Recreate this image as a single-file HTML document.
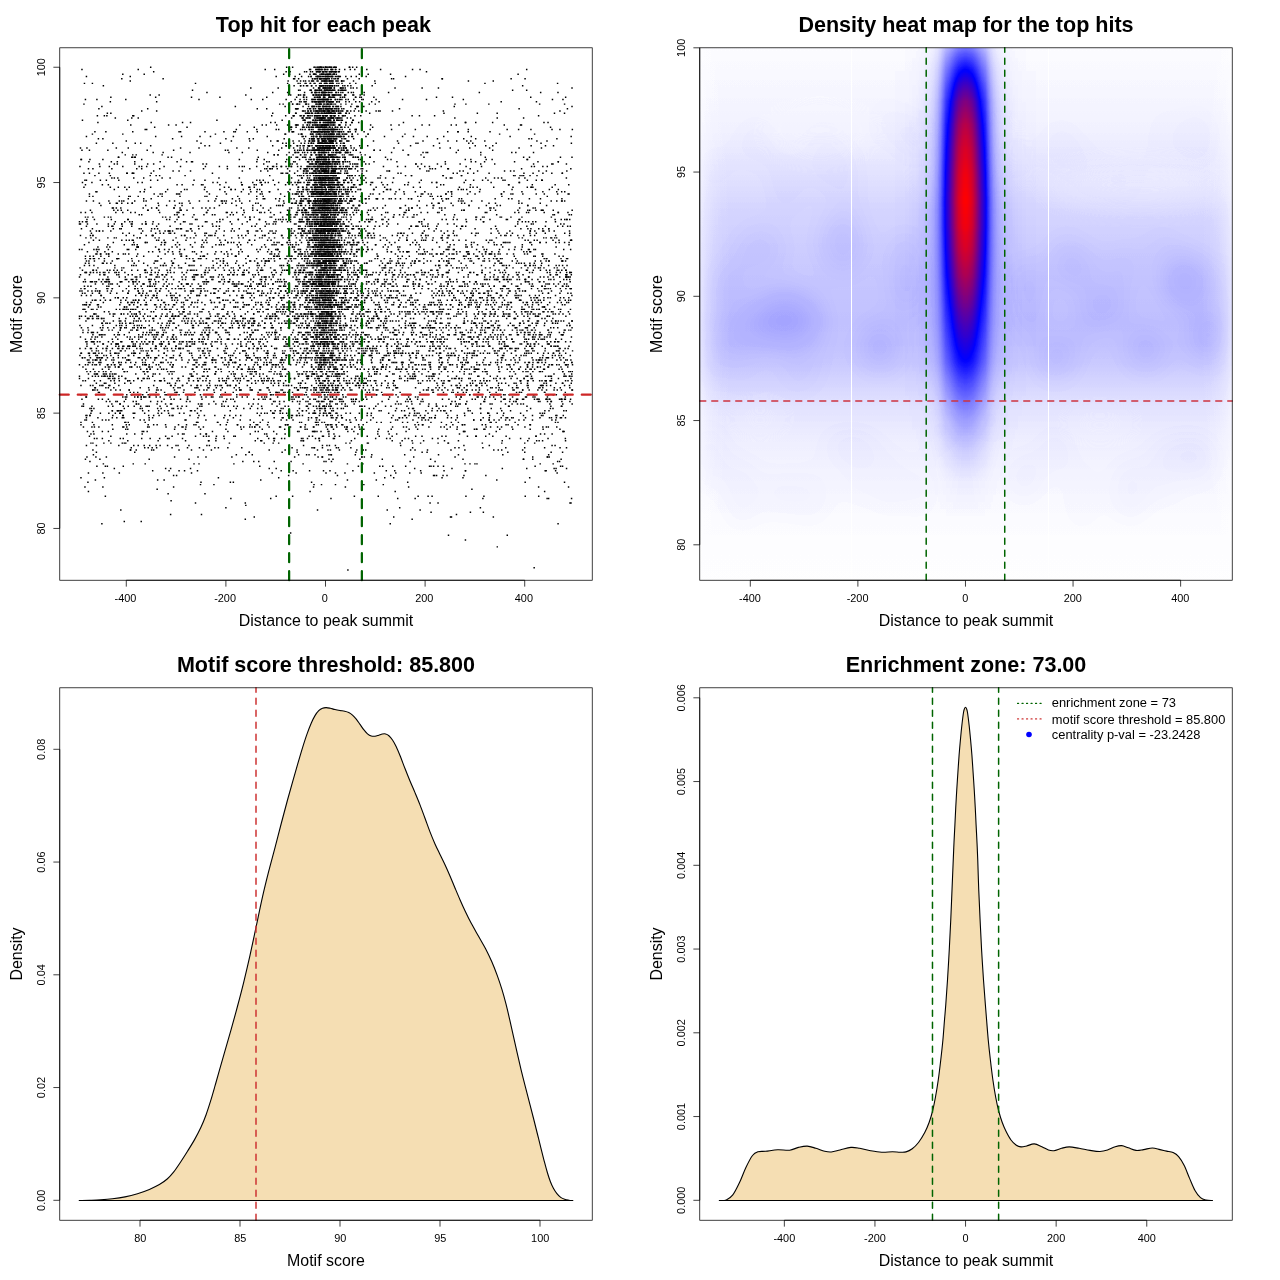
<!DOCTYPE html>
<html lang="en"><head><meta charset="utf-8"><title>Motif enrichment plots</title>
<style>html,body{margin:0;padding:0;background:#fff}svg{display:block}text{font-family:"Liberation Sans",Arial,Helvetica,sans-serif;fill:#000}</style>
</head><body>
<svg width="1280" height="1280" viewBox="0 0 1280 1280">
<rect width="1280" height="1280" fill="#fff"/>
<g transform="translate(324.76,67.24) scale(0.49802,2.3060)" stroke="#000" stroke-width="0.6375" fill="none">
<path d="M-23 0h2.95m7 0h2.95m3 0h2.95m5 0h2.95m-1 0h2.95m5 0h2.95m5 0h2.95m0 0h2.95m38 0h2.95M-102 1h2.95m80 0h2.95m0 0h2.95m2 0h2.95m7 0h2.95m9.1 0h2.95m6 0h2.95m27.1 0h2.95m122 0h2.95M-79 2h2.95m46 0h2.95m14.1 0h2.95m5 0h2.95m4 0h2.95m7 0h2.95m5 0h2.95m5 0h2.95M-407 3h2.95m332.1 0h2.95m46 0h2.95m9.1 0h2.95m4 0h2.95m4 0h2.95m-2 0h2.95m3 0h2.95m-2 0h2.95m4 0h2.95m1 0h2.95m362.1 0h2.95M-61 4h2.95m29.1 0h2.95m7 0h2.95m1 0h2.95m-2 0h2.95m5 0h2.95m4 0h2.95m1 0h2.95m-1 0h2.95m3 0h2.95m-2 0h2.95m9.1 0h2.95m23.1 0h2.95M-409 5h2.95m352.1 0h2.95m35 0h2.95m3 0h2.95m-2 0h2.95m4 0h2.95m1 0h2.95m-2 0h2.95m7 0h2.95m10.1 0h2.95m108 0h2.95m261.1 0h2.95M-50 6h2.95m19.1 0h2.95m10.1 0h2.95m10.1 0h2.95m7 0h2.95m4 0h2.95m14.1 0h2.95m64 0h2.95M-468 7h2.95m414.1 0h2.95m18.1 0h2.95m18.1 0h2.95m7 0h2.95m-2 0h2.95m5 0h2.95m1 0h2.95m-2 0h2.95m31.1 0h2.95m414.1 0h2.95M-50 8h2.95m19.1 0h2.95m14.1 0h2.95m-2 0h2.95m0 0h2.95m0 0h2.95m5 0h2.95m3 0h2.95m6 0h2.95m17.1 0h2.95m354.1 0h2.95M-14 9h2.95m7 0h2.95m1 0h2.95m-2 0h2.95m3 0h2.95m-2 0h2.95m7 0h2.95m9.1 0h2.95m7 0h2.95m97 0h2.95M-267 10h2.95m235.1 0h2.95m10.1 0h2.95m5 0h2.95m7 0h2.95m2 0h2.95m5 0h2.95m9.1 0h2.95m6 0h2.95m365.1 0h2.95M-42 11h2.95m18.1 0h2.95m-2 0h2.95m5 0h2.95m3 0h2.95m-2 0h2.95m1 0h2.95m-2 0h2.95m8.1 0h2.95m12.1 0h2.95m23.1 0h2.95m254.1 0h2.95M-334 12h2.95m277.1 0h2.95m26.1 0h2.95m5 0h2.95m6 0h2.95m2 0h2.95m-2 0h2.95m4 0h2.95m6 0h2.95m-1 0h2.95m3 0h2.95m6 0h2.95m23.1 0h2.95M-341 13h2.95m280.1 0h2.95m36 0h2.95m5 0h2.95m15.1 0h2.95m5 0h2.95m16.1 0h2.95m32 0h2.95m183.1 0h2.95M-459 14h2.95m330.1 0h2.95m80 0h2.95m18.1 0h2.95m6 0h2.95m4 0h2.95m0 0h2.95m-1 0h2.95m1 0h2.95m-2 0h2.95m5 0h2.95m15.1 0h2.95m24.1 0h2.95m95 0h2.95m319.1 0h2.95M-52 15h2.95m10.1 0h2.95m15.1 0h2.95m3 0h2.95m1 0h2.95m-2 0h2.95m3 0h2.95m4 0h2.95m1 0h2.95m2 0h2.95m-1 0h2.95m6 0h2.95m2 0h2.95m38 0h2.95m352.1 0h2.95M-74 16h2.95m15.1 0h2.95m1 0h2.95m15.1 0h2.95m19.1 0h2.95m6 0h2.95m5 0h2.95m4 0h2.95m16.1 0h2.95m66 0h2.95m327.1 0h2.95M-81 17h2.95m51 0h2.95m-1 0h2.95m8.1 0h2.95m6 0h2.95m4 0h2.95m4 0h2.95m10.1 0h2.95m26.1 0h2.95m23.1 0h2.95M-357 18h2.95m295.1 0h2.95m24.1 0h2.95m15.1 0h2.95m3 0h2.95m7 0h2.95m2 0h2.95m-1 0h2.95m1 0h2.95m-2 0h2.95m9.1 0h2.95m31.1 0h2.95M-369 19h2.95m325.1 0h2.95m14.1 0h2.95m4 0h2.95m5 0h2.95m3 0h2.95m4 0h2.95m1 0h2.95m-2 0h2.95m4 0h2.95m4 0h2.95m7 0h2.95m15.1 0h2.95m48 0h2.95m132.1 0h2.95M-106 20h2.95m63 0h2.95m5 0h2.95m10.1 0h2.95m3 0h2.95m8.1 0h2.95m4 0h2.95m2 0h2.95m4 0h2.95m8.1 0h2.95m11.1 0h2.95m260.1 0h2.95M-458 21h2.95m70 0h2.95m318.1 0h2.95m17.1 0h2.95m10.1 0h2.95m10.1 0h2.95m3 0h2.95m5 0h2.95m3 0h2.95m7 0h2.95m3 0h2.95m-2 0h2.95m15.1 0h2.95m134.1 0h2.95M-422 22h2.95m372.1 0h2.95m7 0h2.95m12.1 0h2.95m4 0h2.95m0 0h2.95m1 0h2.95m1 0h2.95m7 0h2.95m4 0h2.95m5 0h2.95m6 0h2.95m227.1 0h2.95M-397 23h2.95m351.1 0h2.95m15.1 0h2.95m1 0h2.95m5 0h2.95m1 0h2.95m0 0h2.95m-1 0h2.95m3 0h2.95m2 0h2.95m0 0h2.95m-2 0h2.95m9.1 0h2.95m0 0h2.95m26.1 0h2.95M-287 24h2.95m243.1 0h2.95m7 0h2.95m6 0h2.95m2 0h2.95m10.1 0h2.95m-2 0h2.95m4 0h2.95m0 0h2.95m-1 0h2.95m0 0h2.95m-2 0h2.95m1 0h2.95m-1 0h2.95m31.1 0h2.95m225.1 0h2.95m155.1 0h2.95M-300 25h2.95m199.1 0h2.95m37 0h2.95m0 0h2.95m20.1 0h2.95m8.1 0h2.95m-1 0h2.95m4 0h2.95m3 0h2.95m1 0h2.95m-2 0h2.95m0 0h2.95m-1 0h2.95m6 0h2.95m12.1 0h2.95m60 0h2.95m115 0h2.95m180.1 0h2.95M-143 26h2.95m81 0h2.95m18.1 0h2.95m7 0h2.95m6 0h2.95m-1 0h2.95m2 0h2.95m1 0h2.95m-2 0h2.95m3 0h2.95m-1 0h2.95m4 0h2.95m-2 0h2.95m13.1 0h2.95m18.1 0h2.95M-359 27h2.95m262.1 0h2.95m50 0h2.95m13.1 0h2.95m13.1 0h2.95m4 0h2.95m4 0h2.95m-2 0h2.95m2 0h2.95m-2 0h2.95m0 0h2.95m-2 0h2.95m3 0h2.95m24.1 0h2.95m81 0h2.95m252.1 0h2.95m105 0h2.95M-294 28h2.95m107 0h2.95m108 0h2.95m42 0h2.95m5 0h2.95m2 0h2.95m-1 0h2.95m3 0h2.95m3 0h2.95m3 0h2.95m6 0h2.95m3 0h2.95m6 0h2.95m14.1 0h2.95m29.1 0h2.95m206.1 0h2.95M-221 29h2.95m169.1 0h2.95m16.1 0h2.95m0 0h2.95m7 0h2.95m2 0h2.95m-2 0h2.95m6 0h2.95m2 0h2.95m4 0h2.95m1 0h2.95m-2 0h2.95m6 0h2.95m7 0h2.95m5 0h2.95m41 0h2.95M-480 30h2.95m246.1 0h2.95m183.1 0h2.95m18.1 0h2.95m9.1 0h2.95m0 0h2.95m1 0h2.95m2 0h2.95m-2 0h2.95m2 0h2.95m3 0h2.95m4 0h2.95m5 0h2.95m2 0h2.95m18.1 0h2.95m99 0h2.95m135.1 0h2.95M-447 31h2.95m299.1 0h2.95m114 0h2.95m2 0h2.95m7 0h2.95m4 0h2.95m-2 0h2.95m2 0h2.95m3 0h2.95m3 0h2.95m-2 0h2.95m4 0h2.95m-1 0h2.95m16.1 0h2.95m258.1 0h2.95M-400 32h2.95m287.1 0h2.95m54 0h2.95m18.1 0h2.95m2 0h2.95m9.1 0h2.95m6 0h2.95m0 0h2.95m-2 0h2.95m5 0h2.95m1 0h2.95m-2 0h2.95m0 0h2.95m-2 0h2.95m11.1 0h2.95m13.1 0h2.95m148.1 0h2.95m93 0h2.95M-460 33h2.95m207.1 0h2.95m183.1 0h2.95m32 0h2.95m11.1 0h2.95m-2 0h2.95m2 0h2.95m0 0h2.95m0 0h2.95m1 0h2.95m5 0h2.95m0 0h2.95m-2 0h2.95m6 0h2.95m13.1 0h2.95m188.1 0h2.95m201.1 0h2.95M-233 34h2.95m173.1 0h2.95m11.1 0h2.95m7 0h2.95m-2 0h2.95m11.1 0h2.95m3 0h2.95m4 0h2.95m2 0h2.95m-2 0h2.95m4 0h2.95m4 0h2.95m12.1 0h2.95m18.1 0h2.95m163.1 0h2.95m193.1 0h2.95M-479 35h2.95m222.1 0h2.95m187.1 0h2.95m35 0h2.95m8.1 0h2.95m0 0h2.95m2 0h2.95m1 0h2.95m-2 0h2.95m0 0h2.95m-2 0h2.95m1 0h2.95m-2 0h2.95m1 0h2.95m-1 0h2.95m3 0h2.95m10.1 0h2.95m7 0h2.95m93 0h2.95m189.1 0h2.95M-474 36h2.95m270.1 0h2.95m136.1 0h2.95m15.1 0h2.95m12.1 0h2.95m3 0h2.95m2 0h2.95m1 0h2.95m0 0h2.95m0 0h2.95m3 0h2.95m3 0h2.95m-2 0h2.95m2 0h2.95m10.1 0h2.95m7 0h2.95m9.1 0h2.95m50 0h2.95m9.1 0h2.95M-408 37h2.95m211.1 0h2.95m130.1 0h2.95m16.1 0h2.95m17.1 0h2.95m7 0h2.95m-2 0h2.95m4 0h2.95m3 0h2.95m15.1 0h2.95m5 0h2.95m9.1 0h2.95m2 0h2.95m2 0h2.95m149.1 0h2.95m169.1 0h2.95M-387 38h2.95m281.1 0h2.95m4 0h2.95m43 0h2.95m19.1 0h2.95m12.1 0h2.95m2 0h2.95m4 0h2.95m4 0h2.95m1 0h2.95m2 0h2.95m16.1 0h2.95m15.1 0h2.95m111 0h2.95M-416 39h2.95m30.1 0h2.95m245.1 0h2.95m86 0h2.95m25.1 0h2.95m3 0h2.95m2 0h2.95m2 0h2.95m2 0h2.95m4 0h2.95m1 0h2.95m5 0h2.95m4 0h2.95m24.1 0h2.95m7 0h2.95m129.1 0h2.95m271.1 0h2.95M-473 40h2.95m297.1 0h2.95m118 0h2.95m21.1 0h2.95m8.1 0h2.95m2 0h2.95m4 0h2.95m1 0h2.95m0 0h2.95m1 0h2.95m6 0h2.95m9.1 0h2.95m41 0h2.95m218.1 0h2.95m111 0h2.95M-383 41h2.95m111 0h2.95m153.1 0h2.95m74 0h2.95m14.1 0h2.95m1 0h2.95m-2 0h2.95m6 0h2.95m2 0h2.95m2 0h2.95m0 0h2.95m-2 0h2.95m7 0h2.95m4 0h2.95m6 0h2.95m7 0h2.95m96 0h2.95m173.1 0h2.95m145.1 0h2.95M-454 42h2.95m94 0h2.95m230.1 0h2.95m64 0h2.95m28.1 0h2.95m5 0h2.95m5 0h2.95m-2 0h2.95m2 0h2.95m0 0h2.95m-1 0h2.95m3 0h2.95m9.1 0h2.95m7 0h2.95m27.1 0h2.95m26.1 0h2.95m150.1 0h2.95m174.1 0h2.95M-493 43h2.95m116 0h2.95m80 0h2.95m115 0h2.95m54 0h2.95m24.1 0h2.95m17.1 0h2.95m29.1 0h2.95m5 0h2.95m6 0h2.95m2 0h2.95m-2 0h2.95m0 0h2.95m-1 0h2.95m2 0h2.95m2 0h2.95m-1 0h2.95m0 0h2.95m-2 0h2.95m3 0h2.95m-1 0h2.95m11.1 0h2.95m12.1 0h2.95m18.1 0h2.95m118 0h2.95m94 0h2.95m151.1 0h2.95M-429 44h2.95m181.1 0h2.95m124 0h2.95m18.1 0h2.95m53 0h2.95m6 0h2.95m9.1 0h2.95m1 0h2.95m-2 0h2.95m4 0h2.95m0 0h2.95m1 0h2.95m-2 0h2.95m3 0h2.95m6 0h2.95m-2 0h2.95m3 0h2.95m-2 0h2.95m9.1 0h2.95m11.1 0h2.95m20.1 0h2.95m140.1 0h2.95m73 0h2.95M-306 45h2.95m173.1 0h2.95m83 0h2.95m6 0h2.95m13.1 0h2.95m4 0h2.95m-2 0h2.95m3 0h2.95m0 0h2.95m-1 0h2.95m3 0h2.95m5 0h2.95m0 0h2.95m-2 0h2.95m19.1 0h2.95m40 0h2.95m118 0h2.95m99 0h2.95m120 0h2.95M-474 46h2.95m73 0h2.95m45 0h2.95m268.1 0h2.95m37 0h2.95m10.1 0h2.95m5 0h2.95m5 0h2.95m5 0h2.95m2 0h2.95m1 0h2.95m3 0h2.95m-2 0h2.95m1 0h2.95m-2 0h2.95m6 0h2.95m14.1 0h2.95m209.1 0h2.95m69 0h2.95m123 0h2.95M-352 47h2.95m237.1 0h2.95m65 0h2.95m17.1 0h2.95m3 0h2.95m4 0h2.95m3 0h2.95m0 0h2.95m1 0h2.95m-2 0h2.95m4 0h2.95m4 0h2.95m2 0h2.95m27.1 0h2.95m18.1 0h2.95m97 0h2.95m98 0h2.95m118 0h2.95M-429 48h2.95m61 0h2.95m189.1 0h2.95m134.1 0h2.95m14.1 0h2.95m3 0h2.95m0 0h2.95m-2 0h2.95m2 0h2.95m0 0h2.95m1 0h2.95m3 0h2.95m2 0h2.95m0 0h2.95m5 0h2.95m21.1 0h2.95m29.1 0h2.95m53 0h2.95m182.1 0h2.95m64 0h2.95M-480 49h2.95m126 0h2.95m210.1 0h2.95m81 0h2.95m22.1 0h2.95m4 0h2.95m4 0h2.95m2 0h2.95m1 0h2.95m1 0h2.95m0 0h2.95m-2 0h2.95m2 0h2.95m0 0h2.95m2 0h2.95m-2 0h2.95m4 0h2.95m-2 0h2.95m14.1 0h2.95m34 0h2.95m235.1 0h2.95m87 0h2.95M-488 50h2.95m259.1 0h2.95m77 0h2.95m28.1 0h2.95m51 0h2.95m8.1 0h2.95m15.1 0h2.95m10.1 0h2.95m1 0h2.95m2 0h2.95m0 0h2.95m-2 0h2.95m3 0h2.95m4 0h2.95m-1 0h2.95m4 0h2.95m-1 0h2.95m5 0h2.95m0 0h2.95m15.1 0h2.95m45 0h2.95m91 0h2.95m87 0h2.95M-482 51h2.95m191.1 0h2.95m73 0h2.95m70 0h2.95m70 0h2.95m30.1 0h2.95m9.1 0h2.95m6 0h2.95m3 0h2.95m1 0h2.95m-2 0h2.95m3 0h2.95m2 0h2.95m0 0h2.95m3 0h2.95m0 0h2.95m2 0h2.95m1 0h2.95m23.1 0h2.95m31.1 0h2.95m72 0h2.95m199.1 0h2.95m118 0h2.95M-403 52h2.95m197.1 0h2.95m57 0h2.95m95 0h2.95m20.1 0h2.95m3 0h2.95m2 0h2.95m3 0h2.95m7 0h2.95m2 0h2.95m1 0h2.95m7 0h2.95m9.1 0h2.95m14.1 0h2.95m46 0h2.95m119 0h2.95m78 0h2.95m105 0h2.95M-424 53h2.95m138.1 0h2.95m90 0h2.95m36 0h2.95m77 0h2.95m29.1 0h2.95m9.1 0h2.95m4 0h2.95m2 0h2.95m5 0h2.95m4 0h2.95m4 0h2.95m0 0h2.95m0 0h2.95m-1 0h2.95m6 0h2.95m13.1 0h2.95m8.1 0h2.95m17.1 0h2.95m51 0h2.95m145.1 0h2.95m99 0h2.95M-461 54h2.95m137.1 0h2.95m149.1 0h2.95m53 0h2.95m57 0h2.95m14.1 0h2.95m7 0h2.95m4 0h2.95m1 0h2.95m2 0h2.95m0 0h2.95m-2 0h2.95m2 0h2.95m4 0h2.95m5 0h2.95m2 0h2.95m6 0h2.95m14.1 0h2.95m69 0h2.95m80 0h2.95m88 0h2.95m143.1 0h2.95M-474 55h2.95m172.1 0h2.95m97 0h2.95m106 0h2.95m29.1 0h2.95m27.1 0h2.95m1 0h2.95m-2 0h2.95m3 0h2.95m-2 0h2.95m3 0h2.95m1 0h2.95m-2 0h2.95m3 0h2.95m2 0h2.95m3 0h2.95m4 0h2.95m12.1 0h2.95m9.1 0h2.95m91 0h2.95m64 0h2.95m44 0h2.95m97 0h2.95m16.1 0h2.95m64 0h2.95M-474 56h2.95m79 0h2.95m97 0h2.95m113 0h2.95m120 0h2.95m17.1 0h2.95m5 0h2.95m6 0h2.95m4 0h2.95m3 0h2.95m1 0h2.95m2 0h2.95m2 0h2.95m-1 0h2.95m3 0h2.95m-2 0h2.95m6 0h2.95m4 0h2.95m33 0h2.95m136.1 0h2.95m19.1 0h2.95M-396 57h2.95m206.1 0h2.95m62 0h2.95m56 0h2.95m20.1 0h2.95m16.1 0h2.95m-2 0h2.95m7 0h2.95m2 0h2.95m-2 0h2.95m0 0h2.95m-2 0h2.95m2 0h2.95m0 0h2.95m-2 0h2.95m2 0h2.95m7 0h2.95m5 0h2.95m18.1 0h2.95m4 0h2.95m25.1 0h2.95m25.1 0h2.95m32 0h2.95m80 0h2.95m37 0h2.95m133.1 0h2.95M-466 58h2.95m58 0h2.95m89 0h2.95m75 0h2.95m29.1 0h2.95m48 0h2.95m99 0h2.95m11.1 0h2.95m3 0h2.95m4 0h2.95m-1 0h2.95m2 0h2.95m4 0h2.95m3 0h2.95m1 0h2.95m2 0h2.95m3 0h2.95m4 0h2.95m-1 0h2.95m5 0h2.95m3 0h2.95m12.1 0h2.95m-2 0h2.95m19.1 0h2.95m197.1 0h2.95m113 0h2.95m84 0h2.95M-420 59h2.95m29.1 0h2.95m113 0h2.95m101 0h2.95m97 0h2.95m6 0h2.95m4 0h2.95m15.1 0h2.95m-2 0h2.95m10.1 0h2.95m7 0h2.95m3 0h2.95m-2 0h2.95m2 0h2.95m1 0h2.95m2 0h2.95m2 0h2.95m-2 0h2.95m5 0h2.95m5 0h2.95m46 0h2.95m168.1 0h2.95m86 0h2.95M-451 60h2.95m146.1 0h2.95m153.1 0h2.95m52 0h2.95m40 0h2.95m21.1 0h2.95m1 0h2.95m-1 0h2.95m2 0h2.95m-2 0h2.95m1 0h2.95m0 0h2.95m-2 0h2.95m0 0h2.95m-2 0h2.95m2 0h2.95m3 0h2.95m3 0h2.95m9.1 0h2.95m36 0h2.95m-2 0h2.95m132.1 0h2.95m82 0h2.95m115 0h2.95M-420 61h2.95m78 0h2.95m88 0h2.95m76 0h2.95m94 0h2.95m26.1 0h2.95m12.1 0h2.95m-1 0h2.95m6 0h2.95m4 0h2.95m1 0h2.95m0 0h2.95m-2 0h2.95m1 0h2.95m-2 0h2.95m1 0h2.95m3 0h2.95m1 0h2.95m-1 0h2.95m3 0h2.95m1 0h2.95m14.1 0h2.95m15.1 0h2.95m83 0h2.95m22.1 0h2.95m56 0h2.95m96 0h2.95m86 0h2.95M-410 62h2.95m72 0h2.95m96 0h2.95m119 0h2.95m56 0h2.95m11.1 0h2.95m11.1 0h2.95m6 0h2.95m3 0h2.95m3 0h2.95m-2 0h2.95m2 0h2.95m-2 0h2.95m2 0h2.95m-2 0h2.95m6 0h2.95m0 0h2.95m2 0h2.95m7 0h2.95m6 0h2.95m41 0h2.95m78 0h2.95m108 0h2.95m50 0h2.95m76 0h2.95m24.1 0h2.95M-482 63h2.95m88 0h2.95m92 0h2.95m94 0h2.95m33 0h2.95m50 0h2.95m60 0h2.95m5 0h2.95m10.1 0h2.95m-2 0h2.95m3 0h2.95m3 0h2.95m-1 0h2.95m2 0h2.95m2 0h2.95m-2 0h2.95m2 0h2.95m-1 0h2.95m1 0h2.95m3 0h2.95m0 0h2.95m4 0h2.95m4 0h2.95m7 0h2.95m75 0h2.95m68 0h2.95m126 0h2.95m80 0h2.95m61 0h2.95M-303 64h2.95m56 0h2.95m56 0h2.95m107 0h2.95m27.1 0h2.95m11.1 0h2.95m5 0h2.95m4 0h2.95m-2 0h2.95m8.1 0h2.95m0 0h2.95m-1 0h2.95m2 0h2.95m8.1 0h2.95m5 0h2.95m10.1 0h2.95m30.1 0h2.95m64 0h2.95m43 0h2.95m270.1 0h2.95M-482 65h2.95m43 0h2.95m121 0h2.95m148.1 0h2.95m50 0h2.95m44 0h2.95m21.1 0h2.95m9.1 0h2.95m3 0h2.95m7 0h2.95m-2 0h2.95m1 0h2.95m-2 0h2.95m2 0h2.95m-1 0h2.95m2 0h2.95m-2 0h2.95m5 0h2.95m-1 0h2.95m19.1 0h2.95m92 0h2.95m38 0h2.95m135.1 0h2.95m54 0h2.95M-464 66h2.95m142.1 0h2.95m58 0h2.95m80 0h2.95m20.1 0h2.95m49 0h2.95m18.1 0h2.95m29.1 0h2.95m9.1 0h2.95m9.1 0h2.95m-2 0h2.95m3 0h2.95m4 0h2.95m3 0h2.95m0 0h2.95m-2 0h2.95m2 0h2.95m-2 0h2.95m2 0h2.95m3 0h2.95m4 0h2.95m-1 0h2.95m21.1 0h2.95m39 0h2.95m31.1 0h2.95m127 0h2.95m52 0h2.95m74 0h2.95m89 0h2.95M-494 67h2.95m69 0h2.95m58 0h2.95m76 0h2.95m67 0h2.95m106 0h2.95m30.1 0h2.95m19.1 0h2.95m9.1 0h2.95m7 0h2.95m4 0h2.95m1 0h2.95m3 0h2.95m2 0h2.95m-1 0h2.95m1 0h2.95m2 0h2.95m1 0h2.95m1 0h2.95m-2 0h2.95m1 0h2.95m-1 0h2.95m5 0h2.95m47 0h2.95m41 0h2.95m157.1 0h2.95m109 0h2.95m24.1 0h2.95M-492 68h2.95m65 0h2.95m53 0h2.95m30.1 0h2.95m105 0h2.95m106 0h2.95m53 0h2.95m27.1 0h2.95m7 0h2.95m2 0h2.95m-2 0h2.95m3 0h2.95m3 0h2.95m5 0h2.95m1 0h2.95m0 0h2.95m3 0h2.95m3 0h2.95m8.1 0h2.95m90 0h2.95m97 0h2.95m184.1 0h2.95M-480 69h2.95m69 0h2.95m150.1 0h2.95m39 0h2.95m156.1 0h2.95m19.1 0h2.95m7 0h2.95m7 0h2.95m1 0h2.95m0 0h2.95m-2 0h2.95m1 0h2.95m-1 0h2.95m1 0h2.95m-2 0h2.95m2 0h2.95m7 0h2.95m16.1 0h2.95m12.1 0h2.95m26.1 0h2.95m84 0h2.95m11.1 0h2.95m35 0h2.95m55 0h2.95m157.1 0h2.95m47 0h2.95M-413 70h2.95m61 0h2.95m50 0h2.95m23.1 0h2.95m94 0h2.95m116 0h2.95m10.1 0h2.95m17.1 0h2.95m2 0h2.95m-1 0h2.95m2 0h2.95m-2 0h2.95m1 0h2.95m-2 0h2.95m0 0h2.95m-2 0h2.95m4 0h2.95m1 0h2.95m-2 0h2.95m1 0h2.95m-1 0h2.95m1 0h2.95m7 0h2.95m19.1 0h2.95m21.1 0h2.95m141.1 0h2.95m118 0h2.95m82 0h2.95M-460 71h2.95m90 0h2.95m48 0h2.95m34 0h2.95m73 0h2.95m45 0h2.95m41 0h2.95m46 0h2.95m17.1 0h2.95m13.1 0h2.95m5 0h2.95m-1 0h2.95m2 0h2.95m1 0h2.95m1 0h2.95m-2 0h2.95m3 0h2.95m0 0h2.95m-2 0h2.95m0 0h2.95m0 0h2.95m0 0h2.95m-2 0h2.95m0 0h2.95m-1 0h2.95m9.1 0h2.95m9.1 0h2.95m169.1 0h2.95m125 0h2.95m87 0h2.95m51 0h2.95M-370 72h2.95m53 0h2.95m69 0h2.95m125 0h2.95m46 0h2.95m19.1 0h2.95m8.1 0h2.95m4 0h2.95m8.1 0h2.95m1 0h2.95m-2 0h2.95m3 0h2.95m6 0h2.95m4 0h2.95m0 0h2.95m10.1 0h2.95m37 0h2.95m74 0h2.95m26.1 0h2.95m79 0h2.95m73 0h2.95m75 0h2.95m77 0h2.95M-467 73h2.95m64 0h2.95m50 0h2.95m62 0h2.95m48 0h2.95m53 0h2.95m46 0h2.95m36 0h2.95m36 0h2.95m0 0h2.95m19.1 0h2.95m0 0h2.95m4 0h2.95m5 0h2.95m2 0h2.95m-1 0h2.95m3 0h2.95m2 0h2.95m-2 0h2.95m4 0h2.95m2 0h2.95m19.1 0h2.95m20.1 0h2.95m25.1 0h2.95m54 0h2.95m43 0h2.95m2 0h2.95m50 0h2.95m98 0h2.95m35 0h2.95m89 0h2.95M-437 74h2.95m61 0h2.95m70 0h2.95m59 0h2.95m70 0h2.95m60 0h2.95m41 0h2.95m23.1 0h2.95m6 0h2.95m1 0h2.95m3 0h2.95m2 0h2.95m-1 0h2.95m2 0h2.95m1 0h2.95m-2 0h2.95m5 0h2.95m4 0h2.95m25.1 0h2.95m37 0h2.95m27.1 0h2.95m75 0h2.95m36 0h2.95m107 0h2.95m97 0h2.95m18.1 0h2.95M-400 75h2.95m58 0h2.95m56 0h2.95m76 0h2.95m82 0h2.95m62 0h2.95m20.1 0h2.95m3 0h2.95m2 0h2.95m0 0h2.95m2 0h2.95m-1 0h2.95m2 0h2.95m4 0h2.95m2 0h2.95m4 0h2.95m5 0h2.95m11.1 0h2.95m69 0h2.95m50 0h2.95m-2 0h2.95m34 0h2.95m64 0h2.95m63 0h2.95m88 0h2.95m66 0h2.95M-362 76h2.95m36 0h2.95m76 0h2.95m45 0h2.95m4 0h2.95m83 0h2.95m24.1 0h2.95m38 0h2.95m12.1 0h2.95m5 0h2.95m2 0h2.95m-2 0h2.95m1 0h2.95m2 0h2.95m4 0h2.95m-2 0h2.95m3 0h2.95m3 0h2.95m-2 0h2.95m18.1 0h2.95m1 0h2.95m15.1 0h2.95m6 0h2.95m97 0h2.95m115 0h2.95m61 0h2.95m10.1 0h2.95m58 0h2.95m46 0h2.95M-404 77h2.95m71 0h2.95m56 0h2.95m59 0h2.95m58 0h2.95m46 0h2.95m26.1 0h2.95m32 0h2.95m11.1 0h2.95m4 0h2.95m-2 0h2.95m0 0h2.95m-2 0h2.95m1 0h2.95m1 0h2.95m-2 0h2.95m2 0h2.95m-2 0h2.95m4 0h2.95m2 0h2.95m3 0h2.95m-1 0h2.95m1 0h2.95m-1 0h2.95m16.1 0h2.95m9.1 0h2.95m36 0h2.95m77 0h2.95m98 0h2.95m59 0h2.95m142.1 0h2.95M-379 78h2.95m68 0h2.95m60 0h2.95m122 0h2.95m84 0h2.95m6 0h2.95m5 0h2.95m4 0h2.95m5 0h2.95m1 0h2.95m2 0h2.95m2 0h2.95m1 0h2.95m5 0h2.95m2 0h2.95m52 0h2.95m62 0h2.95m97 0h2.95m64 0h2.95m144.1 0h2.95M-460 79h2.95m59 0h2.95m61 0h2.95m48 0h2.95m149.1 0h2.95m32 0h2.95m40 0h2.95m26.1 0h2.95m5 0h2.95m-1 0h2.95m1 0h2.95m-2 0h2.95m2 0h2.95m1 0h2.95m3 0h2.95m5 0h2.95m3 0h2.95m10.1 0h2.95m27.1 0h2.95m19.1 0h2.95m59 0h2.95m93 0h2.95m13.1 0h2.95m88 0h2.95m55 0h2.95m68 0h2.95M-443 80h2.95m107 0h2.95m63 0h2.95m55 0h2.95m71 0h2.95m71 0h2.95m22.1 0h2.95m13.1 0h2.95m3 0h2.95m2 0h2.95m1 0h2.95m3 0h2.95m-2 0h2.95m0 0h2.95m-2 0h2.95m1 0h2.95m4 0h2.95m4 0h2.95m1 0h2.95m3 0h2.95m16.1 0h2.95m69 0h2.95m36 0h2.95m33 0h2.95m68 0h2.95m36 0h2.95m36 0h2.95m61 0h2.95M-451 81h2.95m32 0h2.95m36 0h2.95m85 0h2.95m83 0h2.95m89 0h2.95m35 0h2.95m23.1 0h2.95m14.1 0h2.95m4 0h2.95m5 0h2.95m4 0h2.95m3 0h2.95m-2 0h2.95m2 0h2.95m3 0h2.95m1 0h2.95m-2 0h2.95m10.1 0h2.95m12.1 0h2.95m13.1 0h2.95m130.1 0h2.95m19.1 0h2.95m15.1 0h2.95m1 0h2.95m25.1 0h2.95m31.1 0h2.95m29.1 0h2.95m14.1 0h2.95m50 0h2.95m58 0h2.95M-451 82h2.95m112 0h2.95m54 0h2.95m25.1 0h2.95m52 0h2.95m38 0h2.95m55 0h2.95m-2 0h2.95m26.1 0h2.95m25.1 0h2.95m9.1 0h2.95m6 0h2.95m6 0h2.95m1 0h2.95m1 0h2.95m-1 0h2.95m2 0h2.95m1 0h2.95m-2 0h2.95m1 0h2.95m-2 0h2.95m6 0h2.95m35 0h2.95m89 0h2.95m120 0h2.95m25.1 0h2.95m110 0h2.95m56 0h2.95M-466 83h2.95m44 0h2.95m86 0h2.95m61 0h2.95m24.1 0h2.95m76 0h2.95m48 0h2.95m25.1 0h2.95m9.1 0h2.95m19.1 0h2.95m3 0h2.95m14.1 0h2.95m5 0h2.95m4 0h2.95m0 0h2.95m-2 0h2.95m3 0h2.95m-2 0h2.95m3 0h2.95m3 0h2.95m3 0h2.95m-2 0h2.95m4 0h2.95m-1 0h2.95m4 0h2.95m4 0h2.95m2 0h2.95m67 0h2.95m41 0h2.95m83 0h2.95m28.1 0h2.95m25.1 0h2.95m-2 0h2.95m32 0h2.95m36 0h2.95m88 0h2.95M-475 84h2.95m76 0h2.95m53 0h2.95m74 0h2.95m56 0h2.95m59 0h2.95m21.1 0h2.95m41 0h2.95m40 0h2.95m11.1 0h2.95m10.1 0h2.95m2 0h2.95m2 0h2.95m0 0h2.95m-2 0h2.95m2 0h2.95m1 0h2.95m4 0h2.95m7 0h2.95m12.1 0h2.95m9.1 0h2.95m64 0h2.95m47 0h2.95m22.1 0h2.95m36 0h2.95m47 0h2.95m50 0h2.95m72 0h2.95m25.1 0h2.95M-482 85h2.95m40 0h2.95m92 0h2.95m36 0h2.95m105 0h2.95m58 0h2.95m12.1 0h2.95m82 0h2.95m10.1 0h2.95m6 0h2.95m2 0h2.95m-2 0h2.95m1 0h2.95m1 0h2.95m6 0h2.95m5 0h2.95m-2 0h2.95m18.1 0h2.95m4 0h2.95m34 0h2.95m41 0h2.95m18.1 0h2.95m28.1 0h2.95m67 0h2.95m99 0h2.95m40 0h2.95m38 0h2.95M-423 86h2.95m63 0h2.95m34 0h2.95m45 0h2.95m44 0h2.95m48 0h2.95m49 0h2.95m43 0h2.95m26.1 0h2.95m10.1 0h2.95m6 0h2.95m-2 0h2.95m3 0h2.95m0 0h2.95m-2 0h2.95m2 0h2.95m-2 0h2.95m4 0h2.95m-2 0h2.95m1 0h2.95m5 0h2.95m3 0h2.95m-1 0h2.95m12.1 0h2.95m3 0h2.95m14.1 0h2.95m60 0h2.95m19.1 0h2.95m76 0h2.95m20.1 0h2.95m91 0h2.95m28.1 0h2.95m39 0h2.95m34 0h2.95m34 0h2.95M-409 87h2.95m68 0h2.95m45 0h2.95m59 0h2.95m36 0h2.95m51 0h2.95m60 0h2.95m21.1 0h2.95m19.1 0h2.95m15.1 0h2.95m3 0h2.95m0 0h2.95m-2 0h2.95m4 0h2.95m4 0h2.95m9.1 0h2.95m-1 0h2.95m11.1 0h2.95m25.1 0h2.95m55 0h2.95m97 0h2.95m41 0h2.95m54 0h2.95m73 0h2.95m22.1 0h2.95m45 0h2.95M-460 88h2.95m39 0h2.95m52 0h2.95m26.1 0h2.95m60 0h2.95m27.1 0h2.95m45 0h2.95m32 0h2.95m29.1 0h2.95m41 0h2.95m26.1 0h2.95m8.1 0h2.95m26.1 0h2.95m3 0h2.95m-2 0h2.95m1 0h2.95m-2 0h2.95m8.1 0h2.95m7 0h2.95m5 0h2.95m6 0h2.95m18.1 0h2.95m19.1 0h2.95m56 0h2.95m72 0h2.95m58 0h2.95m82 0h2.95m69 0h2.95m34 0h2.95M-483 89h2.95m8.1 0h2.95m3 0h2.95m20.1 0h2.95m25.1 0h2.95m62 0h2.95m36 0h2.95m65 0h2.95m57 0h2.95m26.1 0h2.95m16.1 0h2.95m60 0h2.95m15.1 0h2.95m7 0h2.95m9.1 0h2.95m3 0h2.95m5 0h2.95m4 0h2.95m-2 0h2.95m5 0h2.95m2 0h2.95m10.1 0h2.95m26.1 0h2.95m21.1 0h2.95m38 0h2.95m38 0h2.95m40 0h2.95m29.1 0h2.95m18.1 0h2.95m17.1 0h2.95m44 0h2.95m39 0h2.95m51 0h2.95m51 0h2.95m24.1 0h2.95m0 0h2.95M-445 90h2.95m46 0h2.95m44 0h2.95m26.1 0h2.95m56 0h2.95m9.1 0h2.95m50 0h2.95m16.1 0h2.95m28.1 0h2.95m40 0h2.95m61 0h2.95m10.1 0h2.95m7 0h2.95m5 0h2.95m1 0h2.95m-2 0h2.95m4 0h2.95m-2 0h2.95m4 0h2.95m4 0h2.95m3 0h2.95m-1 0h2.95m28.1 0h2.95m26.1 0h2.95m31.1 0h2.95m15.1 0h2.95m24.1 0h2.95m25.1 0h2.95m30.1 0h2.95m74 0h2.95m52 0h2.95m35 0h2.95m83 0h2.95M-494 91h2.95m109 0h2.95m39 0h2.95m28.1 0h2.95m40 0h2.95m32 0h2.95m23.1 0h2.95m81 0h2.95m53 0h2.95m23.1 0h2.95m19.1 0h2.95m3 0h2.95m-1 0h2.95m7 0h2.95m3 0h2.95m1 0h2.95m0 0h2.95m7 0h2.95m8.1 0h2.95m28.1 0h2.95m66 0h2.95m42 0h2.95m42 0h2.95m59 0h2.95m57 0h2.95m27.1 0h2.95m52 0h2.95m36 0h2.95m15.1 0h2.95M-447 92h2.95m9.1 0h2.95m45 0h2.95m31.1 0h2.95m32 0h2.95m50 0h2.95m36 0h2.95m73 0h2.95m27.1 0h2.95m8.1 0h2.95m47 0h2.95m13.1 0h2.95m13.1 0h2.95m5 0h2.95m-1 0h2.95m2 0h2.95m1 0h2.95m7 0h2.95m5 0h2.95m7 0h2.95m4 0h2.95m9.1 0h2.95m14.1 0h2.95m46 0h2.95m26.1 0h2.95m45 0h2.95m65 0h2.95m72 0h2.95m17.1 0h2.95m16.1 0h2.95m18.1 0h2.95m14.1 0h2.95m10.1 0h2.95m41 0h2.95M-486 93h2.95m15.1 0h2.95m22.1 0h2.95m6 0h2.95m44 0h2.95m10.1 0h2.95m36 0h2.95m89 0h2.95m26.1 0h2.95m16.1 0h2.95m-1 0h2.95m45 0h2.95m46 0h2.95m14.1 0h2.95m33 0h2.95m7 0h2.95m6 0h2.95m7 0h2.95m3 0h2.95m3 0h2.95m3 0h2.95m1 0h2.95m-1 0h2.95m3 0h2.95m2 0h2.95m24.1 0h2.95m37 0h2.95m29.1 0h2.95m41 0h2.95m10.1 0h2.95m67 0h2.95m27.1 0h2.95m23.1 0h2.95m97 0h2.95m25.1 0h2.95M-462 94h2.95m31.1 0h2.95m59 0h2.95m22.1 0h2.95m49 0h2.95m10.1 0h2.95m5 0h2.95m60 0h2.95m24.1 0h2.95m9.1 0h2.95m30.1 0h2.95m15.1 0h2.95m37 0h2.95m26.1 0h2.95m5 0h2.95m9.1 0h2.95m1 0h2.95m6 0h2.95m2 0h2.95m5 0h2.95m4 0h2.95m4 0h2.95m3 0h2.95m3 0h2.95m27.1 0h2.95m-2 0h2.95m33 0h2.95m23.1 0h2.95m20.1 0h2.95m43 0h2.95m23.1 0h2.95m63 0h2.95m29.1 0h2.95m59 0h2.95m66 0h2.95m22.1 0h2.95M-477 95h2.95m60 0h2.95m54 0h2.95m11.1 0h2.95m55 0h2.95m99 0h2.95m19.1 0h2.95m22.1 0h2.95m40 0h2.95m10.1 0h2.95m32 0h2.95m8.1 0h2.95m13.1 0h2.95m3 0h2.95m2 0h2.95m1 0h2.95m6 0h2.95m6 0h2.95m9.1 0h2.95m12.1 0h2.95m15.1 0h2.95m71 0h2.95m20.1 0h2.95m1 0h2.95m24.1 0h2.95m47 0h2.95m31.1 0h2.95m40 0h2.95m21.1 0h2.95m15.1 0h2.95m26.1 0h2.95m46 0h2.95m3 0h2.95m40 0h2.95M-483 96h2.95m52 0h2.95m48 0h2.95m43 0h2.95m34 0h2.95m25.1 0h2.95m19.1 0h2.95m21.1 0h2.95m62 0h2.95m46 0h2.95m41 0h2.95m24.1 0h2.95m13.1 0h2.95m9.1 0h2.95m3 0h2.95m6 0h2.95m6 0h2.95m18.1 0h2.95m8.1 0h2.95m20.1 0h2.95m50 0h2.95m79 0h2.95m12.1 0h2.95m33 0h2.95m71 0h2.95m33 0h2.95m43 0h2.95m26.1 0h2.95m37 0h2.95M-493 97h2.95m28.1 0h2.95m21.1 0h2.95m59 0h2.95m32 0h2.95m67 0h2.95m18.1 0h2.95m48 0h2.95m22.1 0h2.95m37 0h2.95m42 0h2.95m24.1 0h2.95m14.1 0h2.95m-2 0h2.95m4 0h2.95m5 0h2.95m1 0h2.95m3 0h2.95m7 0h2.95m2 0h2.95m-1 0h2.95m4 0h2.95m-1 0h2.95m2 0h2.95m4 0h2.95m18.1 0h2.95m28.1 0h2.95m30.1 0h2.95m25.1 0h2.95m11.1 0h2.95m80 0h2.95m19.1 0h2.95m41 0h2.95m36 0h2.95m45 0h2.95m17.1 0h2.95m69 0h2.95M-454 98h2.95m55 0h2.95m34 0h2.95m86 0h2.95m44 0h2.95m63 0h2.95m10.1 0h2.95m31.1 0h2.95m30.1 0h2.95m19.1 0h2.95m3 0h2.95m16.1 0h2.95m16.1 0h2.95m1 0h2.95m-2 0h2.95m5 0h2.95m3 0h2.95m-2 0h2.95m3 0h2.95m-2 0h2.95m4 0h2.95m5 0h2.95m9.1 0h2.95m18.1 0h2.95m29.1 0h2.95m83 0h2.95m50 0h2.95m16.1 0h2.95m15.1 0h2.95m22.1 0h2.95m20.1 0h2.95m44 0h2.95m78 0h2.95m20.1 0h2.95M-480 99h2.95m96 0h2.95m22.1 0h2.95m14.1 0h2.95m32 0h2.95m43 0h2.95m1 0h2.95m59 0h2.95m41 0h2.95m51 0h2.95m33 0h2.95m19.1 0h2.95m9.1 0h2.95m5 0h2.95m2 0h2.95m1 0h2.95m-2 0h2.95m2 0h2.95m2 0h2.95m3 0h2.95m6 0h2.95m44 0h2.95m-2 0h2.95m17.1 0h2.95m22.1 0h2.95m29.1 0h2.95m25.1 0h2.95m59 0h2.95m43 0h2.95m44 0h2.95m22.1 0h2.95m-1 0h2.95m32 0h2.95m38 0h2.95M-422 100h2.95m20.1 0h2.95m58 0h2.95m37 0h2.95m79 0h2.95m48 0h2.95m50 0h2.95m4 0h2.95m14.1 0h2.95m22.1 0h2.95m22.1 0h2.95m10.1 0h2.95m4 0h2.95m2 0h2.95m2 0h2.95m-2 0h2.95m3 0h2.95m2 0h2.95m-2 0h2.95m3 0h2.95m3 0h2.95m9.1 0h2.95m5 0h2.95m20.1 0h2.95m17.1 0h2.95m41 0h2.95m14.1 0h2.95m73 0h2.95m65 0h2.95m24.1 0h2.95m22.1 0h2.95m43 0h2.95m38 0h2.95m25.1 0h2.95M-468 101h2.95m23.1 0h2.95m53 0h2.95m8.1 0h2.95m8.1 0h2.95m53 0h2.95m28.1 0h2.95m69 0h2.95m18.1 0h2.95m93 0h2.95m54 0h2.95m1 0h2.95m5 0h2.95m10.1 0h2.95m1 0h2.95m0 0h2.95m-1 0h2.95m1 0h2.95m-1 0h2.95m5 0h2.95m19.1 0h2.95m15.1 0h2.95m33 0h2.95m52 0h2.95m34 0h2.95m57 0h2.95m34 0h2.95m18.1 0h2.95m28.1 0h2.95m54 0h2.95m34 0h2.95m51 0h2.95M-471 102h2.95m71 0h2.95m4 0h2.95m10.1 0h2.95m14.1 0h2.95m68 0h2.95m29.1 0h2.95m41 0h2.95m34 0h2.95m44 0h2.95m49 0h2.95m12.1 0h2.95m18.1 0h2.95m13.1 0h2.95m4 0h2.95m3 0h2.95m4 0h2.95m1 0h2.95m-2 0h2.95m5 0h2.95m-1 0h2.95m2 0h2.95m15.1 0h2.95m1 0h2.95m-1 0h2.95m37 0h2.95m43 0h2.95m44 0h2.95m39 0h2.95m53 0h2.95m28.1 0h2.95m34 0h2.95m31.1 0h2.95m31.1 0h2.95m25.1 0h2.95m48 0h2.95M-481 103h2.95m20.1 0h2.95m62 0h2.95m31.1 0h2.95m35 0h2.95m34 0h2.95m78 0h2.95m37 0h2.95m7 0h2.95m35 0h2.95m29.1 0h2.95m29.1 0h2.95m26.1 0h2.95m7 0h2.95m-2 0h2.95m5 0h2.95m4 0h2.95m0 0h2.95m1 0h2.95m5 0h2.95m2 0h2.95m0 0h2.95m24.1 0h2.95m14.1 0h2.95m60 0h2.95m38 0h2.95m29.1 0h2.95m10.1 0h2.95m20.1 0h2.95m23.1 0h2.95m21.1 0h2.95m31.1 0h2.95m30.1 0h2.95m43 0h2.95m67 0h2.95M-451 104h2.95m70 0h2.95m52 0h2.95m46 0h2.95m54 0h2.95m34 0h2.95m33 0h2.95m52 0h2.95m12.1 0h2.95m20.1 0h2.95m11.1 0h2.95m13.1 0h2.95m6 0h2.95m8.1 0h2.95m2 0h2.95m-2 0h2.95m4 0h2.95m-2 0h2.95m9.1 0h2.95m1 0h2.95m13.1 0h2.95m4 0h2.95m21.1 0h2.95m68 0h2.95m31.1 0h2.95m72 0h2.95m43 0h2.95m44 0h2.95m43 0h2.95m41 0h2.95M-485 105h2.95m23.1 0h2.95m50 0h2.95m0 0h2.95m9.1 0h2.95m21.1 0h2.95m42 0h2.95m9.1 0h2.95m62 0h2.95m37 0h2.95m71 0h2.95m30.1 0h2.95m9.1 0h2.95m23.1 0h2.95m25.1 0h2.95m9.1 0h2.95m4 0h2.95m1 0h2.95m3 0h2.95m-2 0h2.95m10.1 0h2.95m14.1 0h2.95m7 0h2.95m-1 0h2.95m3 0h2.95m28.1 0h2.95m31.1 0h2.95m63 0h2.95m24.1 0h2.95m30.1 0h2.95m27.1 0h2.95m53 0h2.95m10.1 0h2.95m25.1 0h2.95m31.1 0h2.95m23.1 0h2.95m41 0h2.95M-444 106h2.95m68 0h2.95m76 0h2.95m19.1 0h2.95m73 0h2.95m60 0h2.95m40 0h2.95m20.1 0h2.95m36 0h2.95m20.1 0h2.95m4 0h2.95m-2 0h2.95m0 0h2.95m-2 0h2.95m6 0h2.95m9.1 0h2.95m51 0h2.95m15.1 0h2.95m17.1 0h2.95m37 0h2.95m13.1 0h2.95m25.1 0h2.95m9.1 0h2.95m4 0h2.95m9.1 0h2.95m70 0h2.95m46 0h2.95m43 0h2.95m31.1 0h2.95m17.1 0h2.95M-464 107h2.95m38 0h2.95m31.1 0h2.95m23.1 0h2.95m68 0h2.95m26.1 0h2.95m46 0h2.95m50 0h2.95m57 0h2.95m39 0h2.95m13.1 0h2.95m6 0h2.95m5 0h2.95m0 0h2.95m10.1 0h2.95m0 0h2.95m6 0h2.95m-2 0h2.95m1 0h2.95m-1 0h2.95m1 0h2.95m4 0h2.95m30.1 0h2.95m13.1 0h2.95m31.1 0h2.95m56 0h2.95m16.1 0h2.95m34 0h2.95m26.1 0h2.95m22.1 0h2.95m32 0h2.95m7 0h2.95m14.1 0h2.95m21.1 0h2.95m2 0h2.95m29.1 0h2.95m23.1 0h2.95m38 0h2.95M-494 108h2.95m23.1 0h2.95m73 0h2.95m23.1 0h2.95m23.1 0h2.95m28.1 0h2.95m5 0h2.95m2 0h2.95m36 0h2.95m48 0h2.95m33 0h2.95m55 0h2.95m10.1 0h2.95m22.1 0h2.95m19.1 0h2.95m13.1 0h2.95m15.1 0h2.95m3 0h2.95m-2 0h2.95m3 0h2.95m4 0h2.95m2 0h2.95m-2 0h2.95m0 0h2.95m-2 0h2.95m10.1 0h2.95m11.1 0h2.95m36 0h2.95m23.1 0h2.95m54 0h2.95m99 0h2.95m64 0h2.95m26.1 0h2.95m37 0h2.95m26.1 0h2.95m52 0h2.95M-475 109h2.95m16.1 0h2.95m39 0h2.95m37 0h2.95m7 0h2.95m49 0h2.95m30.1 0h2.95m37 0h2.95m23.1 0h2.95m28.1 0h2.95m29.1 0h2.95m29.1 0h2.95m14.1 0h2.95m37 0h2.95m13.1 0h2.95m25.1 0h2.95m3 0h2.95m-1 0h2.95m2 0h2.95m-2 0h2.95m5 0h2.95m6 0h2.95m8.1 0h2.95m23.1 0h2.95m34 0h2.95m14.1 0h2.95m46 0h2.95m66 0h2.95m53 0h2.95m82 0h2.95m43 0h2.95M-481 110h2.95m67 0h2.95m32 0h2.95m28.1 0h2.95m54 0h2.95m22.1 0h2.95m40 0h2.95m37 0h2.95m11.1 0h2.95m20.1 0h2.95m58 0h2.95m22.1 0h2.95m14.1 0h2.95m23.1 0h2.95m8.1 0h2.95m-2 0h2.95m6 0h2.95m13.1 0h2.95m30.1 0h2.95m3 0h2.95m31.1 0h2.95m24.1 0h2.95m21.1 0h2.95m67 0h2.95m74 0h2.95m46 0h2.95m62 0h2.95m43 0h2.95m16.1 0h2.95M-449 111h2.95m13.1 0h2.95m37 0h2.95m62 0h2.95m21.1 0h2.95m41 0h2.95m17.1 0h2.95m29.1 0h2.95m16.1 0h2.95m18.1 0h2.95m17.1 0h2.95m23.1 0h2.95m38 0h2.95m15.1 0h2.95m20.1 0h2.95m21.1 0h2.95m3 0h2.95m7 0h2.95m1 0h2.95m8.1 0h2.95m5 0h2.95m3 0h2.95m55 0h2.95m70 0h2.95m16.1 0h2.95m40 0h2.95m21.1 0h2.95m30.1 0h2.95m11.1 0h2.95m5 0h2.95m23.1 0h2.95m61 0h2.95m32 0h2.95m37 0h2.95M-447 112h2.95m44 0h2.95m28.1 0h2.95m52 0h2.95m56 0h2.95m79 0h2.95m22.1 0h2.95m38 0h2.95m67 0h2.95m17.1 0h2.95m2 0h2.95m5 0h2.95m3 0h2.95m6 0h2.95m8.1 0h2.95m12.1 0h2.95m12.1 0h2.95m27.1 0h2.95m32 0h2.95m51 0h2.95m30.1 0h2.95m41 0h2.95m64 0h2.95m32 0h2.95m37 0h2.95m47 0h2.95M-477 113h2.95m49 0h2.95m22.1 0h2.95m26.1 0h2.95m20.1 0h2.95m29.1 0h2.95m71 0h2.95m24.1 0h2.95m25.1 0h2.95m29.1 0h2.95m29.1 0h2.95m-2 0h2.95m29.1 0h2.95m44 0h2.95m11.1 0h2.95m13.1 0h2.95m4 0h2.95m4 0h2.95m-1 0h2.95m23.1 0h2.95m17.1 0h2.95m38 0h2.95m14.1 0h2.95m26.1 0h2.95m34 0h2.95m19.1 0h2.95m12.1 0h2.95m4 0h2.95m22.1 0h2.95m21.1 0h2.95m44 0h2.95m13.1 0h2.95m49 0h2.95m21.1 0h2.95m58 0h2.95M-450 114h2.95m35 0h2.95m30.1 0h2.95m-1 0h2.95m31.1 0h2.95m48 0h2.95m50 0h2.95m37 0h2.95m61 0h2.95m105 0h2.95m8.1 0h2.95m10.1 0h2.95m6 0h2.95m3 0h2.95m-1 0h2.95m6 0h2.95m12.1 0h2.95m80 0h2.95m18.1 0h2.95m78 0h2.95m57 0h2.95m29.1 0h2.95m27.1 0h2.95m37 0h2.95m18.1 0h2.95m38 0h2.95m39 0h2.95M-470 115h2.95m51 0h2.95m60 0h2.95m25.1 0h2.95m45 0h2.95m32 0h2.95m19.1 0h2.95m-1 0h2.95m52 0h2.95m42 0h2.95m14.1 0h2.95m44 0h2.95m14.1 0h2.95m10.1 0h2.95m9.1 0h2.95m4 0h2.95m3 0h2.95m6 0h2.95m7 0h2.95m50 0h2.95m59 0h2.95m35 0h2.95m35 0h2.95m57 0h2.95m18.1 0h2.95m27.1 0h2.95m68 0h2.95m15.1 0h2.95m40 0h2.95M-454 116h2.95m8.1 0h2.95m36 0h2.95m46 0h2.95m15.1 0h2.95m29.1 0h2.95m28.1 0h2.95m23.1 0h2.95m10.1 0h2.95m80 0h2.95m40 0h2.95m51 0h2.95m10.1 0h2.95m20.1 0h2.95m6 0h2.95m4 0h2.95m10.1 0h2.95m-1 0h2.95m10.1 0h2.95m13.1 0h2.95m20.1 0h2.95m13.1 0h2.95m29.1 0h2.95m28.1 0h2.95m36 0h2.95m18.1 0h2.95m39 0h2.95m26.1 0h2.95m35 0h2.95m37 0h2.95m30.1 0h2.95m22.1 0h2.95m19.1 0h2.95m16.1 0h2.95m19.1 0h2.95M-469 117h2.95m45 0h2.95m43 0h2.95m32 0h2.95m30.1 0h2.95m4 0h2.95m140.1 0h2.95m54 0h2.95m36 0h2.95m31.1 0h2.95m5 0h2.95m4 0h2.95m12.1 0h2.95m11.1 0h2.95m11.1 0h2.95m37 0h2.95m43 0h2.95m76 0h2.95m35 0h2.95m53 0h2.95m12.1 0h2.95m25.1 0h2.95m27.1 0h2.95m55 0h2.95m27.1 0h2.95M-463 118h2.95m72 0h2.95m43 0h2.95m34 0h2.95m49 0h2.95m34 0h2.95m19.1 0h2.95m29.1 0h2.95m14.1 0h2.95m22.1 0h2.95m22.1 0h2.95m27.1 0h2.95m18.1 0h2.95m3 0h2.95m17.1 0h2.95m7 0h2.95m3 0h2.95m0 0h2.95m7 0h2.95m12.1 0h2.95m13.1 0h2.95m34 0h2.95m26.1 0h2.95m7 0h2.95m29.1 0h2.95m50 0h2.95m26.1 0h2.95m32 0h2.95m25.1 0h2.95m27.1 0h2.95m-2 0h2.95m35 0h2.95m41 0h2.95m22.1 0h2.95m38 0h2.95M-468 119h2.95m12.1 0h2.95m41 0h2.95m37 0h2.95m19.1 0h2.95m29.1 0h2.95m24.1 0h2.95m13.1 0h2.95m20.1 0h2.95m28.1 0h2.95m64 0h2.95m68 0h2.95m19.1 0h2.95m27.1 0h2.95m9.1 0h2.95m6 0h2.95m4 0h2.95m8.1 0h2.95m15.1 0h2.95m4 0h2.95m11.1 0h2.95m11.1 0h2.95m20.1 0h2.95m54 0h2.95m35 0h2.95m19.1 0h2.95m17.1 0h2.95m10.1 0h2.95m32 0h2.95m13.1 0h2.95m25.1 0h2.95m37 0h2.95m40 0h2.95m50 0h2.95m13.1 0h2.95M-464 120h2.95m40 0h2.95m2 0h2.95m47 0h2.95m30.1 0h2.95m15.1 0h2.95m34 0h2.95m29.1 0h2.95m34 0h2.95m36 0h2.95m34 0h2.95m55 0h2.95m28.1 0h2.95m22.1 0h2.95m6 0h2.95m5 0h2.95m5 0h2.95m6 0h2.95m-2 0h2.95m7 0h2.95m14.1 0h2.95m25.1 0h2.95m73 0h2.95m66 0h2.95m78 0h2.95m54 0h2.95m49 0h2.95m12.1 0h2.95m25.1 0h2.95M-479 121h2.95m61 0h2.95m16.1 0h2.95m8.1 0h2.95m41 0h2.95m-2 0h2.95m37 0h2.95m17.1 0h2.95m49 0h2.95m66 0h2.95m37 0h2.95m39 0h2.95m45 0h2.95m4 0h2.95m17.1 0h2.95m5 0h2.95m25.1 0h2.95m19.1 0h2.95m37 0h2.95m24.1 0h2.95m7 0h2.95m25.1 0h2.95m21.1 0h2.95m22.1 0h2.95m17.1 0h2.95m62 0h2.95m20.1 0h2.95m38 0h2.95m5 0h2.95m50 0h2.95m39 0h2.95M-493 122h2.95m30.1 0h2.95m29.1 0h2.95m18.1 0h2.95m32 0h2.95m29.1 0h2.95m28.1 0h2.95m14.1 0h2.95m37 0h2.95m48 0h2.95m45 0h2.95m21.1 0h2.95m55 0h2.95m30.1 0h2.95m11.1 0h2.95m23.1 0h2.95m15.1 0h2.95m2 0h2.95m5 0h2.95m29.1 0h2.95m12.1 0h2.95m12.1 0h2.95m45 0h2.95m75 0h2.95m18.1 0h2.95m40 0h2.95m66 0h2.95m17.1 0h2.95m23.1 0h2.95m66 0h2.95M-469 123h2.95m34 0h2.95m44 0h2.95m26.1 0h2.95m36 0h2.95m40 0h2.95m26.1 0h2.95m38 0h2.95m35 0h2.95m0 0h2.95m44 0h2.95m49 0h2.95m22.1 0h2.95m14.1 0h2.95m5 0h2.95m18.1 0h2.95m25.1 0h2.95m35 0h2.95m15.1 0h2.95m10.1 0h2.95m40 0h2.95m58 0h2.95m27.1 0h2.95m59 0h2.95m38 0h2.95m37 0h2.95m24.1 0h2.95m53 0h2.95m11.1 0h2.95M-476 124h2.95m11.1 0h2.95m36 0h2.95m31.1 0h2.95m13.1 0h2.95m97 0h2.95m36 0h2.95m59 0h2.95m52 0h2.95m31.1 0h2.95m26.1 0h2.95m15.1 0h2.95m16.1 0h2.95m9.1 0h2.95m7 0h2.95m7 0h2.95m21.1 0h2.95m35 0h2.95m23.1 0h2.95m24.1 0h2.95m9.1 0h2.95m9.1 0h2.95m17.1 0h2.95m9.1 0h2.95m42 0h2.95m45 0h2.95m16.1 0h2.95m28.1 0h2.95m41 0h2.95m37 0h2.95m41 0h2.95M-493 125h2.95m45 0h2.95m46 0h2.95m35 0h2.95m50 0h2.95m51 0h2.95m54 0h2.95m32 0h2.95m52 0h2.95m27.1 0h2.95m22.1 0h2.95m37 0h2.95m4 0h2.95m11.1 0h2.95m-1 0h2.95m22.1 0h2.95m35 0h2.95m13.1 0h2.95m32 0h2.95m39 0h2.95m36 0h2.95m36 0h2.95m10.1 0h2.95m35 0h2.95m54 0h2.95m40 0h2.95m60 0h2.95M-488 126h2.95m28.1 0h2.95m16.1 0h2.95m33 0h2.95m35 0h2.95m5 0h2.95m14.1 0h2.95m30.1 0h2.95m52 0h2.95m39 0h2.95m26.1 0h2.95m25.1 0h2.95m9.1 0h2.95m14.1 0h2.95m21.1 0h2.95m44 0h2.95m9.1 0h2.95m10.1 0h2.95m10.1 0h2.95m7 0h2.95m6 0h2.95m4 0h2.95m10.1 0h2.95m25.1 0h2.95m83 0h2.95m53 0h2.95m34 0h2.95m42 0h2.95m73 0h2.95m59 0h2.95m28.1 0h2.95m29.1 0h2.95M-462 127h2.95m30.1 0h2.95m30.1 0h2.95m0 0h2.95m70 0h2.95m53 0h2.95m34 0h2.95m23.1 0h2.95m39 0h2.95m37 0h2.95m30.1 0h2.95m33 0h2.95m30.1 0h2.95m10.1 0h2.95m2 0h2.95m11.1 0h2.95m7 0h2.95m10.1 0h2.95m12.1 0h2.95m36 0h2.95m32 0h2.95m-1 0h2.95m96 0h2.95m52 0h2.95m76 0h2.95m52 0h2.95m11.1 0h2.95m39 0h2.95M-476 128h2.95m20.1 0h2.95m35 0h2.95m2 0h2.95m40 0h2.95m35 0h2.95m50 0h2.95m33 0h2.95m42 0h2.95m11.1 0h2.95m55 0h2.95m29.1 0h2.95m31.1 0h2.95m17.1 0h2.95m14.1 0h2.95m6 0h2.95m5 0h2.95m3 0h2.95m3 0h2.95m2 0h2.95m47 0h2.95m44 0h2.95m20.1 0h2.95m16.1 0h2.95m16.1 0h2.95m54 0h2.95m40 0h2.95m11.1 0h2.95m43 0h2.95m47 0h2.95m25.1 0h2.95m22.1 0h2.95m57 0h2.95M-494 129h2.95m28.1 0h2.95m23.1 0h2.95m21.1 0h2.95m47 0h2.95m20.1 0h2.95m31.1 0h2.95m37 0h2.95m19.1 0h2.95m47 0h2.95m48 0h2.95m23.1 0h2.95m15.1 0h2.95m37 0h2.95m43 0h2.95m6 0h2.95m14.1 0h2.95m15.1 0h2.95m-2 0h2.95m21.1 0h2.95m95 0h2.95m30.1 0h2.95m18.1 0h2.95m38 0h2.95m23.1 0h2.95m31.1 0h2.95m6 0h2.95m24.1 0h2.95m30.1 0h2.95m58 0h2.95m22.1 0h2.95m17.1 0h2.95M-442 130h2.95m23.1 0h2.95m24.1 0h2.95m33 0h2.95m43 0h2.95m46 0h2.95m59 0h2.95m39 0h2.95m21.1 0h2.95m42 0h2.95m63 0h2.95m8.1 0h2.95m3 0h2.95m9.1 0h2.95m3 0h2.95m25.1 0h2.95m26.1 0h2.95m38 0h2.95m12.1 0h2.95m43 0h2.95m52 0h2.95m41 0h2.95m71 0h2.95m55 0h2.95m38 0h2.95M-481 131h2.95m71 0h2.95m52 0h2.95m12.1 0h2.95m67 0h2.95m31.1 0h2.95m61 0h2.95m14.1 0h2.95m40 0h2.95m82 0h2.95m9.1 0h2.95m15.1 0h2.95m10.1 0h2.95m2 0h2.95m37 0h2.95m3 0h2.95m24.1 0h2.95m21.1 0h2.95m28.1 0h2.95m20.1 0h2.95m22.1 0h2.95m36 0h2.95m-2 0h2.95m41 0h2.95m16.1 0h2.95m42 0h2.95m38 0h2.95m28.1 0h2.95m52 0h2.95M-455 132h2.95m48 0h2.95m37 0h2.95m50 0h2.95m64 0h2.95m48 0h2.95m43 0h2.95m35 0h2.95m49 0h2.95m23.1 0h2.95m21.1 0h2.95m19.1 0h2.95m19.1 0h2.95m4 0h2.95m57 0h2.95m72 0h2.95m64 0h2.95m50 0h2.95m21.1 0h2.95m45 0h2.95m33 0h2.95m26.1 0h2.95m57 0h2.95M-459 133h2.95m16.1 0h2.95m16.1 0h2.95m76 0h2.95m67 0h2.95m48 0h2.95m50 0h2.95m33 0h2.95m37 0h2.95m37 0h2.95m22.1 0h2.95m2 0h2.95m2 0h2.95m28.1 0h2.95m9.1 0h2.95m6 0h2.95m61 0h2.95m1 0h2.95m61 0h2.95m46 0h2.95m60 0h2.95m100 0h2.95m110 0h2.95M-456 134h2.95m10.1 0h2.95m2 0h2.95m20.1 0h2.95m126 0h2.95m39 0h2.95m58 0h2.95m48 0h2.95m49 0h2.95m43 0h2.95m21.1 0h2.95m12.1 0h2.95m13.1 0h2.95m20.1 0h2.95m25.1 0h2.95m49 0h2.95m48 0h2.95m30.1 0h2.95m35 0h2.95m82 0h2.95m69 0h2.95m42 0h2.95m30.1 0h2.95m11.1 0h2.95M-433 135h2.95m15.1 0h2.95m36 0h2.95m19.1 0h2.95m56 0h2.95m40 0h2.95m51 0h2.95m20.1 0h2.95m43 0h2.95m20.1 0h2.95m67 0h2.95m19.1 0h2.95m35 0h2.95m33 0h2.95m19.1 0h2.95m85 0h2.95m35 0h2.95m48 0h2.95m12.1 0h2.95m61 0h2.95m19.1 0h2.95m36 0h2.95m11.1 0h2.95m77 0h2.95M-452 136h2.95m52 0h2.95m51 0h2.95m17.1 0h2.95m55 0h2.95m22.1 0h2.95m34 0h2.95m29.1 0h2.95m33 0h2.95m14.1 0h2.95m11.1 0h2.95m6 0h2.95m73 0h2.95m14.1 0h2.95m16.1 0h2.95m17.1 0h2.95m28.1 0h2.95m27.1 0h2.95m37 0h2.95m54 0h2.95m35 0h2.95m13.1 0h2.95m21.1 0h2.95m42 0h2.95m70 0h2.95m23.1 0h2.95m23.1 0h2.95m36 0h2.95M-444 137h2.95m50 0h2.95m110 0h2.95m127 0h2.95m43 0h2.95m49 0h2.95m36 0h2.95m19.1 0h2.95m31.1 0h2.95m17.1 0h2.95m11.1 0h2.95m31.1 0h2.95m75 0h2.95m75 0h2.95m42 0h2.95m45 0h2.95m41 0h2.95m67 0h2.95M-472 138h2.95m22.1 0h2.95m99 0h2.95m55 0h2.95m34 0h2.95m30.1 0h2.95m18.1 0h2.95m13.1 0h2.95m20.1 0h2.95m75 0h2.95m25.1 0h2.95m42 0h2.95m9.1 0h2.95m5 0h2.95m3 0h2.95m21.1 0h2.95m22.1 0h2.95m31.1 0h2.95m34 0h2.95m119 0h2.95m19.1 0h2.95m5 0h2.95m19.1 0h2.95m67 0h2.95m47 0h2.95m15.1 0h2.95M-462 139h2.95m87 0h2.95m73 0h2.95m37 0h2.95m46 0h2.95m87 0h2.95m64 0h2.95m11.1 0h2.95m22.1 0h2.95m11.1 0h2.95m15.1 0h2.95m25.1 0h2.95m71 0h2.95m55 0h2.95m56 0h2.95m66 0h2.95m37 0h2.95m55 0h2.95m50 0h2.95M-467 140h2.95m1 0h2.95m48 0h2.95m73 0h2.95m80 0h2.95m40 0h2.95m38 0h2.95m34 0h2.95m43 0h2.95m29.1 0h2.95m32 0h2.95m17.1 0h2.95m10.1 0h2.95m6 0h2.95m24.1 0h2.95m35 0h2.95m45 0h2.95m75 0h2.95m29.1 0h2.95m36 0h2.95m38 0h2.95m48 0h2.95m47 0h2.95m36 0h2.95M-456 141h2.95m76 0h2.95m72 0h2.95m37 0h2.95m124 0h2.95m39 0h2.95m24.1 0h2.95m50 0h2.95m8.1 0h2.95m18.1 0h2.95m67 0h2.95m124 0h2.95m38 0h2.95m47 0h2.95m74 0h2.95m54 0h2.95M-399 142h2.95m29.1 0h2.95m42 0h2.95m49 0h2.95m107 0h2.95m52 0h2.95m60 0h2.95m37 0h2.95m16.1 0h2.95m95 0h2.95m47 0h2.95m122 0h2.95m65 0h2.95m57 0h2.95m43 0h2.95M-480 143h2.95m94 0h2.95m16.1 0h2.95m21.1 0h2.95m88 0h2.95m34 0h2.95m52 0h2.95m58 0h2.95m39 0h2.95m43 0h2.95m19.1 0h2.95m56 0h2.95m70 0h2.95m114 0h2.95m41 0h2.95m28.1 0h2.95m63 0h2.95m75 0h2.95M-436 144h2.95m123 0h2.95m30.1 0h2.95m26.1 0h2.95m101 0h2.95m30.1 0h2.95m45 0h2.95m40 0h2.95m34 0h2.95m13.1 0h2.95m26.1 0h2.95m99 0h2.95m68 0h2.95m63 0h2.95m56 0h2.95m23.1 0h2.95m36 0h2.95m16.1 0h2.95m23.1 0h2.95m7 0h2.95M-433 145h2.95m44 0h2.95m54 0h2.95m121 0h2.95m101 0h2.95m42 0h2.95m36 0h2.95m8.1 0h2.95m14.1 0h2.95m22.1 0h2.95m29.1 0h2.95m95 0h2.95m85 0h2.95m63 0h2.95m60 0h2.95m67 0h2.95M-486 146h2.95m103 0h2.95m56 0h2.95m68 0h2.95m39 0h2.95m98 0h2.95m74 0h2.95m48 0h2.95m34 0h2.95m91 0h2.95m68 0h2.95m45 0h2.95m61 0h2.95m55 0h2.95m100 0h2.95M-436 147h2.95m49 0h2.95m27.1 0h2.95m63 0h2.95m77 0h2.95m28.1 0h2.95m93 0h2.95m54 0h2.95m18.1 0h2.95m10.1 0h2.95m56 0h2.95m29.1 0h2.95m103 0h2.95m32 0h2.95m124 0h2.95m103 0h2.95M-404 148h2.95m71 0h2.95m37 0h2.95m136.1 0h2.95m63 0h2.95m70 0h2.95m8.1 0h2.95m22.1 0h2.95m70 0h2.95m77 0h2.95m131.1 0h2.95m98 0h2.95M-469 149h2.95m51 0h2.95m57 0h2.95m81 0h2.95m77 0h2.95m98 0h2.95m41 0h2.95m5 0h2.95m35 0h2.95m10.1 0h2.95m125 0h2.95m58 0h2.95m33 0h2.95m50 0h2.95m147.1 0h2.95M-471 150h2.95m55 0h2.95m47 0h2.95m67 0h2.95m161.1 0h2.95m20.1 0h2.95m0 0h2.95m47 0h2.95m28.1 0h2.95m16.1 0h2.95m10.1 0h2.95m37 0h2.95m74 0h2.95m58 0h2.95m104 0h2.95m47 0h2.95m88 0h2.95M-473 151h2.95m115 0h2.95m44 0h2.95m62 0h2.95m60 0h2.95m109 0h2.95m13.1 0h2.95m52 0h2.95m26.1 0h2.95m124 0h2.95m20.1 0h2.95m61 0h2.95m108 0h2.95m77 0h2.95M-480 152h2.95m69 0h2.95m58 0h2.95m241.1 0h2.95m66 0h2.95m43 0h2.95m18.1 0h2.95m97 0h2.95m27.1 0h2.95m32 0h2.95m19.1 0h2.95m22.1 0h2.95m81 0h2.95m42 0h2.95m73 0h2.95m21.1 0h2.95M-448 153h2.95m81 0h2.95m121 0h2.95m111 0h2.95m89 0h2.95m73 0h2.95m46 0h2.95m100 0h2.95m101 0h2.95m48 0h2.95m47 0h2.95M-491 154h2.95m92 0h2.95m137.1 0h2.95m109 0h2.95m93 0h2.95m38 0h2.95m55 0h2.95m77 0h2.95m78 0h2.95m116 0h2.95m128.1 0h2.95M-428 155h2.95m80 0h2.95m63 0h2.95m77 0h2.95m57 0h2.95m56 0h2.95m1 0h2.95m59 0h2.95m24.1 0h2.95m51 0h2.95m125 0h2.95m77 0h2.95m44 0h2.95m86 0h2.95M-464 156h2.95m62 0h2.95m94 0h2.95m45 0h2.95m99 0h2.95m36 0h2.95m60 0h2.95m24.1 0h2.95m43 0h2.95m33 0h2.95m101 0h2.95m73 0h2.95m90 0h2.95m66 0h2.95m61 0h2.95M-303 157h2.95m131.1 0h2.95m129.1 0h2.95m77 0h2.95m61 0h2.95m134.1 0h2.95m57 0h2.95m69 0h2.95M-478 158h2.95m107 0h2.95m169.1 0h2.95m137.1 0h2.95m31.1 0h2.95m24.1 0h2.95m97 0h2.95m170.1 0h2.95m196.1 0h2.95m-1 0h2.95M-383 159h2.95m96 0h2.95m130.1 0h2.95m67 0h2.95m183.1 0h2.95m221.1 0h2.95M-474 160h2.95m210.1 0h2.95m39 0h2.95m99 0h2.95m110 0h2.95m85 0h2.95m107 0h2.95m105 0h2.95m58 0h2.95M-448 161h2.95m93 0h2.95m62 0h2.95m170.1 0h2.95m29.1 0h2.95m59 0h2.95m35 0h2.95m109 0h2.95m93 0h2.95m218.1 0h2.95M-336 162h2.95m113 0h2.95m114 0h2.95m88 0h2.95m183.1 0h2.95m178.1 0h2.95m78 0h2.95M-445 163h2.95m41 0h2.95m304.1 0h2.95m177.1 0h2.95m137.1 0h2.95m125 0h2.95M-460 164h2.95m93 0h2.95m44 0h2.95m76 0h2.95m238.1 0h2.95m272.1 0h2.95M-390 165h2.95m48 0h2.95m114 0h2.95m152.1 0h2.95m58 0h2.95m178.1 0h2.95m184.1 0h2.95m119 0h2.95M-380 166h2.95m108 0h2.95m185.1 0h2.95m88 0h2.95m68 0h2.95m168.1 0h2.95m99 0h2.95M-153 167h2.95m344.1 0h2.95m256.1 0h2.95M-160 168h2.95m124 0h2.95m42 0h2.95m212.1 0h2.95M-479 169h2.95m220.1 0h2.95m238.1 0h2.95m85 0h2.95m2 0h2.95m335.1 0h2.95M-482 170h2.95m486.1 0h2.95m201.1 0h2.95m202.1 0h2.95M-144 171h2.95m138.1 0h2.95m220.1 0h2.95M-386 172h2.95m199.1 0h2.95m461.1 0h2.95m148.1 0h2.95M-438 173h2.95m544 0h2.95m97 0h2.95m25.1 0h2.95M-424 174h2.95m308.1 0h2.95m465.1 0h2.95m126 0h2.95M-283 175h2.95m248.1 0h2.95m151.1 0h2.95m156.1 0h2.95M-476 176h2.95m366.1 0h2.95m143.1 0h2.95m150.1 0h2.95M-74 177h2.95m290.1 0h2.95m56 0h2.95M-215 178h2.95m446.1 0h2.95M-337 179h2.95m436.1 0h2.95M-191 180h2.95m589 0h2.95M-23 181h2.95m136.1 0h2.95M-24 182h2.95m509.1 0h2.95M-31 184h2.95M-242 185h2.95M58 186h2.95m153.1 0h2.95m211.1 0h2.95M145 187h2.95m300.1 0h2.95M-161 189h2.95m651 0h2.95M311 191h2.95M190 192h2.95M-311 194h2.95M137 195h2.95M-161 196h2.95M-449 198h2.95M247 203h2.95M419 217h2.95"/>
<path d="M-351 0h2.95m327.1 0h2.95m7 0h2.95m4 0h2.95m6 0h2.95m4 0h2.95m33 0h2.95M-489 1h2.95m454.1 0h2.95m13.1 0h2.95m-1 0h2.95m2 0h2.95m5 0h2.95m-2 0h2.95m9.1 0h2.95m6 0h2.95m35 0h2.95m128.1 0h2.95M-71 2h2.95m42 0h2.95m10.1 0h2.95m-2 0h2.95m5 0h2.95m4 0h2.95m6 0h2.95m0 0h2.95m3 0h2.95m49 0h2.95M-364 3h2.95m309.1 0h2.95m26.1 0h2.95m-2 0h2.95m11.1 0h2.95m1 0h2.95m-2 0h2.95m6 0h2.95m6 0h2.95m50 0h2.95M-480 4h2.95m429.1 0h2.95m28.1 0h2.95m2 0h2.95m5 0h2.95m3 0h2.95m2 0h2.95m-1 0h2.95m3 0h2.95m8.1 0h2.95m-1 0h2.95m31.1 0h2.95M-326 5h2.95m297.1 0h2.95m11.1 0h2.95m1 0h2.95m5 0h2.95m1 0h2.95m10.1 0h2.95m24.1 0h2.95m187.1 0h2.95M-392 6h2.95m345.1 0h2.95m15.1 0h2.95m15.1 0h2.95m3 0h2.95m0 0h2.95m4 0h2.95m0 0h2.95m7 0h2.95m9.1 0h2.95m251.1 0h2.95M-261 7h2.95m217.1 0h2.95m15.1 0h2.95m11.1 0h2.95m4 0h2.95m2 0h2.95m5 0h2.95m1 0h2.95m5 0h2.95m35 0h2.95M-446 8h2.95m393.1 0h2.95m3 0h2.95m13.1 0h2.95m6 0h2.95m7 0h2.95m3 0h2.95m4 0h2.95m-2 0h2.95m5 0h2.95m7 0h2.95m19.1 0h2.95M-150 9h2.95m134.1 0h2.95m7 0h2.95m3 0h2.95m4 0h2.95m18.1 0h2.95m17.1 0h2.95m140.1 0h2.95M-54 10h2.95m22.1 0h2.95m5 0h2.95m5 0h2.95m2 0h2.95m3 0h2.95m2 0h2.95m2 0h2.95m4 0h2.95m0 0h2.95m10.1 0h2.95m5 0h2.95M-238 11h2.95m207.1 0h2.95m5 0h2.95m-2 0h2.95m8.1 0h2.95m1 0h2.95m1 0h2.95m-1 0h2.95m8.1 0h2.95m15.1 0h2.95m22.1 0h2.95m373.1 0h2.95M-160 12h2.95m103 0h2.95m1 0h2.95m23.1 0h2.95m7 0h2.95m3 0h2.95m-2 0h2.95m4 0h2.95m4 0h2.95m7 0h2.95m5 0h2.95m11.1 0h2.95m28.1 0h2.95M-269 13h2.95m222.1 0h2.95m25.1 0h2.95m2 0h2.95m4 0h2.95m8.1 0h2.95m-2 0h2.95m5 0h2.95m19.1 0h2.95m31.1 0h2.95m337.1 0h2.95M-401 14h2.95m319.1 0h2.95m38 0h2.95m15.1 0h2.95m6 0h2.95m3 0h2.95m1 0h2.95m-2 0h2.95m2 0h2.95m12.1 0h2.95m10.1 0h2.95m37 0h2.95m127 0h2.95M-432 15h2.95m380.1 0h2.95m19.1 0h2.95m3 0h2.95m-2 0h2.95m3 0h2.95m2 0h2.95m4 0h2.95m6 0h2.95m-2 0h2.95m4 0h2.95m10.1 0h2.95m10.1 0h2.95m49 0h2.95M-485 16h2.95m416.1 0h2.95m23.1 0h2.95m18.1 0h2.95m5 0h2.95m5 0h2.95m1 0h2.95m2 0h2.95m4 0h2.95m25.1 0h2.95m216.1 0h2.95m217.1 0h2.95M-45 17h2.95m17.1 0h2.95m-1 0h2.95m6 0h2.95m-1 0h2.95m5 0h2.95m3 0h2.95m-2 0h2.95m3 0h2.95m3 0h2.95m7 0h2.95m35 0h2.95m193.1 0h2.95M-137 18h2.95m77 0h2.95m24.1 0h2.95m15.1 0h2.95m1 0h2.95m1 0h2.95m3 0h2.95m-1 0h2.95m4 0h2.95m4 0h2.95m6 0h2.95m119 0h2.95M-339 19h2.95m301.1 0h2.95m11.1 0h2.95m2 0h2.95m5 0h2.95m3 0h2.95m5 0h2.95m3 0h2.95m2 0h2.95m6 0h2.95m6 0h2.95m20.1 0h2.95m46 0h2.95m361.1 0h2.95M-73 20h2.95m33 0h2.95m6 0h2.95m9.1 0h2.95m4 0h2.95m4 0h2.95m0 0h2.95m2 0h2.95m1 0h2.95m-2 0h2.95m5 0h2.95m8.1 0h2.95m15.1 0h2.95m294.1 0h2.95M-444 21h2.95m333.1 0h2.95m42 0h2.95m16.1 0h2.95m-2 0h2.95m13.1 0h2.95m7 0h2.95m4 0h2.95m3 0h2.95m-2 0h2.95m2 0h2.95m-1 0h2.95m5 0h2.95m-2 0h2.95m3 0h2.95m5 0h2.95m10.1 0h2.95m146.1 0h2.95M-389 22h2.95m340.1 0h2.95m8.1 0h2.95m13.1 0h2.95m5 0h2.95m1 0h2.95m0 0h2.95m-1 0h2.95m8.1 0h2.95m1 0h2.95m-1 0h2.95m5 0h2.95m7 0h2.95m309.1 0h2.95M-218 23h2.95m173.1 0h2.95m19.1 0h2.95m5 0h2.95m1 0h2.95m3 0h2.95m2 0h2.95m2 0h2.95m6 0h2.95m9.1 0h2.95m24.1 0h2.95M-271 24h2.95m232.1 0h2.95m3 0h2.95m6 0h2.95m7 0h2.95m7 0h2.95m3 0h2.95m2 0h2.95m1 0h2.95m2 0h2.95m10.1 0h2.95m19.1 0h2.95m225.1 0h2.95m162.1 0h2.95M-172 25h2.95m93 0h2.95m28.1 0h2.95m16.1 0h2.95m6 0h2.95m4 0h2.95m1 0h2.95m-2 0h2.95m1 0h2.95m-2 0h2.95m1 0h2.95m-1 0h2.95m7 0h2.95m10.1 0h2.95m100 0h2.95m118 0h2.95m138.1 0h2.95M-70 26h2.95m21.1 0h2.95m9.1 0h2.95m5 0h2.95m7 0h2.95m2 0h2.95m1 0h2.95m-1 0h2.95m4 0h2.95m4 0h2.95m2 0h2.95m14.1 0h2.95m61 0h2.95M-179 27h2.95m107 0h2.95m33 0h2.95m16.1 0h2.95m5 0h2.95m1 0h2.95m-1 0h2.95m3 0h2.95m-1 0h2.95m2 0h2.95m1 0h2.95m5 0h2.95m32 0h2.95m118 0h2.95m229.1 0h2.95M-463 28h2.95m169.1 0h2.95m107 0h2.95m111 0h2.95m36 0h2.95m1 0h2.95m1 0h2.95m-1 0h2.95m4 0h2.95m1 0h2.95m-2 0h2.95m2 0h2.95m-2 0h2.95m3 0h2.95m6 0h2.95m6 0h2.95m5 0h2.95m12.1 0h2.95m196.1 0h2.95m82 0h2.95M-81 29h2.95m30.1 0h2.95m19.1 0h2.95m8.1 0h2.95m3 0h2.95m5 0h2.95m4 0h2.95m2 0h2.95m1 0h2.95m-1 0h2.95m7 0h2.95m5 0h2.95m5 0h2.95m40 0h2.95m71 0h2.95M-341 30h2.95m153.1 0h2.95m142.1 0h2.95m13.1 0h2.95m2 0h2.95m5 0h2.95m4 0h2.95m4 0h2.95m2 0h2.95m1 0h2.95m0 0h2.95m4 0h2.95m4 0h2.95m4 0h2.95m16.1 0h2.95m119 0h2.95m191.1 0h2.95M-307 31h2.95m221.1 0h2.95m53 0h2.95m1 0h2.95m4 0h2.95m5 0h2.95m2 0h2.95m1 0h2.95m2 0h2.95m-1 0h2.95m5 0h2.95m4 0h2.95m31.1 0h2.95m349.1 0h2.95M-258 32h2.95m158.1 0h2.95m53 0h2.95m12.1 0h2.95m9.1 0h2.95m6 0h2.95m1 0h2.95m6 0h2.95m1 0h2.95m1 0h2.95m10.1 0h2.95m-2 0h2.95m14.1 0h2.95m196.1 0h2.95m71 0h2.95M-427 33h2.95m213.1 0h2.95m159.1 0h2.95m18.1 0h2.95m11.1 0h2.95m-1 0h2.95m0 0h2.95m-2 0h2.95m3 0h2.95m0 0h2.95m-1 0h2.95m3 0h2.95m-2 0h2.95m1 0h2.95m6 0h2.95m121 0h2.95m138.1 0h2.95m203.1 0h2.95M-106 34h2.95m47 0h2.95m18.1 0h2.95m0 0h2.95m2 0h2.95m7 0h2.95m4 0h2.95m3 0h2.95m4 0h2.95m3 0h2.95m3 0h2.95m-2 0h2.95m17.1 0h2.95m30.1 0h2.95m229.1 0h2.95m138.1 0h2.95M-420 35h2.95m239.1 0h2.95m124 0h2.95m25.1 0h2.95m9.1 0h2.95m2 0h2.95m1 0h2.95m-2 0h2.95m0 0h2.95m-1 0h2.95m1 0h2.95m2 0h2.95m0 0h2.95m1 0h2.95m13.1 0h2.95m3 0h2.95m7 0h2.95m175.1 0h2.95m156.1 0h2.95M-437 36h2.95m238.1 0h2.95m137.1 0h2.95m9.1 0h2.95m4 0h2.95m8.1 0h2.95m2 0h2.95m0 0h2.95m-2 0h2.95m1 0h2.95m3 0h2.95m2 0h2.95m-2 0h2.95m5 0h2.95m6 0h2.95m5 0h2.95m9.1 0h2.95m17.1 0h2.95m97 0h2.95M-346 37h2.95m176.1 0h2.95m103 0h2.95m1 0h2.95m18.1 0h2.95m12.1 0h2.95m10.1 0h2.95m2 0h2.95m6 0h2.95m13.1 0h2.95m4 0h2.95m8.1 0h2.95m-2 0h2.95m26.1 0h2.95m132.1 0h2.95m174.1 0h2.95M-380 38h2.95m282.1 0h2.95m42 0h2.95m5 0h2.95m11.1 0h2.95m6 0h2.95m4 0h2.95m2 0h2.95m10.1 0h2.95m-2 0h2.95m0 0h2.95m-2 0h2.95m3 0h2.95m18.1 0h2.95m14.1 0h2.95m109 0h2.95M-415 39h2.95m30.1 0h2.95m310.1 0h2.95m23.1 0h2.95m24.1 0h2.95m2 0h2.95m2 0h2.95m1 0h2.95m-2 0h2.95m3 0h2.95m3 0h2.95m0 0h2.95m-1 0h2.95m4 0h2.95m9.1 0h2.95m18.1 0h2.95m1 0h2.95m26.1 0h2.95m229.1 0h2.95m171.1 0h2.95M-447 40h2.95m307.1 0h2.95m95 0h2.95m12.1 0h2.95m4 0h2.95m-2 0h2.95m1 0h2.95m0 0h2.95m2 0h2.95m0 0h2.95m-2 0h2.95m4 0h2.95m6 0h2.95m20.1 0h2.95m83 0h2.95m195.1 0h2.95M-475 41h2.95m140.1 0h2.95m62 0h2.95m184.1 0h2.95m43 0h2.95m12.1 0h2.95m-1 0h2.95m1 0h2.95m6 0h2.95m2 0h2.95m2 0h2.95m0 0h2.95m2 0h2.95m3 0h2.95m3 0h2.95m-2 0h2.95m6 0h2.95m10.1 0h2.95m189.1 0h2.95m136.1 0h2.95M-424 42h2.95m76 0h2.95m244.1 0h2.95m63 0h2.95m4 0h2.95m4 0h2.95m1 0h2.95m2 0h2.95m-1 0h2.95m0 0h2.95m-2 0h2.95m2 0h2.95m2 0h2.95m0 0h2.95m6 0h2.95m-1 0h2.95m12.1 0h2.95m23.1 0h2.95m117 0h2.95m86 0h2.95m181.1 0h2.95M-453 43h2.95m81 0h2.95m125 0h2.95m71 0h2.95m58 0h2.95m15.1 0h2.95m17.1 0h2.95m29.1 0h2.95m8.1 0h2.95m5 0h2.95m1 0h2.95m1 0h2.95m-2 0h2.95m1 0h2.95m-2 0h2.95m3 0h2.95m-2 0h2.95m0 0h2.95m0 0h2.95m2 0h2.95m1 0h2.95m9.1 0h2.95m10.1 0h2.95m1 0h2.95m66 0h2.95m80 0h2.95m111 0h2.95m129.1 0h2.95M-379 44h2.95m179.1 0h2.95m82 0h2.95m33 0h2.95m33 0h2.95m9.1 0h2.95m5 0h2.95m-2 0h2.95m6 0h2.95m3 0h2.95m2 0h2.95m3 0h2.95m6 0h2.95m0 0h2.95m4 0h2.95m10.1 0h2.95m9.1 0h2.95m21.1 0h2.95m143.1 0h2.95m170.1 0h2.95M-294 45h2.95m175.1 0h2.95m70 0h2.95m16.1 0h2.95m5 0h2.95m5 0h2.95m0 0h2.95m-2 0h2.95m2 0h2.95m2 0h2.95m-2 0h2.95m4 0h2.95m-2 0h2.95m1 0h2.95m22.1 0h2.95m77 0h2.95m81 0h2.95m149.1 0h2.95m81 0h2.95M-455 46h2.95m64 0h2.95m158.1 0h2.95m148.1 0h2.95m36 0h2.95m8.1 0h2.95m-1 0h2.95m3 0h2.95m-2 0h2.95m4 0h2.95m-1 0h2.95m3 0h2.95m-2 0h2.95m2 0h2.95m0 0h2.95m1 0h2.95m2 0h2.95m2 0h2.95m7 0h2.95m40 0h2.95m188.1 0h2.95m131.1 0h2.95m74 0h2.95M-340 47h2.95m281.1 0h2.95m16.1 0h2.95m13.1 0h2.95m2 0h2.95m2 0h2.95m0 0h2.95m4 0h2.95m1 0h2.95m-1 0h2.95m4 0h2.95m3 0h2.95m24.1 0h2.95m6 0h2.95m20.1 0h2.95m93 0h2.95m60 0h2.95m139.1 0h2.95m17.1 0h2.95M-424 48h2.95m93 0h2.95m257.1 0h2.95m33 0h2.95m11.1 0h2.95m2 0h2.95m-2 0h2.95m0 0h2.95m0 0h2.95m2 0h2.95m-2 0h2.95m2 0h2.95m1 0h2.95m-2 0h2.95m5 0h2.95m4 0h2.95m0 0h2.95m25.1 0h2.95m47 0h2.95m134.1 0h2.95m94 0h2.95m58 0h2.95M-452 49h2.95m112 0h2.95m202.1 0h2.95m91 0h2.95m7 0h2.95m3 0h2.95m0 0h2.95m3 0h2.95m0 0h2.95m-2 0h2.95m0 0h2.95m-2 0h2.95m0 0h2.95m-2 0h2.95m3 0h2.95m2 0h2.95m-1 0h2.95m5 0h2.95m1 0h2.95m-2 0h2.95m24.1 0h2.95m138.1 0h2.95m131.1 0h2.95m94 0h2.95M-469 50h2.95m249.1 0h2.95m83 0h2.95m34 0h2.95m35 0h2.95m10.1 0h2.95m18.1 0h2.95m6 0h2.95m1 0h2.95m0 0h2.95m-1 0h2.95m1 0h2.95m-1 0h2.95m4 0h2.95m0 0h2.95m9.1 0h2.95m10.1 0h2.95m13.1 0h2.95m57 0h2.95m98 0h2.95m116 0h2.95M-448 51h2.95m179.1 0h2.95m95 0h2.95m37 0h2.95m67 0h2.95m30.1 0h2.95m1 0h2.95m0 0h2.95m6 0h2.95m1 0h2.95m1 0h2.95m-1 0h2.95m2 0h2.95m6 0h2.95m6 0h2.95m6 0h2.95m23.1 0h2.95m54 0h2.95m113 0h2.95m134.1 0h2.95M-485 52h2.95m88 0h2.95m197.1 0h2.95m136.1 0h2.95m14.1 0h2.95m14.1 0h2.95m3 0h2.95m1 0h2.95m-1 0h2.95m4 0h2.95m5 0h2.95m2 0h2.95m2 0h2.95m8.1 0h2.95m7 0h2.95m15.1 0h2.95m61 0h2.95m147.1 0h2.95m66 0h2.95m73 0h2.95M-399 53h2.95m118 0h2.95m86 0h2.95m49 0h2.95m79 0h2.95m15.1 0h2.95m8.1 0h2.95m3 0h2.95m-2 0h2.95m3 0h2.95m3 0h2.95m-2 0h2.95m4 0h2.95m7 0h2.95m1 0h2.95m-2 0h2.95m10.1 0h2.95m9.1 0h2.95m8.1 0h2.95m42 0h2.95m31.1 0h2.95m143.1 0h2.95m142.1 0h2.95M-459 54h2.95m166.1 0h2.95m137.1 0h2.95m35 0h2.95m57 0h2.95m18.1 0h2.95m3 0h2.95m4 0h2.95m0 0h2.95m-2 0h2.95m1 0h2.95m-2 0h2.95m0 0h2.95m-2 0h2.95m4 0h2.95m1 0h2.95m-2 0h2.95m6 0h2.95m1 0h2.95m9.1 0h2.95m13.1 0h2.95m91 0h2.95m102 0h2.95m60 0h2.95m152.1 0h2.95M-344 55h2.95m45 0h2.95m139.1 0h2.95m85 0h2.95m8.1 0h2.95m24.1 0h2.95m-2 0h2.95m1 0h2.95m-1 0h2.95m5 0h2.95m0 0h2.95m-1 0h2.95m1 0h2.95m3 0h2.95m3 0h2.95m3 0h2.95m2 0h2.95m-1 0h2.95m10.1 0h2.95m0 0h2.95m51 0h2.95m65 0h2.95m51 0h2.95m70 0h2.95m88 0h2.95m87 0h2.95M-467 56h2.95m88 0h2.95m131.1 0h2.95m101 0h2.95m83 0h2.95m17.1 0h2.95m6 0h2.95m6 0h2.95m2 0h2.95m-2 0h2.95m3 0h2.95m0 0h2.95m-2 0h2.95m1 0h2.95m-2 0h2.95m3 0h2.95m-2 0h2.95m3 0h2.95m-1 0h2.95m6 0h2.95m10.1 0h2.95m41 0h2.95m124 0h2.95m36 0h2.95M-365 57h2.95m189.1 0h2.95m70 0h2.95m48 0h2.95m8.1 0h2.95m19.1 0h2.95m6 0h2.95m1 0h2.95m0 0h2.95m-1 0h2.95m0 0h2.95m-2 0h2.95m1 0h2.95m3 0h2.95m10.1 0h2.95m5 0h2.95m17.1 0h2.95m13.1 0h2.95m26.1 0h2.95m23.1 0h2.95m36 0h2.95m73 0h2.95m95 0h2.95m88 0h2.95M-435 58h2.95m49 0h2.95m77 0h2.95m78 0h2.95m20.1 0h2.95m103 0h2.95m40 0h2.95m-1 0h2.95m11.1 0h2.95m2 0h2.95m6 0h2.95m1 0h2.95m0 0h2.95m2 0h2.95m3 0h2.95m0 0h2.95m-2 0h2.95m1 0h2.95m-2 0h2.95m4 0h2.95m5 0h2.95m6 0h2.95m6 0h2.95m10.1 0h2.95m133.1 0h2.95m85 0h2.95m174.1 0h2.95m24.1 0h2.95M-418 59h2.95m27.1 0h2.95m49 0h2.95m126 0h2.95m64 0h2.95m71 0h2.95m13.1 0h2.95m14.1 0h2.95m4 0h2.95m3 0h2.95m0 0h2.95m4 0h2.95m-2 0h2.95m4 0h2.95m2 0h2.95m0 0h2.95m-2 0h2.95m2 0h2.95m3 0h2.95m6 0h2.95m15.1 0h2.95m166.1 0h2.95m57 0h2.95m112 0h2.95M-361 60h2.95m70 0h2.95m155.1 0h2.95m41 0h2.95m43 0h2.95m13.1 0h2.95m-2 0h2.95m2 0h2.95m-1 0h2.95m2 0h2.95m1 0h2.95m0 0h2.95m-2 0h2.95m0 0h2.95m-2 0h2.95m1 0h2.95m-2 0h2.95m3 0h2.95m2 0h2.95m1 0h2.95m32 0h2.95m10.1 0h2.95m49 0h2.95m93 0h2.95m69 0h2.95m32 0h2.95m80 0h2.95m35 0h2.95M-411 61h2.95m69 0h2.95m32 0h2.95m61 0h2.95m91 0h2.95m75 0h2.95m32 0h2.95m4 0h2.95m-1 0h2.95m7 0h2.95m2 0h2.95m1 0h2.95m1 0h2.95m2 0h2.95m0 0h2.95m-2 0h2.95m3 0h2.95m5 0h2.95m9.1 0h2.95m16.1 0h2.95m41 0h2.95m52 0h2.95m35 0h2.95m48 0h2.95m95 0h2.95M-472 62h2.95m72 0h2.95m102 0h2.95m125 0h2.95m85 0h2.95m21.1 0h2.95m9.1 0h2.95m13.1 0h2.95m3 0h2.95m0 0h2.95m2 0h2.95m2 0h2.95m-2 0h2.95m4 0h2.95m3 0h2.95m8.1 0h2.95m1 0h2.95m3 0h2.95m3 0h2.95m20.1 0h2.95m29.1 0h2.95m74 0h2.95m63 0h2.95m105 0h2.95m78 0h2.95m32 0h2.95M-469 63h2.95m84 0h2.95m85 0h2.95m94 0h2.95m62 0h2.95m39 0h2.95m41 0h2.95m4 0h2.95m-1 0h2.95m11.1 0h2.95m1 0h2.95m-1 0h2.95m3 0h2.95m-1 0h2.95m2 0h2.95m1 0h2.95m0 0h2.95m2 0h2.95m1 0h2.95m6 0h2.95m4 0h2.95m5 0h2.95m17.1 0h2.95m67 0h2.95m77 0h2.95m116 0h2.95m81 0h2.95m76 0h2.95M-298 64h2.95m68 0h2.95m58 0h2.95m93 0h2.95m22.1 0h2.95m3 0h2.95m8.1 0h2.95m6 0h2.95m8.1 0h2.95m2 0h2.95m1 0h2.95m-2 0h2.95m6 0h2.95m5 0h2.95m21.1 0h2.95m28.1 0h2.95m72 0h2.95m88 0h2.95m217.1 0h2.95M-477 65h2.95m43 0h2.95m133.1 0h2.95m140.1 0h2.95m63 0h2.95m37 0h2.95m11.1 0h2.95m6 0h2.95m5 0h2.95m6 0h2.95m1 0h2.95m3 0h2.95m-1 0h2.95m1 0h2.95m1 0h2.95m5 0h2.95m27.1 0h2.95m82 0h2.95m16.1 0h2.95m99 0h2.95m58 0h2.95m73 0h2.95M-430 66h2.95m114 0h2.95m98 0h2.95m58 0h2.95m54 0h2.95m21.1 0h2.95m20.1 0h2.95m6 0h2.95m0 0h2.95m0 0h2.95m10.1 0h2.95m2 0h2.95m5 0h2.95m1 0h2.95m0 0h2.95m-2 0h2.95m2 0h2.95m-1 0h2.95m2 0h2.95m2 0h2.95m8.1 0h2.95m50 0h2.95m9.1 0h2.95m101 0h2.95m63 0h2.95m63 0h2.95m57 0h2.95m91 0h2.95M-488 67h2.95m82 0h2.95m54 0h2.95m102 0h2.95m47 0h2.95m89 0h2.95m43 0h2.95m5 0h2.95m10.1 0h2.95m7 0h2.95m4 0h2.95m-2 0h2.95m2 0h2.95m-2 0h2.95m3 0h2.95m-2 0h2.95m0 0h2.95m-2 0h2.95m2 0h2.95m1 0h2.95m1 0h2.95m-2 0h2.95m2 0h2.95m0 0h2.95m9.1 0h2.95m48 0h2.95m98 0h2.95m126 0h2.95m82 0h2.95m38 0h2.95M-478 68h2.95m66 0h2.95m45 0h2.95m67 0h2.95m100 0h2.95m72 0h2.95m51 0h2.95m25.1 0h2.95m6 0h2.95m-1 0h2.95m2 0h2.95m2 0h2.95m-2 0h2.95m2 0h2.95m-1 0h2.95m3 0h2.95m-2 0h2.95m3 0h2.95m-2 0h2.95m2 0h2.95m-2 0h2.95m3 0h2.95m11.1 0h2.95m105 0h2.95m97 0h2.95m169.1 0h2.95M-436 69h2.95m44 0h2.95m139.1 0h2.95m96 0h2.95m94 0h2.95m18.1 0h2.95m8.1 0h2.95m5 0h2.95m0 0h2.95m-2 0h2.95m1 0h2.95m2 0h2.95m-1 0h2.95m2 0h2.95m1 0h2.95m6 0h2.95m-2 0h2.95m16.1 0h2.95m17.1 0h2.95m35 0h2.95m70 0h2.95m20.1 0h2.95m65 0h2.95m75 0h2.95m122 0h2.95M-490 70h2.95m77 0h2.95m64 0h2.95m49 0h2.95m34 0h2.95m120 0h2.95m76 0h2.95m19.1 0h2.95m9.1 0h2.95m2 0h2.95m3 0h2.95m1 0h2.95m-2 0h2.95m0 0h2.95m0 0h2.95m1 0h2.95m-1 0h2.95m1 0h2.95m3 0h2.95m2 0h2.95m8.1 0h2.95m18.1 0h2.95m38 0h2.95m171.1 0h2.95m118 0h2.95m41 0h2.95M-454 71h2.95m101 0h2.95m33 0h2.95m35 0h2.95m84 0h2.95m47 0h2.95m29.1 0h2.95m58 0h2.95m9.1 0h2.95m6 0h2.95m6 0h2.95m-2 0h2.95m2 0h2.95m0 0h2.95m-2 0h2.95m2 0h2.95m2 0h2.95m-2 0h2.95m1 0h2.95m3 0h2.95m1 0h2.95m2 0h2.95m8.1 0h2.95m-1 0h2.95m32 0h2.95m158.1 0h2.95m135.1 0h2.95m65 0h2.95M-470 72h2.95m126 0h2.95m27.1 0h2.95m69 0h2.95m131.1 0h2.95m47 0h2.95m12.1 0h2.95m6 0h2.95m7 0h2.95m4 0h2.95m-1 0h2.95m0 0h2.95m-1 0h2.95m2 0h2.95m6 0h2.95m10.1 0h2.95m6 0h2.95m13.1 0h2.95m38 0h2.95m62 0h2.95m41 0h2.95m96 0h2.95m52 0h2.95m72 0h2.95M-492 73h2.95m104 0h2.95m36 0h2.95m83 0h2.95m29.1 0h2.95m57 0h2.95m43 0h2.95m50 0h2.95m29.1 0h2.95m16.1 0h2.95m5 0h2.95m4 0h2.95m2 0h2.95m-1 0h2.95m4 0h2.95m1 0h2.95m9.1 0h2.95m24.1 0h2.95m28.1 0h2.95m22.1 0h2.95m52 0h2.95m67 0h2.95m26.1 0h2.95m96 0h2.95m46 0h2.95M-481 74h2.95m54 0h2.95m49 0h2.95m91 0h2.95m59 0h2.95m81 0h2.95m44 0h2.95m35 0h2.95m12.1 0h2.95m-1 0h2.95m5 0h2.95m1 0h2.95m2 0h2.95m-1 0h2.95m2 0h2.95m-2 0h2.95m2 0h2.95m2 0h2.95m4 0h2.95m-2 0h2.95m11.1 0h2.95m22.1 0h2.95m38 0h2.95m25.1 0h2.95m79 0h2.95m29.1 0h2.95m151.1 0h2.95m61 0h2.95M-466 75h2.95m69 0h2.95m56 0h2.95m85 0h2.95m91 0h2.95m41 0h2.95m69 0h2.95m7 0h2.95m3 0h2.95m5 0h2.95m3 0h2.95m-2 0h2.95m1 0h2.95m0 0h2.95m1 0h2.95m-2 0h2.95m2 0h2.95m5 0h2.95m4 0h2.95m27.1 0h2.95m65 0h2.95m54 0h2.95m32 0h2.95m64 0h2.95m116 0h2.95m53 0h2.95m34 0h2.95M-475 76h2.95m111 0h2.95m37 0h2.95m80 0h2.95m51 0h2.95m84 0h2.95m23.1 0h2.95m34 0h2.95m14.1 0h2.95m4 0h2.95m1 0h2.95m-2 0h2.95m0 0h2.95m-2 0h2.95m4 0h2.95m3 0h2.95m4 0h2.95m2 0h2.95m2 0h2.95m17.1 0h2.95m5 0h2.95m25.1 0h2.95m96 0h2.95m112 0h2.95m59 0h2.95m47 0h2.95m30.1 0h2.95m43 0h2.95M-388 77h2.95m62 0h2.95m72 0h2.95m41 0h2.95m79 0h2.95m31.1 0h2.95m19.1 0h2.95m30.1 0h2.95m9.1 0h2.95m-1 0h2.95m3 0h2.95m-2 0h2.95m0 0h2.95m-2 0h2.95m0 0h2.95m-2 0h2.95m1 0h2.95m-1 0h2.95m1 0h2.95m0 0h2.95m2 0h2.95m1 0h2.95m-1 0h2.95m5 0h2.95m1 0h2.95m-1 0h2.95m16.1 0h2.95m7 0h2.95m-2 0h2.95m54 0h2.95m65 0h2.95m102 0h2.95m57 0h2.95M-457 78h2.95m77 0h2.95m76 0h2.95m68 0h2.95m158.1 0h2.95m34 0h2.95m3 0h2.95m4 0h2.95m-1 0h2.95m3 0h2.95m4 0h2.95m-2 0h2.95m1 0h2.95m1 0h2.95m-2 0h2.95m1 0h2.95m-2 0h2.95m0 0h2.95m-2 0h2.95m4 0h2.95m-2 0h2.95m1 0h2.95m-1 0h2.95m82 0h2.95m71 0h2.95m89 0h2.95m71 0h2.95M-494 79h2.95m32 0h2.95m61 0h2.95m69 0h2.95m130.1 0h2.95m73 0h2.95m16.1 0h2.95m42 0h2.95m26.1 0h2.95m6 0h2.95m1 0h2.95m2 0h2.95m3 0h2.95m1 0h2.95m4 0h2.95m-2 0h2.95m2 0h2.95m4 0h2.95m11.1 0h2.95m22.1 0h2.95m17.1 0h2.95m58 0h2.95m38 0h2.95m55 0h2.95m55 0h2.95m62 0h2.95m38 0h2.95m80 0h2.95M-428 80h2.95m109 0h2.95m50 0h2.95m62 0h2.95m79 0h2.95m52 0h2.95m-1 0h2.95m29.1 0h2.95m5 0h2.95m3 0h2.95m7 0h2.95m2 0h2.95m-2 0h2.95m1 0h2.95m0 0h2.95m-2 0h2.95m4 0h2.95m8.1 0h2.95m6 0h2.95m22.1 0h2.95m67 0h2.95m29.1 0h2.95m37 0h2.95m76 0h2.95m35 0h2.95m74 0h2.95M-461 81h2.95m18.1 0h2.95m31.1 0h2.95m81 0h2.95m60 0h2.95m60 0h2.95m85 0h2.95m51 0h2.95m5 0h2.95m15.1 0h2.95m4 0h2.95m3 0h2.95m-2 0h2.95m3 0h2.95m-2 0h2.95m4 0h2.95m3 0h2.95m2 0h2.95m5 0h2.95m8.1 0h2.95m17.1 0h2.95m51 0h2.95m89 0h2.95m24.1 0h2.95m23.1 0h2.95m34 0h2.95m26.1 0h2.95m14.1 0h2.95m16.1 0h2.95m52 0h2.95M-482 82h2.95m44 0h2.95m142.1 0h2.95m41 0h2.95m62 0h2.95m23.1 0h2.95m48 0h2.95m8.1 0h2.95m35 0h2.95m18.1 0h2.95m9.1 0h2.95m1 0h2.95m2 0h2.95m2 0h2.95m1 0h2.95m2 0h2.95m-1 0h2.95m1 0h2.95m3 0h2.95m0 0h2.95m-2 0h2.95m5 0h2.95m-2 0h2.95m76 0h2.95m61 0h2.95m107 0h2.95m35 0h2.95m102 0h2.95M-482 83h2.95m15.1 0h2.95m43 0h2.95m112 0h2.95m45 0h2.95m33 0h2.95m78 0h2.95m32 0h2.95m21.1 0h2.95m13.1 0h2.95m19.1 0h2.95m1 0h2.95m13.1 0h2.95m2 0h2.95m-2 0h2.95m4 0h2.95m3 0h2.95m1 0h2.95m-2 0h2.95m2 0h2.95m-1 0h2.95m1 0h2.95m-2 0h2.95m5 0h2.95m7 0h2.95m6 0h2.95m5 0h2.95m78 0h2.95m50 0h2.95m67 0h2.95m31.1 0h2.95m29.1 0h2.95m22.1 0h2.95m92 0h2.95m42 0h2.95M-464 84h2.95m73 0h2.95m48 0h2.95m108 0h2.95m45 0h2.95m47 0h2.95m10.1 0h2.95m44 0h2.95m42 0h2.95m6 0h2.95m8.1 0h2.95m1 0h2.95m-2 0h2.95m2 0h2.95m1 0h2.95m1 0h2.95m-2 0h2.95m0 0h2.95m-1 0h2.95m13.1 0h2.95m14.1 0h2.95m32 0h2.95m42 0h2.95m44 0h2.95m28.1 0h2.95m29.1 0h2.95m1 0h2.95m66 0h2.95m29.1 0h2.95m81 0h2.95m39 0h2.95M-475 85h2.95m41 0h2.95m105 0h2.95m39 0h2.95m98 0h2.95m101 0h2.95m41 0h2.95m8.1 0h2.95m4 0h2.95m-1 0h2.95m1 0h2.95m-2 0h2.95m1 0h2.95m1 0h2.95m6 0h2.95m5 0h2.95m0 0h2.95m16.1 0h2.95m9.1 0h2.95m29.1 0h2.95m44 0h2.95m21.1 0h2.95m22.1 0h2.95m90 0h2.95m78 0h2.95m43 0h2.95M-484 86h2.95m92 0h2.95m55 0h2.95m20.1 0h2.95m37 0h2.95m54 0h2.95m43 0h2.95m71 0h2.95m31.1 0h2.95m9.1 0h2.95m11.1 0h2.95m5 0h2.95m3 0h2.95m0 0h2.95m0 0h2.95m0 0h2.95m-1 0h2.95m4 0h2.95m0 0h2.95m0 0h2.95m2 0h2.95m-2 0h2.95m7 0h2.95m13.1 0h2.95m29.1 0h2.95m77 0h2.95m74 0h2.95m22.1 0h2.95m100 0h2.95m42 0h2.95m14.1 0h2.95m43 0h2.95M-493 87h2.95m85 0h2.95m91 0h2.95m19.1 0h2.95m61 0h2.95m37 0h2.95m54 0h2.95m58 0h2.95m21.1 0h2.95m16.1 0h2.95m15.1 0h2.95m1 0h2.95m-2 0h2.95m1 0h2.95m3 0h2.95m-1 0h2.95m5 0h2.95m10.1 0h2.95m15.1 0h2.95m61 0h2.95m16.1 0h2.95m120 0h2.95m20.1 0h2.95m82 0h2.95m54 0h2.95m15.1 0h2.95M-488 88h2.95m47 0h2.95m26.1 0h2.95m44 0h2.95m41 0h2.95m47 0h2.95m32 0h2.95m46 0h2.95m44 0h2.95m31.1 0h2.95m22.1 0h2.95m25.1 0h2.95m27.1 0h2.95m7 0h2.95m2 0h2.95m1 0h2.95m-1 0h2.95m6 0h2.95m-2 0h2.95m8.1 0h2.95m4 0h2.95m7 0h2.95m23.1 0h2.95m15.1 0h2.95m65 0h2.95m70 0h2.95m88 0h2.95m86 0h2.95m37 0h2.95m28.1 0h2.95M-481 89h2.95m19.1 0h2.95m21.1 0h2.95m29.1 0h2.95m58 0h2.95m35 0h2.95m60 0h2.95m72 0h2.95m55 0h2.95m43 0h2.95m7 0h2.95m10.1 0h2.95m6 0h2.95m13.1 0h2.95m3 0h2.95m4 0h2.95m2 0h2.95m11.1 0h2.95m24.1 0h2.95m5 0h2.95m27.1 0h2.95m35 0h2.95m36 0h2.95m36 0h2.95m41 0h2.95m44 0h2.95m22.1 0h2.95m44 0h2.95m51 0h2.95m53 0h2.95M-492 90h2.95m46 0h2.95m52 0h2.95m48 0h2.95m15.1 0h2.95m57 0h2.95m14.1 0h2.95m46 0h2.95m23.1 0h2.95m23.1 0h2.95m48 0h2.95m54 0h2.95m10.1 0h2.95m4 0h2.95m4 0h2.95m2 0h2.95m4 0h2.95m3 0h2.95m0 0h2.95m4 0h2.95m5 0h2.95m27.1 0h2.95m24.1 0h2.95m1 0h2.95m28.1 0h2.95m23.1 0h2.95m20.1 0h2.95m24.1 0h2.95m34 0h2.95m68 0h2.95m59 0h2.95m81 0h2.95m29.1 0h2.95M-437 91h2.95m55 0h2.95m38 0h2.95m47 0h2.95m22.1 0h2.95m32 0h2.95m81 0h2.95m22.1 0h2.95m58 0h2.95m17.1 0h2.95m18.1 0h2.95m0 0h2.95m4 0h2.95m7 0h2.95m3 0h2.95m2 0h2.95m-2 0h2.95m7 0h2.95m18.1 0h2.95m18.1 0h2.95m76 0h2.95m55 0h2.95m28.1 0h2.95m82 0h2.95m33 0h2.95m30.1 0h2.95m47 0h2.95m41 0h2.95m6 0h2.95M-440 92h2.95m35 0h2.95m19.1 0h2.95m27.1 0h2.95m42 0h2.95m39 0h2.95m52 0h2.95m55 0h2.95m16.1 0h2.95m33 0h2.95m34 0h2.95m13.1 0h2.95m12.1 0h2.95m-1 0h2.95m7 0h2.95m1 0h2.95m1 0h2.95m6 0h2.95m-2 0h2.95m8.1 0h2.95m6 0h2.95m4 0h2.95m11.1 0h2.95m17.1 0h2.95m38 0h2.95m-2 0h2.95m32 0h2.95m46 0h2.95m57 0h2.95m11.1 0h2.95m63 0h2.95m12.1 0h2.95m-1 0h2.95m16.1 0h2.95m21.1 0h2.95m34 0h2.95m49 0h2.95M-482 93h2.95m16.1 0h2.95m19.1 0h2.95m26.1 0h2.95m23.1 0h2.95m29.1 0h2.95m31.1 0h2.95m77 0h2.95m25.1 0h2.95m23.1 0h2.95m54 0h2.95m34 0h2.95m34 0h2.95m13.1 0h2.95m4 0h2.95m5 0h2.95m0 0h2.95m5 0h2.95m3 0h2.95m2 0h2.95m-1 0h2.95m3 0h2.95m1 0h2.95m0 0h2.95m1 0h2.95m6 0h2.95m33 0h2.95m33 0h2.95m21.1 0h2.95m78 0h2.95m46 0h2.95m24.1 0h2.95m21.1 0h2.95m44 0h2.95m54 0h2.95m29.1 0h2.95M-447 94h2.95m26.1 0h2.95m49 0h2.95m-1 0h2.95m37 0h2.95m32 0h2.95m7 0h2.95m21.1 0h2.95m65 0h2.95m10.1 0h2.95m21.1 0h2.95m15.1 0h2.95m23.1 0h2.95m29.1 0h2.95m27.1 0h2.95m10.1 0h2.95m3 0h2.95m1 0h2.95m5 0h2.95m-1 0h2.95m0 0h2.95m-2 0h2.95m7 0h2.95m1 0h2.95m-2 0h2.95m4 0h2.95m29.1 0h2.95m10.1 0h2.95m36 0h2.95m24.1 0h2.95m47 0h2.95m10.1 0h2.95m40 0h2.95m50 0h2.95m28.1 0h2.95m74 0h2.95m51 0h2.95m30.1 0h2.95M-471 95h2.95m73 0h2.95m39 0h2.95m24.1 0h2.95m52 0h2.95m88 0h2.95m20.1 0h2.95m28.1 0h2.95m33 0h2.95m27.1 0h2.95m16.1 0h2.95m4 0h2.95m3 0h2.95m8.1 0h2.95m3 0h2.95m1 0h2.95m-2 0h2.95m0 0h2.95m0 0h2.95m5 0h2.95m4 0h2.95m1 0h2.95m8.1 0h2.95m11.1 0h2.95m25.1 0h2.95m62 0h2.95m26.1 0h2.95m26.1 0h2.95m47 0h2.95m27.1 0h2.95m39 0h2.95m39 0h2.95m52 0h2.95m46 0h2.95m22.1 0h2.95M-461 96h2.95m30.1 0h2.95m25.1 0h2.95m29.1 0h2.95m34 0h2.95m8.1 0h2.95m26.1 0h2.95m30.1 0h2.95m30.1 0h2.95m10.1 0h2.95m61 0h2.95m49 0h2.95m36 0h2.95m26.1 0h2.95m7 0h2.95m8.1 0h2.95m-2 0h2.95m3 0h2.95m5 0h2.95m-2 0h2.95m10.1 0h2.95m14.1 0h2.95m10.1 0h2.95m25.1 0h2.95m95 0h2.95m51 0h2.95m62 0h2.95m52 0h2.95m31.1 0h2.95m37 0h2.95m18.1 0h2.95m41 0h2.95M-489 97h2.95m28.1 0h2.95m25.1 0h2.95m51 0h2.95m7 0h2.95m30.1 0h2.95m61 0h2.95m16.1 0h2.95m5 0h2.95m44 0h2.95m28.1 0h2.95m34 0h2.95m44 0h2.95m22.1 0h2.95m9.1 0h2.95m12.1 0h2.95m6 0h2.95m1 0h2.95m4 0h2.95m6 0h2.95m3 0h2.95m-2 0h2.95m4 0h2.95m5 0h2.95m16.1 0h2.95m41 0h2.95m25.1 0h2.95m20.1 0h2.95m17.1 0h2.95m75 0h2.95m28.1 0h2.95m34 0h2.95m49 0h2.95m32 0h2.95m36 0h2.95M-488 98h2.95m31.1 0h2.95m19.1 0h2.95m54 0h2.95m34 0h2.95m84 0h2.95m26.1 0h2.95m63 0h2.95m25.1 0h2.95m24.1 0h2.95m22.1 0h2.95m27.1 0h2.95m24.1 0h2.95m6 0h2.95m1 0h2.95m-1 0h2.95m5 0h2.95m4 0h2.95m2 0h2.95m1 0h2.95m0 0h2.95m-1 0h2.95m9.1 0h2.95m4 0h2.95m25.1 0h2.95m26.1 0h2.95m87 0h2.95m42 0h2.95m38 0h2.95m28.1 0h2.95m16.1 0h2.95m53 0h2.95m101 0h2.95M-471 99h2.95m98 0h2.95m21.1 0h2.95m24.1 0h2.95m23.1 0h2.95m37 0h2.95m72 0h2.95m43 0h2.95m46 0h2.95m24.1 0h2.95m21.1 0h2.95m9.1 0h2.95m6 0h2.95m-2 0h2.95m2 0h2.95m2 0h2.95m1 0h2.95m0 0h2.95m2 0h2.95m8.1 0h2.95m47 0h2.95m24.1 0h2.95m17.1 0h2.95m30.1 0h2.95m16.1 0h2.95m39 0h2.95m22.1 0h2.95m53 0h2.95m30.1 0h2.95m33 0h2.95m26.1 0h2.95m66 0h2.95M-417 100h2.95m53 0h2.95m49 0h2.95m24.1 0h2.95m66 0h2.95m59 0h2.95m44 0h2.95m16.1 0h2.95m23.1 0h2.95m19.1 0h2.95m11.1 0h2.95m3 0h2.95m2 0h2.95m3 0h2.95m3 0h2.95m3 0h2.95m5 0h2.95m15.1 0h2.95m6 0h2.95m16.1 0h2.95m-1 0h2.95m18.1 0h2.95m42 0h2.95m13.1 0h2.95m111 0h2.95m29.1 0h2.95m22.1 0h2.95m20.1 0h2.95m42 0h2.95m1 0h2.95m36 0h2.95m43 0h2.95M-463 101h2.95m28.1 0h2.95m47 0h2.95m28.1 0h2.95m45 0h2.95m44 0h2.95m53 0h2.95m49 0h2.95m91 0h2.95m20.1 0h2.95m-2 0h2.95m2 0h2.95m7 0h2.95m7 0h2.95m1 0h2.95m1 0h2.95m-1 0h2.95m2 0h2.95m6 0h2.95m20.1 0h2.95m18.1 0h2.95m53 0h2.95m44 0h2.95m16.1 0h2.95m-2 0h2.95m66 0h2.95m33 0h2.95m24.1 0h2.95m19.1 0h2.95m50 0h2.95m36 0h2.95m54 0h2.95M-446 102h2.95m55 0h2.95m60 0h2.95m37 0h2.95m34 0h2.95m33 0h2.95m44 0h2.95m43 0h2.95m44 0h2.95m35 0h2.95m7 0h2.95m5 0h2.95m2 0h2.95m5 0h2.95m2 0h2.95m6 0h2.95m8.1 0h2.95m9.1 0h2.95m2 0h2.95m3 0h2.95m31.1 0h2.95m16.1 0h2.95m37 0h2.95m35 0h2.95m39 0h2.95m52 0h2.95m29.1 0h2.95m36 0h2.95m27.1 0h2.95m40 0h2.95m31.1 0h2.95m35 0h2.95M-480 103h2.95m21.1 0h2.95m68 0h2.95m39 0h2.95m25.1 0h2.95m42 0h2.95m108 0h2.95m16.1 0h2.95m24.1 0h2.95m45 0h2.95m12.1 0h2.95m30.1 0h2.95m3 0h2.95m0 0h2.95m5 0h2.95m4 0h2.95m-2 0h2.95m0 0h2.95m2 0h2.95m2 0h2.95m3 0h2.95m1 0h2.95m26.1 0h2.95m38 0h2.95m33 0h2.95m37 0h2.95m28.1 0h2.95m14.1 0h2.95m23.1 0h2.95m15.1 0h2.95m2 0h2.95m27.1 0h2.95m25.1 0h2.95m30.1 0h2.95m48 0h2.95m62 0h2.95M-404 104h2.95m24.1 0h2.95m67 0h2.95m40 0h2.95m58 0h2.95m24.1 0h2.95m47 0h2.95m39 0h2.95m11.1 0h2.95m25.1 0h2.95m5 0h2.95m12.1 0h2.95m6 0h2.95m6 0h2.95m-2 0h2.95m2 0h2.95m1 0h2.95m2 0h2.95m12.1 0h2.95m-1 0h2.95m12.1 0h2.95m10.1 0h2.95m14.1 0h2.95m29.1 0h2.95m37 0h2.95m46 0h2.95m80 0h2.95m23.1 0h2.95m44 0h2.95m53 0h2.95m28.1 0h2.95M-483 105h2.95m60 0h2.95m17.1 0h2.95m9.1 0h2.95m27.1 0h2.95m34 0h2.95m20.1 0h2.95m70 0h2.95m51 0h2.95m49 0h2.95m19.1 0h2.95m10.1 0h2.95m28.1 0h2.95m21.1 0h2.95m8.1 0h2.95m3 0h2.95m4 0h2.95m3 0h2.95m8.1 0h2.95m17.1 0h2.95m8.1 0h2.95m9.1 0h2.95m28.1 0h2.95m23.1 0h2.95m69 0h2.95m42 0h2.95m14.1 0h2.95m24.1 0h2.95m61 0h2.95m30.1 0h2.95m26.1 0h2.95m27.1 0h2.95m40 0h2.95M-435 106h2.95m82 0h2.95m61 0h2.95m31.1 0h2.95m62 0h2.95m59 0h2.95m37 0h2.95m17.1 0h2.95m48 0h2.95m6 0h2.95m0 0h2.95m2 0h2.95m-2 0h2.95m0 0h2.95m2 0h2.95m3 0h2.95m11.1 0h2.95m50 0h2.95m13.1 0h2.95m26.1 0h2.95m32 0h2.95m19.1 0h2.95m21.1 0h2.95m10.1 0h2.95m40 0h2.95m45 0h2.95m62 0h2.95m24.1 0h2.95m29.1 0h2.95m30.1 0h2.95M-461 107h2.95m48 0h2.95m23.1 0h2.95m53 0h2.95m37 0h2.95m28.1 0h2.95m56 0h2.95m51 0h2.95m40 0h2.95m11.1 0h2.95m28.1 0h2.95m11.1 0h2.95m9.1 0h2.95m7 0h2.95m10.1 0h2.95m0 0h2.95m5 0h2.95m4 0h2.95m7 0h2.95m31.1 0h2.95m16.1 0h2.95m55 0h2.95m31.1 0h2.95m20.1 0h2.95m36 0h2.95m17.1 0h2.95m32 0h2.95m34 0h2.95m16.1 0h2.95m25.1 0h2.95m36 0h2.95m19.1 0h2.95m38 0h2.95M-490 108h2.95m28.1 0h2.95m69 0h2.95m27.1 0h2.95m24.1 0h2.95m20.1 0h2.95m9.1 0h2.95m61 0h2.95m24.1 0h2.95m32 0h2.95m56 0h2.95m9.1 0h2.95m29.1 0h2.95m15.1 0h2.95m16.1 0h2.95m10.1 0h2.95m4 0h2.95m3 0h2.95m3 0h2.95m3 0h2.95m0 0h2.95m-1 0h2.95m10.1 0h2.95m31.1 0h2.95m21.1 0h2.95m16.1 0h2.95m14.1 0h2.95m82 0h2.95m74 0h2.95m52 0h2.95m26.1 0h2.95m36 0h2.95m36 0h2.95M-494 109h2.95m23.1 0h2.95m15.1 0h2.95m46 0h2.95m51 0h2.95m39 0h2.95m27.1 0h2.95m35 0h2.95m25.1 0h2.95m40 0h2.95m16.1 0h2.95m32 0h2.95m14.1 0h2.95m34 0h2.95m19.1 0h2.95m20.1 0h2.95m2 0h2.95m5 0h2.95m7 0h2.95m1 0h2.95m-2 0h2.95m8.1 0h2.95m32 0h2.95m29.1 0h2.95m11.1 0h2.95m61 0h2.95m58 0h2.95m65 0h2.95m76 0h2.95m53 0h2.95M-445 110h2.95m40 0h2.95m28.1 0h2.95m53 0h2.95m29.1 0h2.95m27.1 0h2.95m35 0h2.95m34 0h2.95m19.1 0h2.95m11.1 0h2.95m62 0h2.95m45 0h2.95m19.1 0h2.95m4 0h2.95m8.1 0h2.95m16.1 0h2.95m29.1 0h2.95m19.1 0h2.95m24.1 0h2.95m16.1 0h2.95m28.1 0h2.95m56 0h2.95m95 0h2.95m26.1 0h2.95m75 0h2.95m34 0h2.95m13.1 0h2.95M-448 111h2.95m32 0h2.95m19.1 0h2.95m70 0h2.95m34 0h2.95m26.1 0h2.95m10.1 0h2.95m29.1 0h2.95m20.1 0h2.95m20.1 0h2.95m13.1 0h2.95m20.1 0h2.95m9.1 0h2.95m29.1 0h2.95m13.1 0h2.95m26.1 0h2.95m14.1 0h2.95m-1 0h2.95m5 0h2.95m4 0h2.95m3 0h2.95m7 0h2.95m20.1 0h2.95m45 0h2.95m78 0h2.95m9.1 0h2.95m46 0h2.95m16.1 0h2.95m46 0h2.95m8.1 0h2.95m29.1 0h2.95m54 0h2.95m39 0h2.95m46 0h2.95M-420 112h2.95m33 0h2.95m27.1 0h2.95m56 0h2.95m57 0h2.95m66 0h2.95m18.1 0h2.95m84 0h2.95m19.1 0h2.95m18.1 0h2.95m2 0h2.95m4 0h2.95m7 0h2.95m2 0h2.95m13.1 0h2.95m10.1 0h2.95m15.1 0h2.95m21.1 0h2.95m31.1 0h2.95m28.1 0h2.95m21.1 0h2.95m34 0h2.95m51 0h2.95m67 0h2.95m31.1 0h2.95m38 0h2.95m74 0h2.95M-452 113h2.95m37 0h2.95m22.1 0h2.95m14.1 0h2.95m36 0h2.95m28.1 0h2.95m59 0h2.95m29.1 0h2.95m28.1 0h2.95m18.1 0h2.95m42 0h2.95m16.1 0h2.95m12.1 0h2.95m34 0h2.95m11.1 0h2.95m9.1 0h2.95m3 0h2.95m-1 0h2.95m7 0h2.95m20.1 0h2.95m-1 0h2.95m17.1 0h2.95m39 0h2.95m21.1 0h2.95m32 0h2.95m20.1 0h2.95m17.1 0h2.95m-1 0h2.95m11.1 0h2.95m5 0h2.95m30.1 0h2.95m15.1 0h2.95m48 0h2.95m15.1 0h2.95m39 0h2.95m0 0h2.95m32 0h2.95m73 0h2.95M-448 114h2.95m33 0h2.95m18.1 0h2.95m35 0h2.95m23.1 0h2.95m35 0h2.95m53 0h2.95m82 0h2.95m45 0h2.95m70 0h2.95m-2 0h2.95m15.1 0h2.95m3 0h2.95m7 0h2.95m7 0h2.95m2 0h2.95m3 0h2.95m22.1 0h2.95m69 0h2.95m18.1 0h2.95m83 0h2.95m56 0h2.95m25.1 0h2.95m29.1 0h2.95m36 0h2.95m20.1 0h2.95m31.1 0h2.95m42 0h2.95M-468 115h2.95m71 0h2.95m41 0h2.95m27.1 0h2.95m46 0h2.95m26.1 0h2.95m6 0h2.95m30.1 0h2.95m40 0h2.95m41 0h2.95m10.1 0h2.95m45 0h2.95m13.1 0h2.95m11.1 0h2.95m9.1 0h2.95m4 0h2.95m2 0h2.95m9.1 0h2.95m4 0h2.95m52 0h2.95m58 0h2.95m37 0h2.95m35 0h2.95m54 0h2.95m26.1 0h2.95m32 0h2.95m61 0h2.95m17.1 0h2.95m47 0h2.95M-453 116h2.95m26.1 0h2.95m46 0h2.95m24.1 0h2.95m17.1 0h2.95m35 0h2.95m18.1 0h2.95m28.1 0h2.95m20.1 0h2.95m62 0h2.95m46 0h2.95m52 0h2.95m8.1 0h2.95m14.1 0h2.95m6 0h2.95m8.1 0h2.95m8.1 0h2.95m11.1 0h2.95m17.1 0h2.95m14.1 0h2.95m-2 0h2.95m13.1 0h2.95m54 0h2.95m14.1 0h2.95m37 0h2.95m12.1 0h2.95m35 0h2.95m26.1 0h2.95m51 0h2.95m23.1 0h2.95m27.1 0h2.95m27.1 0h2.95m14.1 0h2.95m38 0h2.95M-462 117h2.95m61 0h2.95m24.1 0h2.95m39 0h2.95m81 0h2.95m91 0h2.95m53 0h2.95m45 0h2.95m18.1 0h2.95m5 0h2.95m10.1 0h2.95m6 0h2.95m10.1 0h2.95m-1 0h2.95m21.1 0h2.95m25.1 0h2.95m11.1 0h2.95m33 0h2.95m86 0h2.95m24.1 0h2.95m51 0h2.95m13.1 0h2.95m27.1 0h2.95m59 0h2.95m28.1 0h2.95m61 0h2.95M-428 118h2.95m50 0h2.95m38 0h2.95m26.1 0h2.95m3 0h2.95m49 0h2.95m35 0h2.95m23.1 0h2.95m20.1 0h2.95m18.1 0h2.95m34 0h2.95m14.1 0h2.95m22.1 0h2.95m14.1 0h2.95m4 0h2.95m16.1 0h2.95m8.1 0h2.95m6 0h2.95m6 0h2.95m12.1 0h2.95m12.1 0h2.95m15.1 0h2.95m30.1 0h2.95m14.1 0h2.95m18.1 0h2.95m29.1 0h2.95m53 0h2.95m17.1 0h2.95m29.1 0h2.95m34 0h2.95m25.1 0h2.95m35 0h2.95m39 0h2.95m17.1 0h2.95M-481 119h2.95m12.1 0h2.95m27.1 0h2.95m44 0h2.95m23.1 0h2.95m14.1 0h2.95m38 0h2.95m16.1 0h2.95m15.1 0h2.95m19.1 0h2.95m33 0h2.95m73 0h2.95m57 0h2.95m15.1 0h2.95m27.1 0h2.95m13.1 0h2.95m3 0h2.95m3 0h2.95m8.1 0h2.95m15.1 0h2.95m20.1 0h2.95m13.1 0h2.95m34 0h2.95m35 0h2.95m35 0h2.95m25.1 0h2.95m16.1 0h2.95m45 0h2.95m7 0h2.95m10.1 0h2.95m18.1 0h2.95m34 0h2.95m42 0h2.95m53 0h2.95m19.1 0h2.95M-447 120h2.95m24.1 0h2.95m31.1 0h2.95m23.1 0h2.95m27.1 0h2.95m13.1 0h2.95m43 0h2.95m24.1 0h2.95m37 0h2.95m39 0h2.95m31.1 0h2.95m57 0h2.95m23.1 0h2.95m19.1 0h2.95m4 0h2.95m1 0h2.95m2 0h2.95m6 0h2.95m7 0h2.95m5 0h2.95m-2 0h2.95m24.1 0h2.95m67 0h2.95m25.1 0h2.95m79 0h2.95m67 0h2.95m53 0h2.95m44 0h2.95m18.1 0h2.95M-457 121h2.95m47 0h2.95m10.1 0h2.95m9.1 0h2.95m49 0h2.95m49 0h2.95m47 0h2.95m26.1 0h2.95m53 0h2.95m32 0h2.95m33 0h2.95m43 0h2.95m8.1 0h2.95m10.1 0h2.95m-2 0h2.95m14.1 0h2.95m20.1 0h2.95m14.1 0h2.95m13.1 0h2.95m28.1 0h2.95m37 0h2.95m16.1 0h2.95m26.1 0h2.95m21.1 0h2.95m20.1 0h2.95m63 0h2.95m21.1 0h2.95m29.1 0h2.95m40 0h2.95m29.1 0h2.95m27.1 0h2.95M-482 122h2.95m32 0h2.95m27.1 0h2.95m15.1 0h2.95m28.1 0h2.95m41 0h2.95m20.1 0h2.95m7 0h2.95m45 0h2.95m43 0h2.95m49 0h2.95m40 0h2.95m32 0h2.95m26.1 0h2.95m-2 0h2.95m21.1 0h2.95m17.1 0h2.95m11.1 0h2.95m15.1 0h2.95m26.1 0h2.95m13.1 0h2.95m12.1 0h2.95m45 0h2.95m72 0h2.95m23.1 0h2.95m85 0h2.95m15.1 0h2.95m4 0h2.95m17.1 0h2.95m30.1 0h2.95m54 0h2.95M-460 123h2.95m45 0h2.95m39 0h2.95m18.1 0h2.95m39 0h2.95m50 0h2.95m15.1 0h2.95m31.1 0h2.95m38 0h2.95m42 0h2.95m27.1 0h2.95m19.1 0h2.95m1 0h2.95m25.1 0h2.95m8.1 0h2.95m13.1 0h2.95m9.1 0h2.95m2 0h2.95m20.1 0h2.95m5 0h2.95m30.1 0h2.95m14.1 0h2.95m28.1 0h2.95m28.1 0h2.95m51 0h2.95m50 0h2.95m41 0h2.95m37 0h2.95m33 0h2.95m31.1 0h2.95m46 0h2.95m28.1 0h2.95M-474 124h2.95m16.1 0h2.95m30.1 0h2.95m34 0h2.95m24.1 0h2.95m86 0h2.95m64 0h2.95m40 0h2.95m41 0h2.95m48 0h2.95m15.1 0h2.95m9.1 0h2.95m14.1 0h2.95m3 0h2.95m7 0h2.95m8.1 0h2.95m3 0h2.95m47 0h2.95m9.1 0h2.95m27.1 0h2.95m27.1 0h2.95m2 0h2.95m9.1 0h2.95m17.1 0h2.95m45 0h2.95m20.1 0h2.95m36 0h2.95m10.1 0h2.95m10.1 0h2.95m26.1 0h2.95m57 0h2.95m23.1 0h2.95m29.1 0h2.95M-474 125h2.95m31.1 0h2.95m42 0h2.95m37 0h2.95m59 0h2.95m47 0h2.95m50 0h2.95m32 0h2.95m51 0h2.95m26.1 0h2.95m30.1 0h2.95m29.1 0h2.95m13.1 0h2.95m3 0h2.95m26.1 0h2.95m41 0h2.95m27.1 0h2.95m17.1 0h2.95m41 0h2.95m30.1 0h2.95m33 0h2.95m14.1 0h2.95m32 0h2.95m52 0h2.95m42 0h2.95m63 0h2.95M-488 126h2.95m2 0h2.95m26.1 0h2.95m25.1 0h2.95m47 0h2.95m22.1 0h2.95m21.1 0h2.95m35 0h2.95m46 0h2.95m29.1 0h2.95m47 0h2.95m18.1 0h2.95m13.1 0h2.95m30.1 0h2.95m36 0h2.95m7 0h2.95m15.1 0h2.95m6 0h2.95m7 0h2.95m6 0h2.95m3 0h2.95m13.1 0h2.95m62 0h2.95m74 0h2.95m23.1 0h2.95m33 0h2.95m48 0h2.95m69 0h2.95m72 0h2.95m14.1 0h2.95M-478 127h2.95m13.1 0h2.95m0 0h2.95m31.1 0h2.95m54 0h2.95m65 0h2.95m35 0h2.95m33 0h2.95m32 0h2.95m40 0h2.95m36 0h2.95m20.1 0h2.95m2 0h2.95m38 0h2.95m26.1 0h2.95m5 0h2.95m5 0h2.95m10.1 0h2.95m4 0h2.95m1 0h2.95m9.1 0h2.95m12.1 0h2.95m52 0h2.95m55 0h2.95m74 0h2.95m69 0h2.95m52 0h2.95m48 0h2.95m8.1 0h2.95m45 0h2.95M-473 128h2.95m19.1 0h2.95m47 0h2.95m36 0h2.95m33 0h2.95m63 0h2.95m30.1 0h2.95m30.1 0h2.95m11.1 0h2.95m59 0h2.95m26.1 0h2.95m34 0h2.95m31.1 0h2.95m5 0h2.95m4 0h2.95m-2 0h2.95m3 0h2.95m13.1 0h2.95m41 0h2.95m4 0h2.95m63 0h2.95m14.1 0h2.95m15.1 0h2.95m1 0h2.95m55 0h2.95m38 0h2.95m9.1 0h2.95m52 0h2.95m42 0h2.95m27.1 0h2.95m22.1 0h2.95M-482 129h2.95m19.1 0h2.95m27.1 0h2.95m16.1 0h2.95m47 0h2.95m23.1 0h2.95m69 0h2.95m19.1 0h2.95m66 0h2.95m33 0h2.95m26.1 0h2.95m9.1 0h2.95m49 0h2.95m28.1 0h2.95m8.1 0h2.95m13.1 0h2.95m20.1 0h2.95m33 0h2.95m90 0h2.95m23.1 0h2.95m14.1 0h2.95m38 0h2.95m25.1 0h2.95m40 0h2.95m39 0h2.95m38 0h2.95m41 0h2.95m17.1 0h2.95m15.1 0h2.95M-436 130h2.95m18.1 0h2.95m34 0h2.95m27.1 0h2.95m57 0h2.95m37 0h2.95m61 0h2.95m36 0h2.95m35 0h2.95m58 0h2.95m29.1 0h2.95m16.1 0h2.95m11.1 0h2.95m29.1 0h2.95m41 0h2.95m17.1 0h2.95m25.1 0h2.95m64 0h2.95m25.1 0h2.95m33 0h2.95m-2 0h2.95m76 0h2.95m49 0h2.95m7 0h2.95m29.1 0h2.95M-466 131h2.95m92 0h2.95m39 0h2.95m59 0h2.95m-2 0h2.95m30.1 0h2.95m15.1 0h2.95m45 0h2.95m17.1 0h2.95m58 0h2.95m60 0h2.95m8.1 0h2.95m-1 0h2.95m14.1 0h2.95m10.1 0h2.95m9.1 0h2.95m43 0h2.95m22.1 0h2.95m36 0h2.95m8.1 0h2.95m26.1 0h2.95m26.1 0h2.95m27.1 0h2.95m45 0h2.95m13.1 0h2.95m57 0h2.95m34 0h2.95m33 0h2.95M-479 132h2.95m30.1 0h2.95m39 0h2.95m-2 0h2.95m42 0h2.95m47 0h2.95m61 0h2.95m4 0h2.95m49 0h2.95m40 0h2.95m38 0h2.95m55 0h2.95m14.1 0h2.95m16.1 0h2.95m7 0h2.95m11.1 0h2.95m66 0h2.95m40 0h2.95m56 0h2.95m65 0h2.95m42 0h2.95m21.1 0h2.95m51 0h2.95m35 0h2.95m57 0h2.95M-476 133h2.95m15.1 0h2.95m22.1 0h2.95m49 0h2.95m45 0h2.95m61 0h2.95m77 0h2.95m35 0h2.95m23.1 0h2.95m33 0h2.95m39 0h2.95m19.1 0h2.95m17.1 0h2.95m22.1 0h2.95m4 0h2.95m8.1 0h2.95m69 0h2.95m63 0h2.95m38 0h2.95m69 0h2.95m120 0h2.95M-494 134h2.95m42 0h2.95m13.1 0h2.95m21.1 0h2.95m137.1 0h2.95m29.1 0h2.95m67 0h2.95m46 0h2.95m61 0h2.95m17.1 0h2.95m3 0h2.95m17.1 0h2.95m12.1 0h2.95m12.1 0h2.95m36 0h2.95m23.1 0h2.95m59 0h2.95m27.1 0h2.95m30.1 0h2.95m48 0h2.95m79 0h2.95m58 0h2.95m42 0h2.95m29.1 0h2.95M-494 135h2.95m64 0h2.95m22.1 0h2.95m33 0h2.95m39 0h2.95m46 0h2.95m33 0h2.95m42 0h2.95m20.1 0h2.95m45 0h2.95m50 0h2.95m33 0h2.95m19.1 0h2.95m37 0h2.95m30.1 0h2.95m85 0h2.95m21.1 0h2.95m39 0h2.95m44 0h2.95m23.1 0h2.95m52 0h2.95m27.1 0h2.95m40 0h2.95M-487 136h2.95m53 0h2.95m31.1 0h2.95m1 0h2.95m57 0h2.95m32 0h2.95m39 0h2.95m21.1 0h2.95m30.1 0h2.95m39 0h2.95m26.1 0h2.95m10.1 0h2.95m21.1 0h2.95m75 0h2.95m8.1 0h2.95m-2 0h2.95m16.1 0h2.95m21.1 0h2.95m30.1 0h2.95m23.1 0h2.95m55 0h2.95m42 0h2.95m31.1 0h2.95m54 0h2.95m26.1 0h2.95m65 0h2.95m35 0h2.95m10.1 0h2.95m5 0h2.95m33 0h2.95M-441 137h2.95m121 0h2.95m81 0h2.95m90 0h2.95m43 0h2.95m42 0h2.95m37 0h2.95m22.1 0h2.95m30.1 0h2.95m14.1 0h2.95m11.1 0h2.95m43 0h2.95m95 0h2.95m64 0h2.95m27.1 0h2.95m55 0h2.95m57 0h2.95m35 0h2.95M-467 138h2.95m29.1 0h2.95m121 0h2.95m21.1 0h2.95m14.1 0h2.95m29.1 0h2.95m23.1 0h2.95m17.1 0h2.95m84 0h2.95m27.1 0h2.95m44 0h2.95m22.1 0h2.95m7 0h2.95m14.1 0h2.95m33 0h2.95m13.1 0h2.95m33 0h2.95m110 0h2.95m36 0h2.95m35 0h2.95m19.1 0h2.95m78 0h2.95m27.1 0h2.95m42 0h2.95M-441 139h2.95m83 0h2.95m60 0h2.95m53 0h2.95m50 0h2.95m65 0h2.95m66 0h2.95m20.1 0h2.95m13.1 0h2.95m8.1 0h2.95m14.1 0h2.95m1 0h2.95m40 0h2.95m57 0h2.95m76 0h2.95m55 0h2.95m64 0h2.95m41 0h2.95m50 0h2.95m40 0h2.95M-458 140h2.95m61 0h2.95m61 0h2.95m83 0h2.95m62 0h2.95m25.1 0h2.95m18.1 0h2.95m55 0h2.95m32 0h2.95m15.1 0h2.95m6 0h2.95m10.1 0h2.95m10.1 0h2.95m5 0h2.95m26.1 0h2.95m40 0h2.95m98 0h2.95m16.1 0h2.95m37 0h2.95m36 0h2.95m50 0h2.95m28.1 0h2.95m53 0h2.95m36 0h2.95M-454 141h2.95m92 0h2.95m57 0h2.95m73 0h2.95m109 0h2.95m24.1 0h2.95m42 0h2.95m28.1 0h2.95m7 0h2.95m19.1 0h2.95m86 0h2.95m101 0h2.95m46 0h2.95m39 0h2.95m79 0h2.95m89 0h2.95M-390 142h2.95m31.1 0h2.95m34 0h2.95m65 0h2.95m115 0h2.95m49 0h2.95m40 0h2.95m34 0h2.95m33 0h2.95m85 0h2.95m44 0h2.95m117 0h2.95m39 0h2.95m26.1 0h2.95m55 0h2.95m58 0h2.95M-407 143h2.95m27.1 0h2.95m13.1 0h2.95m26.1 0h2.95m89 0h2.95m29.1 0h2.95m77 0h2.95m57 0h2.95m12.1 0h2.95m49 0h2.95m12.1 0h2.95m5 0h2.95m56 0h2.95m83 0h2.95m102 0h2.95m40 0h2.95m35 0h2.95m61 0h2.95M-489 144h2.95m85 0h2.95m94 0h2.95m103 0h2.95m61 0h2.95m21.1 0h2.95m62 0h2.95m40 0h2.95m20.1 0h2.95m28.1 0h2.95m21.1 0h2.95m91 0h2.95m75 0h2.95m69 0h2.95m38 0h2.95m32 0h2.95m28.1 0h2.95m15.1 0h2.95m25.1 0h2.95m6 0h2.95M-421 145h2.95m38 0h2.95m98 0h2.95m76 0h2.95m105 0h2.95m38 0h2.95m34 0h2.95m8.1 0h2.95m14.1 0h2.95m36 0h2.95m58 0h2.95m56 0h2.95m85 0h2.95m89 0h2.95m27.1 0h2.95m42 0h2.95m23.1 0h2.95M-429 146h2.95m47 0h2.95m65 0h2.95m60 0h2.95m91 0h2.95m59 0h2.95m78 0h2.95m32 0h2.95m79 0h2.95m65 0h2.95m75 0h2.95m27.1 0h2.95m77 0h2.95m33 0h2.95M-489 147h2.95m59 0h2.95m53 0h2.95m36 0h2.95m50 0h2.95m73 0h2.95m52 0h2.95m71 0h2.95m53 0h2.95m13.1 0h2.95m11.1 0h2.95m57 0h2.95m46 0h2.95m99 0h2.95m36 0h2.95m140.1 0h2.95M-473 148h2.95m98 0h2.95m61 0h2.95m48 0h2.95m118 0h2.95m81 0h2.95m39 0h2.95m7 0h2.95m29.1 0h2.95m108 0h2.95m69 0h2.95m94 0h2.95m137.1 0h2.95M-428 149h2.95m13.1 0h2.95m74 0h2.95m63 0h2.95m156.1 0h2.95m33 0h2.95m49 0h2.95m35 0h2.95m134.1 0h2.95m58 0h2.95m23.1 0h2.95m111 0h2.95m92 0h2.95M-452 150h2.95m37 0h2.95m73 0h2.95m49 0h2.95m159.1 0h2.95m28.1 0h2.95m55 0h2.95m10.1 0h2.95m18.1 0h2.95m17.1 0h2.95m44 0h2.95m98 0h2.95m34 0h2.95m103 0h2.95m43 0h2.95m79 0h2.95M-473 151h2.95m43 0h2.95m79 0h2.95m36 0h2.95m81 0h2.95m49 0h2.95m101 0h2.95m17.1 0h2.95m46 0h2.95m5 0h2.95m70 0h2.95m74 0h2.95m27.1 0h2.95m71 0h2.95m130.1 0h2.95m62 0h2.95M-457 152h2.95m49 0h2.95m146.1 0h2.95m166.1 0h2.95m56 0h2.95m40 0h2.95m15.1 0h2.95m-2 0h2.95m111 0h2.95m36 0h2.95m19.1 0h2.95m41 0h2.95m97 0h2.95m21.1 0h2.95m74 0h2.95m25.1 0h2.95M-441 153h2.95m84 0h2.95m155.1 0h2.95m104 0h2.95m68 0h2.95m64 0h2.95m89 0h2.95m57 0h2.95m94 0h2.95m11.1 0h2.95m47 0h2.95m51 0h2.95M-468 154h2.95m103 0h2.95m142.1 0h2.95m83 0h2.95m108 0h2.95m15.1 0h2.95m82 0h2.95m69 0h2.95m75 0h2.95m97 0h2.95m131.1 0h2.95M-400 155h2.95m59 0h2.95m71 0h2.95m84 0h2.95m38 0h2.95m58 0h2.95m73 0h2.95m18.1 0h2.95m51 0h2.95m117 0h2.95m77 0h2.95m84 0h2.95m46 0h2.95M-455 156h2.95m95 0h2.95m66 0h2.95m40 0h2.95m95 0h2.95m52 0h2.95m40 0h2.95m48 0h2.95m34 0h2.95m26.1 0h2.95m111 0h2.95m66 0h2.95m92 0h2.95m88 0h2.95M-427 157h2.95m143.1 0h2.95m151.1 0h2.95m128.1 0h2.95m46 0h2.95m76 0h2.95m129.1 0h2.95m51 0h2.95m90 0h2.95M-466 158h2.95m98 0h2.95m221.1 0h2.95m85 0h2.95m29.1 0h2.95m25.1 0h2.95m116 0h2.95m151.1 0h2.95M-471 159h2.95m100 0h2.95m114 0h2.95m126 0h2.95m126 0h2.95m118 0h2.95m301.1 0h2.95M-431 160h2.95m183.1 0h2.95m38 0h2.95m168.1 0h2.95m37 0h2.95m98 0h2.95m123 0h2.95m66 0h2.95m117 0h2.95M-412 161h2.95m76 0h2.95m110 0h2.95m113 0h2.95m53 0h2.95m32 0h2.95m69 0h2.95m98 0h2.95m207.1 0h2.95m109 0h2.95M-281 162h2.95m137.1 0h2.95m89 0h2.95m98 0h2.95m142.1 0h2.95m206.1 0h2.95m73 0h2.95M-431 163h2.95m235.1 0h2.95m231.1 0h2.95m106 0h2.95m93 0h2.95m151.1 0h2.95M-415 164h2.95m59 0h2.95m50 0h2.95m64 0h2.95m238.1 0h2.95m318.1 0h2.95M-363 165h2.95m52 0h2.95m90 0h2.95m185.1 0h2.95m46 0h2.95m235.1 0h2.95m137.1 0h2.95M-467 166h2.95m115 0h2.95m101 0h2.95m185.1 0h2.95m82 0h2.95m140.1 0h2.95m106 0h2.95m113 0h2.95M-153 167h2.95m63 0h2.95m288.1 0h2.95m269.1 0h2.95M-147 168h2.95m123 0h2.95m78 0h2.95m204.1 0h2.95M-461 169h2.95m218.1 0h2.95m230.1 0h2.95m96 0h2.95m350.1 0h2.95M-453 170h2.95m465.1 0h2.95m258.1 0h2.95m194.1 0h2.95M-134 171h2.95m132.1 0h2.95m462.1 0h2.95M-362 172h2.95m314.1 0h2.95m332.1 0h2.95m164.1 0h2.95M-406 173h2.95m518 0h2.95m94 0h2.95m206.1 0h2.95M-321 174h2.95m219.1 0h2.95m500.1 0h2.95M-347 175h2.95m87 0h2.95m250.1 0h2.95m140.1 0h2.95m139.1 0h2.95m157.1 0h2.95M-447 176h2.95m385.1 0h2.95m154.1 0h2.95m364.1 0h2.95M24 177h2.95m196.1 0h2.95m96 0h2.95M-94 178h2.95m367.1 0h2.95M-324 179h2.95m665 0h2.95M-185 180h2.95m662 0h2.95M-8 181h2.95M-483 182h2.95m520 0h2.95M-338 183h2.95M140 184h2.95M-442 186h2.95m545 0h2.95m173.1 0h2.95M-190 187h2.95m367.1 0h2.95m311.1 0h2.95M210 189h2.95M-160 190h2.95M-411 192h2.95M212 193h2.95M-249 194h2.95M251 195h2.95M174 196h2.95M130 198h2.95M365 203h2.95M45 218h2.95"/>
<path d="M-78 0h2.95m58 0h2.95m4 0h2.95m7 0h2.95m5 0h2.95m5 0h2.95m30.1 0h2.95M-376 1h2.95m343.1 0h2.95m14.1 0h2.95m3 0h2.95m7 0h2.95m7 0h2.95m12.1 0h2.95m52 0h2.95m318.1 0h2.95M-42 2h2.95m21.1 0h2.95m3 0h2.95m-1 0h2.95m3 0h2.95m-2 0h2.95m8.1 0h2.95m6 0h2.95m1 0h2.95m-2 0h2.95m49 0h2.95M-84 3h2.95m50 0h2.95m7 0h2.95m11.1 0h2.95m4 0h2.95m5 0h2.95m6 0h2.95m66 0h2.95M-392 4h2.95m355.1 0h2.95m15.1 0h2.95m1 0h2.95m-1 0h2.95m6 0h2.95m2 0h2.95m4 0h2.95m6 0h2.95m7 0h2.95m49 0h2.95M-64 5h2.95m35 0h2.95m2 0h2.95m7 0h2.95m3 0h2.95m3 0h2.95m3 0h2.95m10.1 0h2.95m45 0h2.95m164.1 0h2.95M-75 6h2.95m32 0h2.95m13.1 0h2.95m15.1 0h2.95m4 0h2.95m0 0h2.95m5 0h2.95m8.1 0h2.95m7 0h2.95m1 0h2.95m297.1 0h2.95M-76 7h2.95m34 0h2.95m15.1 0h2.95m16.1 0h2.95m-1 0h2.95m5 0h2.95m2 0h2.95m11.1 0h2.95m70 0h2.95M-74 8h2.95m33 0h2.95m23.1 0h2.95m1 0h2.95m5 0h2.95m5 0h2.95m3 0h2.95m9.1 0h2.95m22.1 0h2.95M-95 9h2.95m79 0h2.95m-1 0h2.95m6 0h2.95m3 0h2.95m3 0h2.95m-1 0h2.95m16.1 0h2.95m0 0h2.95m19.1 0h2.95m168.1 0h2.95M-51 10h2.95m28.1 0h2.95m5 0h2.95m7 0h2.95m-2 0h2.95m2 0h2.95m3 0h2.95m6 0h2.95m11.1 0h2.95m5 0h2.95M-106 11h2.95m76 0h2.95m7 0h2.95m7 0h2.95m0 0h2.95m-1 0h2.95m5 0h2.95m12.1 0h2.95m11.1 0h2.95m40 0h2.95m386.1 0h2.95M-74 12h2.95m27.1 0h2.95m17.1 0h2.95m1 0h2.95m4 0h2.95m6 0h2.95m1 0h2.95m-2 0h2.95m3 0h2.95m-2 0h2.95m7 0h2.95m6 0h2.95m9.1 0h2.95m-1 0h2.95m34 0h2.95M-212 13h2.95m165.1 0h2.95m3 0h2.95m20.1 0h2.95m9.1 0h2.95m9.1 0h2.95m6 0h2.95m17.1 0h2.95m19.1 0h2.95m34 0h2.95m382.1 0h2.95M-254 14h2.95m190.1 0h2.95m31.1 0h2.95m8.1 0h2.95m2 0h2.95m-1 0h2.95m1 0h2.95m-2 0h2.95m1 0h2.95m-1 0h2.95m0 0h2.95m-2 0h2.95m11.1 0h2.95m1 0h2.95m14.1 0h2.95m32 0h2.95m198.1 0h2.95M-339 15h2.95m293.1 0h2.95m14.1 0h2.95m4 0h2.95m2 0h2.95m-2 0h2.95m3 0h2.95m6 0h2.95m3 0h2.95m-1 0h2.95m3 0h2.95m29.1 0h2.95m57 0h2.95M-92 16h2.95m23.1 0h2.95m5 0h2.95m16.1 0h2.95m17.1 0h2.95m0 0h2.95m2 0h2.95m-1 0h2.95m9.1 0h2.95m3 0h2.95m5 0h2.95m33 0h2.95m226.1 0h2.95M-449 17h2.95m412.1 0h2.95m9.1 0h2.95m8.1 0h2.95m4 0h2.95m-1 0h2.95m4 0h2.95m8.1 0h2.95m7 0h2.95m35 0h2.95m428.1 0h2.95M-118 18h2.95m58 0h2.95m-1 0h2.95m28.1 0h2.95m9.1 0h2.95m-2 0h2.95m4 0h2.95m1 0h2.95m2 0h2.95m4 0h2.95m6 0h2.95m9.1 0h2.95m353.1 0h2.95M-46 19h2.95m8.1 0h2.95m2 0h2.95m8.1 0h2.95m3 0h2.95m5 0h2.95m0 0h2.95m-1 0h2.95m3 0h2.95m-2 0h2.95m4 0h2.95m2 0h2.95m5 0h2.95m13.1 0h2.95m21.1 0h2.95m40 0h2.95M-438 20h2.95m375.1 0h2.95m21.1 0h2.95m5 0h2.95m-1 0h2.95m8.1 0h2.95m5 0h2.95m6 0h2.95m1 0h2.95m-1 0h2.95m1 0h2.95m5 0h2.95m8.1 0h2.95m55 0h2.95m368.1 0h2.95M-439 21h2.95m356.1 0h2.95m26.1 0h2.95m12.1 0h2.95m11.1 0h2.95m3 0h2.95m7 0h2.95m3 0h2.95m7 0h2.95m4 0h2.95m14.1 0h2.95m22.1 0h2.95m157.1 0h2.95M-376 22h2.95m328.1 0h2.95m10.1 0h2.95m12.1 0h2.95m3 0h2.95m-2 0h2.95m1 0h2.95m1 0h2.95m-1 0h2.95m6 0h2.95m-2 0h2.95m3 0h2.95m6 0h2.95m16.1 0h2.95m351.1 0h2.95M-87 23h2.95m43 0h2.95m19.1 0h2.95m5 0h2.95m1 0h2.95m2 0h2.95m-2 0h2.95m3 0h2.95m1 0h2.95m5 0h2.95m-2 0h2.95m11.1 0h2.95M-457 24h2.95m344.1 0h2.95m73 0h2.95m1 0h2.95m1 0h2.95m3 0h2.95m6 0h2.95m-2 0h2.95m8.1 0h2.95m1 0h2.95m-2 0h2.95m1 0h2.95m-2 0h2.95m2 0h2.95m22.1 0h2.95m23.1 0h2.95m232.1 0h2.95M-391 25h2.95m261.1 0h2.95m64 0h2.95m20.1 0h2.95m9.1 0h2.95m6 0h2.95m5 0h2.95m0 0h2.95m-2 0h2.95m2 0h2.95m3 0h2.95m6 0h2.95m0 0h2.95m7 0h2.95m9.1 0h2.95m104 0h2.95m112 0h2.95M-343 26h2.95m271.1 0h2.95m21.1 0h2.95m8.1 0h2.95m-2 0h2.95m6 0h2.95m6 0h2.95m3 0h2.95m1 0h2.95m0 0h2.95m1 0h2.95m-2 0h2.95m14.1 0h2.95m10.1 0h2.95m416.1 0h2.95M-138 27h2.95m85 0h2.95m15.1 0h2.95m15.1 0h2.95m-1 0h2.95m4 0h2.95m2 0h2.95m0 0h2.95m4 0h2.95m1 0h2.95m0 0h2.95m-2 0h2.95m8.1 0h2.95m30.1 0h2.95m222.1 0h2.95m165.1 0h2.95M-441 28h2.95m196.1 0h2.95m82 0h2.95m88 0h2.95m40 0h2.95m4 0h2.95m3 0h2.95m1 0h2.95m0 0h2.95m2 0h2.95m1 0h2.95m-1 0h2.95m5 0h2.95m8.1 0h2.95m3 0h2.95m14.1 0h2.95m213.1 0h2.95M-468 29h2.95m384.1 0h2.95m-2 0h2.95m29.1 0h2.95m-2 0h2.95m19.1 0h2.95m9.1 0h2.95m4 0h2.95m4 0h2.95m2 0h2.95m-2 0h2.95m1 0h2.95m-2 0h2.95m2 0h2.95m-2 0h2.95m6 0h2.95m-2 0h2.95m7 0h2.95m13.1 0h2.95m293.1 0h2.95M-289 30h2.95m169.1 0h2.95m86 0h2.95m7 0h2.95m4 0h2.95m-2 0h2.95m5 0h2.95m3 0h2.95m1 0h2.95m-2 0h2.95m3 0h2.95m-2 0h2.95m3 0h2.95m-1 0h2.95m3 0h2.95m5 0h2.95m41 0h2.95m120 0h2.95m286.1 0h2.95M-200 31h2.95m154.1 0h2.95m13.1 0h2.95m-2 0h2.95m8.1 0h2.95m5 0h2.95m2 0h2.95m3 0h2.95m1 0h2.95m-1 0h2.95m5 0h2.95m12.1 0h2.95m189.1 0h2.95m186.1 0h2.95M-189 32h2.95m91 0h2.95m59 0h2.95m7 0h2.95m6 0h2.95m-2 0h2.95m5 0h2.95m-2 0h2.95m2 0h2.95m5 0h2.95m1 0h2.95m0 0h2.95m1 0h2.95m10.1 0h2.95m61 0h2.95m164.1 0h2.95m158.1 0h2.95M-382 33h2.95m293.1 0h2.95m41 0h2.95m11.1 0h2.95m1 0h2.95m9.1 0h2.95m-2 0h2.95m1 0h2.95m2 0h2.95m-2 0h2.95m1 0h2.95m-1 0h2.95m3 0h2.95m1 0h2.95m13.1 0h2.95m148.1 0h2.95m111 0h2.95M-351 34h2.95m269.1 0h2.95m25.1 0h2.95m14.1 0h2.95m11.1 0h2.95m0 0h2.95m-1 0h2.95m2 0h2.95m0 0h2.95m1 0h2.95m3 0h2.95m-1 0h2.95m2 0h2.95m5 0h2.95m17.1 0h2.95m44 0h2.95m234.1 0h2.95m133.1 0h2.95M-396 35h2.95m239.1 0h2.95m107 0h2.95m18.1 0h2.95m4 0h2.95m2 0h2.95m-2 0h2.95m1 0h2.95m-1 0h2.95m1 0h2.95m2 0h2.95m1 0h2.95m5 0h2.95m7 0h2.95m7 0h2.95m18.1 0h2.95m190.1 0h2.95m180.1 0h2.95M-358 36h2.95m218.1 0h2.95m82 0h2.95m12.1 0h2.95m-1 0h2.95m7 0h2.95m1 0h2.95m-2 0h2.95m1 0h2.95m0 0h2.95m-2 0h2.95m2 0h2.95m-1 0h2.95m1 0h2.95m1 0h2.95m2 0h2.95m10.1 0h2.95m0 0h2.95m-1 0h2.95m9.1 0h2.95m21.1 0h2.95m202.1 0h2.95M-326 37h2.95m207.1 0h2.95m59 0h2.95m22.1 0h2.95m12.1 0h2.95m4 0h2.95m2 0h2.95m5 0h2.95m4 0h2.95m7 0h2.95m3 0h2.95m-2 0h2.95m8.1 0h2.95m-1 0h2.95m87 0h2.95m127 0h2.95m152.1 0h2.95M-328 38h2.95m247.1 0h2.95m36 0h2.95m17.1 0h2.95m-2 0h2.95m4 0h2.95m6 0h2.95m7 0h2.95m2 0h2.95m3 0h2.95m26.1 0h2.95m21.1 0h2.95m117 0h2.95M-389 39h2.95m70 0h2.95m254.1 0h2.95m16.1 0h2.95m23.1 0h2.95m0 0h2.95m-2 0h2.95m2 0h2.95m3 0h2.95m2 0h2.95m3 0h2.95m1 0h2.95m-2 0h2.95m4 0h2.95m11.1 0h2.95m20.1 0h2.95m26.1 0h2.95m305.1 0h2.95M-491 40h2.95m119 0h2.95m243.1 0h2.95m87 0h2.95m7 0h2.95m5 0h2.95m4 0h2.95m2 0h2.95m1 0h2.95m3 0h2.95m-2 0h2.95m7 0h2.95m19.1 0h2.95m89 0h2.95m200.1 0h2.95M-430 41h2.95m129.1 0h2.95m157.1 0h2.95m71 0h2.95m27.1 0h2.95m4 0h2.95m8.1 0h2.95m3 0h2.95m3 0h2.95m-2 0h2.95m3 0h2.95m0 0h2.95m-2 0h2.95m4 0h2.95m-2 0h2.95m4 0h2.95m3 0h2.95m6 0h2.95m38 0h2.95m212.1 0h2.95m131.1 0h2.95M-418 42h2.95m169.1 0h2.95m172.1 0h2.95m38 0h2.95m6 0h2.95m7 0h2.95m1 0h2.95m-2 0h2.95m0 0h2.95m-2 0h2.95m2 0h2.95m4 0h2.95m0 0h2.95m8.1 0h2.95m23.1 0h2.95m12.1 0h2.95m114 0h2.95m8.1 0h2.95m116 0h2.95m142.1 0h2.95M-434 43h2.95m72 0h2.95m143.1 0h2.95m47 0h2.95m56 0h2.95m22.1 0h2.95m20.1 0h2.95m19.1 0h2.95m8.1 0h2.95m4 0h2.95m1 0h2.95m2 0h2.95m4 0h2.95m1 0h2.95m-2 0h2.95m4 0h2.95m5 0h2.95m13.1 0h2.95m16.1 0h2.95m87 0h2.95m61 0h2.95m202.1 0h2.95M-476 44h2.95m104 0h2.95m214.1 0h2.95m39 0h2.95m57 0h2.95m8.1 0h2.95m9.1 0h2.95m5 0h2.95m-1 0h2.95m5 0h2.95m2 0h2.95m-2 0h2.95m2 0h2.95m2 0h2.95m2 0h2.95m4 0h2.95m-1 0h2.95m5 0h2.95m10.1 0h2.95m8.1 0h2.95m134.1 0h2.95m53 0h2.95m244.1 0h2.95M-271 45h2.95m196.1 0h2.95m30.1 0h2.95m14.1 0h2.95m5 0h2.95m4 0h2.95m1 0h2.95m1 0h2.95m-2 0h2.95m7 0h2.95m1 0h2.95m1 0h2.95m42 0h2.95m60 0h2.95m139.1 0h2.95m99 0h2.95m110 0h2.95M-434 46h2.95m44 0h2.95m295.1 0h2.95m24.1 0h2.95m27.1 0h2.95m8.1 0h2.95m5 0h2.95m3 0h2.95m3 0h2.95m-2 0h2.95m2 0h2.95m4 0h2.95m2 0h2.95m1 0h2.95m1 0h2.95m11.1 0h2.95m104 0h2.95m137.1 0h2.95m128.1 0h2.95m56 0h2.95M-463 47h2.95m127 0h2.95m278.1 0h2.95m13.1 0h2.95m13.1 0h2.95m1 0h2.95m0 0h2.95m2 0h2.95m-1 0h2.95m2 0h2.95m-2 0h2.95m2 0h2.95m-2 0h2.95m6 0h2.95m2 0h2.95m25.1 0h2.95m9.1 0h2.95m48 0h2.95m123 0h2.95m141.1 0h2.95m27.1 0h2.95M-417 48h2.95m102 0h2.95m261.1 0h2.95m22.1 0h2.95m5 0h2.95m1 0h2.95m3 0h2.95m3 0h2.95m2 0h2.95m1 0h2.95m0 0h2.95m5 0h2.95m4 0h2.95m12.1 0h2.95m25.1 0h2.95m36 0h2.95m138.1 0h2.95m93 0h2.95m134.1 0h2.95M-440 49h2.95m173.1 0h2.95m136.1 0h2.95m88 0h2.95m7 0h2.95m3 0h2.95m3 0h2.95m0 0h2.95m-2 0h2.95m1 0h2.95m0 0h2.95m-2 0h2.95m2 0h2.95m-2 0h2.95m3 0h2.95m-1 0h2.95m3 0h2.95m-2 0h2.95m13.1 0h2.95m13.1 0h2.95m226.1 0h2.95m72 0h2.95m75 0h2.95M-377 50h2.95m174.1 0h2.95m68 0h2.95m50 0h2.95m18.1 0h2.95m16.1 0h2.95m12.1 0h2.95m5 0h2.95m-2 0h2.95m1 0h2.95m3 0h2.95m5 0h2.95m3 0h2.95m-1 0h2.95m8.1 0h2.95m10.1 0h2.95m41 0h2.95m50 0h2.95m85 0h2.95m163.1 0h2.95M-436 51h2.95m184.1 0h2.95m79 0h2.95m36 0h2.95m23.1 0h2.95m62 0h2.95m10.1 0h2.95m4 0h2.95m5 0h2.95m-2 0h2.95m0 0h2.95m-2 0h2.95m4 0h2.95m0 0h2.95m0 0h2.95m4 0h2.95m5 0h2.95m-2 0h2.95m6 0h2.95m32 0h2.95m53 0h2.95m110 0h2.95m175.1 0h2.95M-432 52h2.95m78 0h2.95m194.1 0h2.95m97 0h2.95m22.1 0h2.95m6 0h2.95m2 0h2.95m-2 0h2.95m3 0h2.95m4 0h2.95m6 0h2.95m0 0h2.95m-2 0h2.95m3 0h2.95m7 0h2.95m15.1 0h2.95m8.1 0h2.95m117 0h2.95m111 0h2.95m83 0h2.95m37 0h2.95M-363 53h2.95m117 0h2.95m59 0h2.95m46 0h2.95m84 0h2.95m5 0h2.95m-2 0h2.95m11.1 0h2.95m1 0h2.95m4 0h2.95m2 0h2.95m-1 0h2.95m2 0h2.95m-2 0h2.95m6 0h2.95m-2 0h2.95m4 0h2.95m7 0h2.95m1 0h2.95m9.1 0h2.95m18.1 0h2.95m29.1 0h2.95m30.1 0h2.95m15.1 0h2.95m132.1 0h2.95m163.1 0h2.95M-372 54h2.95m131.1 0h2.95m97 0h2.95m60 0h2.95m24.1 0h2.95m16.1 0h2.95m1 0h2.95m-2 0h2.95m3 0h2.95m-2 0h2.95m1 0h2.95m2 0h2.95m0 0h2.95m-2 0h2.95m3 0h2.95m-2 0h2.95m1 0h2.95m-2 0h2.95m6 0h2.95m2 0h2.95m16.1 0h2.95m10.1 0h2.95m101 0h2.95m92 0h2.95m103 0h2.95m113 0h2.95M-332 55h2.95m36 0h2.95m159.1 0h2.95m67 0h2.95m10.1 0h2.95m20.1 0h2.95m2 0h2.95m4 0h2.95m-2 0h2.95m1 0h2.95m-2 0h2.95m0 0h2.95m-2 0h2.95m3 0h2.95m2 0h2.95m-1 0h2.95m4 0h2.95m2 0h2.95m17.1 0h2.95m51 0h2.95m94 0h2.95m46 0h2.95m56 0h2.95m93 0h2.95m88 0h2.95M-414 56h2.95m75 0h2.95m95 0h2.95m110 0h2.95m75 0h2.95m16.1 0h2.95m6 0h2.95m4 0h2.95m1 0h2.95m-2 0h2.95m3 0h2.95m0 0h2.95m-2 0h2.95m1 0h2.95m-1 0h2.95m4 0h2.95m3 0h2.95m-2 0h2.95m6 0h2.95m12.1 0h2.95m136.1 0h2.95m37 0h2.95m126 0h2.95M-350 57h2.95m209.1 0h2.95m43 0h2.95m41 0h2.95m12.1 0h2.95m15.1 0h2.95m6 0h2.95m1 0h2.95m1 0h2.95m-2 0h2.95m1 0h2.95m0 0h2.95m-1 0h2.95m4 0h2.95m8.1 0h2.95m10.1 0h2.95m12.1 0h2.95m19.1 0h2.95m21.1 0h2.95m25.1 0h2.95m38 0h2.95m67 0h2.95m1 0h2.95m118 0h2.95m104 0h2.95M-414 58h2.95m46 0h2.95m88 0h2.95m62 0h2.95m26.1 0h2.95m93 0h2.95m35 0h2.95m10.1 0h2.95m6 0h2.95m2 0h2.95m4 0h2.95m1 0h2.95m-2 0h2.95m2 0h2.95m-2 0h2.95m1 0h2.95m3 0h2.95m4 0h2.95m8.1 0h2.95m2 0h2.95m7 0h2.95m9.1 0h2.95m179.1 0h2.95m55 0h2.95m168.1 0h2.95M-454 59h2.95m42 0h2.95m113 0h2.95m90 0h2.95m62 0h2.95m71 0h2.95m10.1 0h2.95m22.1 0h2.95m6 0h2.95m2 0h2.95m1 0h2.95m2 0h2.95m1 0h2.95m1 0h2.95m4 0h2.95m0 0h2.95m-2 0h2.95m6 0h2.95m17.1 0h2.95m176.1 0h2.95m50 0h2.95m112 0h2.95M-335 60h2.95m119 0h2.95m112 0h2.95m9.1 0h2.95m28.1 0h2.95m20.1 0h2.95m8.1 0h2.95m2 0h2.95m-2 0h2.95m1 0h2.95m-2 0h2.95m1 0h2.95m1 0h2.95m1 0h2.95m2 0h2.95m2 0h2.95m-2 0h2.95m5 0h2.95m0 0h2.95m30.1 0h2.95m101 0h2.95m54 0h2.95m124 0h2.95M-428 61h2.95m59 0h2.95m59 0h2.95m9.1 0h2.95m57 0h2.95m104 0h2.95m67 0h2.95m20.1 0h2.95m5 0h2.95m-2 0h2.95m7 0h2.95m2 0h2.95m1 0h2.95m0 0h2.95m-1 0h2.95m0 0h2.95m-2 0h2.95m0 0h2.95m-2 0h2.95m2 0h2.95m-1 0h2.95m5 0h2.95m7 0h2.95m-1 0h2.95m15.1 0h2.95m48 0h2.95m60 0h2.95m46 0h2.95m89 0h2.95m79 0h2.95M-425 62h2.95m65 0h2.95m64 0h2.95m141.1 0h2.95m70 0h2.95m23.1 0h2.95m5 0h2.95m12.1 0h2.95m0 0h2.95m4 0h2.95m4 0h2.95m3 0h2.95m1 0h2.95m-1 0h2.95m3 0h2.95m6 0h2.95m-1 0h2.95m6 0h2.95m7 0h2.95m19.1 0h2.95m34 0h2.95m171.1 0h2.95m110 0h2.95m44 0h2.95m59 0h2.95M-421 63h2.95m85 0h2.95m91 0h2.95m48 0h2.95m56 0h2.95m68 0h2.95m12.1 0h2.95m6 0h2.95m8.1 0h2.95m-2 0h2.95m3 0h2.95m4 0h2.95m-2 0h2.95m1 0h2.95m-1 0h2.95m3 0h2.95m2 0h2.95m2 0h2.95m5 0h2.95m4 0h2.95m7 0h2.95m21.1 0h2.95m93 0h2.95m64 0h2.95m152.1 0h2.95m56 0h2.95M-374 64h2.95m86 0h2.95m60 0h2.95m116 0h2.95m40 0h2.95m22.1 0h2.95m7 0h2.95m4 0h2.95m7 0h2.95m-2 0h2.95m2 0h2.95m2 0h2.95m5 0h2.95m-2 0h2.95m4 0h2.95m-1 0h2.95m26.1 0h2.95m34 0h2.95m68 0h2.95m99 0h2.95m227.1 0h2.95M-467 65h2.95m137.1 0h2.95m29.1 0h2.95m25.1 0h2.95m112 0h2.95m6 0h2.95m70 0h2.95m26.1 0h2.95m8.1 0h2.95m6 0h2.95m3 0h2.95m1 0h2.95m2 0h2.95m-2 0h2.95m3 0h2.95m2 0h2.95m-1 0h2.95m4 0h2.95m15.1 0h2.95m58 0h2.95m68 0h2.95m134.1 0h2.95m46 0h2.95m100 0h2.95M-397 66h2.95m96 0h2.95m89 0h2.95m70 0h2.95m40 0h2.95m35 0h2.95m12.1 0h2.95m8.1 0h2.95m5 0h2.95m4 0h2.95m2 0h2.95m-2 0h2.95m0 0h2.95m-2 0h2.95m0 0h2.95m-2 0h2.95m3 0h2.95m-2 0h2.95m1 0h2.95m-1 0h2.95m1 0h2.95m9.1 0h2.95m52 0h2.95m24.1 0h2.95m118 0h2.95m45 0h2.95m78 0h2.95m95 0h2.95m21.1 0h2.95M-481 67h2.95m85 0h2.95m88 0h2.95m61 0h2.95m78 0h2.95m67 0h2.95m33 0h2.95m5 0h2.95m8.1 0h2.95m-2 0h2.95m6 0h2.95m-1 0h2.95m3 0h2.95m-2 0h2.95m3 0h2.95m4 0h2.95m1 0h2.95m2 0h2.95m0 0h2.95m-2 0h2.95m1 0h2.95m-2 0h2.95m4 0h2.95m-1 0h2.95m18.1 0h2.95m39 0h2.95m97 0h2.95m126 0h2.95m87 0h2.95m51 0h2.95M-459 68h2.95m47 0h2.95m16.1 0h2.95m27.1 0h2.95m85 0h2.95m102 0h2.95m59 0h2.95m64 0h2.95m7 0h2.95m5 0h2.95m-1 0h2.95m0 0h2.95m-2 0h2.95m2 0h2.95m-2 0h2.95m4 0h2.95m4 0h2.95m5 0h2.95m1 0h2.95m-2 0h2.95m4 0h2.95m9.1 0h2.95m12.1 0h2.95m138.1 0h2.95m62 0h2.95m211.1 0h2.95M-429 69h2.95m87 0h2.95m110 0h2.95m82 0h2.95m98 0h2.95m9.1 0h2.95m7 0h2.95m4 0h2.95m-2 0h2.95m0 0h2.95m-2 0h2.95m1 0h2.95m4 0h2.95m1 0h2.95m-2 0h2.95m1 0h2.95m13.1 0h2.95m11.1 0h2.95m19.1 0h2.95m40 0h2.95m70 0h2.95m16.1 0h2.95m70 0h2.95m105 0h2.95m92 0h2.95M-468 70h2.95m91 0h2.95m34 0h2.95m45 0h2.95m73 0h2.95m135.1 0h2.95m24.1 0h2.95m18.1 0h2.95m6 0h2.95m-2 0h2.95m3 0h2.95m2 0h2.95m2 0h2.95m2 0h2.95m-2 0h2.95m2 0h2.95m-2 0h2.95m0 0h2.95m-1 0h2.95m2 0h2.95m3 0h2.95m13.1 0h2.95m21.1 0h2.95m99 0h2.95m129.1 0h2.95m103 0h2.95m39 0h2.95M-454 71h2.95m4 0h2.95m111 0h2.95m16.1 0h2.95m-1 0h2.95m41 0h2.95m82 0h2.95m44 0h2.95m34 0h2.95m50 0h2.95m-2 0h2.95m9.1 0h2.95m10.1 0h2.95m2 0h2.95m-2 0h2.95m2 0h2.95m2 0h2.95m2 0h2.95m2 0h2.95m1 0h2.95m3 0h2.95m1 0h2.95m5 0h2.95m7 0h2.95m41 0h2.95m161.1 0h2.95m163.1 0h2.95m35 0h2.95M-407 72h2.95m72 0h2.95m26.1 0h2.95m79 0h2.95m117 0h2.95m48 0h2.95m10.1 0h2.95m4 0h2.95m8.1 0h2.95m4 0h2.95m-2 0h2.95m2 0h2.95m1 0h2.95m-1 0h2.95m6 0h2.95m12.1 0h2.95m18.1 0h2.95m1 0h2.95m37 0h2.95m61 0h2.95m40 0h2.95m104 0h2.95m59 0h2.95m74 0h2.95M-472 73h2.95m109 0h2.95m68 0h2.95m44 0h2.95m17.1 0h2.95m59 0h2.95m36 0h2.95m58 0h2.95m32 0h2.95m4 0h2.95m-1 0h2.95m4 0h2.95m5 0h2.95m3 0h2.95m3 0h2.95m-2 0h2.95m5 0h2.95m7 0h2.95m27.1 0h2.95m22.1 0h2.95m-2 0h2.95m46 0h2.95m55 0h2.95m51 0h2.95m52 0h2.95m68 0h2.95m45 0h2.95M-471 74h2.95m48 0h2.95m75 0h2.95m68 0h2.95m80 0h2.95m58 0h2.95m49 0h2.95m33 0h2.95m9.1 0h2.95m3 0h2.95m2 0h2.95m2 0h2.95m-2 0h2.95m3 0h2.95m1 0h2.95m-1 0h2.95m0 0h2.95m0 0h2.95m2 0h2.95m-1 0h2.95m15.1 0h2.95m25.1 0h2.95m31.1 0h2.95m52 0h2.95m64 0h2.95m25.1 0h2.95m148.1 0h2.95m56 0h2.95M-454 75h2.95m63 0h2.95m61 0h2.95m81 0h2.95m85 0h2.95m76 0h2.95m38 0h2.95m3 0h2.95m2 0h2.95m0 0h2.95m5 0h2.95m3 0h2.95m2 0h2.95m-2 0h2.95m1 0h2.95m-2 0h2.95m2 0h2.95m5 0h2.95m6 0h2.95m25.1 0h2.95m88 0h2.95m43 0h2.95m39 0h2.95m85 0h2.95m81 0h2.95m59 0h2.95M-426 76h2.95m65 0h2.95m58 0h2.95m84 0h2.95m34 0h2.95m77 0h2.95m31.1 0h2.95m23.1 0h2.95m16.1 0h2.95m1 0h2.95m-1 0h2.95m1 0h2.95m1 0h2.95m3 0h2.95m0 0h2.95m3 0h2.95m2 0h2.95m15.1 0h2.95m16.1 0h2.95m4 0h2.95m62 0h2.95m92 0h2.95m101 0h2.95m32 0h2.95m47 0h2.95m47 0h2.95M-484 77h2.95m97 0h2.95m80 0h2.95m78 0h2.95m40 0h2.95m67 0h2.95m18.1 0h2.95m24.1 0h2.95m24.1 0h2.95m10.1 0h2.95m-2 0h2.95m4 0h2.95m1 0h2.95m0 0h2.95m-2 0h2.95m3 0h2.95m4 0h2.95m3 0h2.95m1 0h2.95m-1 0h2.95m4 0h2.95m7 0h2.95m13.1 0h2.95m21.1 0h2.95m51 0h2.95m115 0h2.95m52 0h2.95m87 0h2.95M-439 78h2.95m60 0h2.95m106 0h2.95m89 0h2.95m106 0h2.95m1 0h2.95m33 0h2.95m3 0h2.95m3 0h2.95m-2 0h2.95m2 0h2.95m-1 0h2.95m3 0h2.95m-2 0h2.95m2 0h2.95m0 0h2.95m-2 0h2.95m2 0h2.95m0 0h2.95m-1 0h2.95m3 0h2.95m-2 0h2.95m6 0h2.95m88 0h2.95m100 0h2.95m53 0h2.95m93 0h2.95M-489 79h2.95m31.1 0h2.95m71 0h2.95m64 0h2.95m141.1 0h2.95m67 0h2.95m34 0h2.95m22.1 0h2.95m15.1 0h2.95m6 0h2.95m0 0h2.95m-2 0h2.95m1 0h2.95m-2 0h2.95m2 0h2.95m-2 0h2.95m2 0h2.95m3 0h2.95m-1 0h2.95m8.1 0h2.95m21.1 0h2.95m13.1 0h2.95m23.1 0h2.95m101 0h2.95m47 0h2.95m68 0h2.95m58 0h2.95m36 0h2.95M-478 80h2.95m120 0h2.95m45 0h2.95m55 0h2.95m72 0h2.95m63 0h2.95m55 0h2.95m21.1 0h2.95m6 0h2.95m2 0h2.95m8.1 0h2.95m2 0h2.95m0 0h2.95m-2 0h2.95m3 0h2.95m4 0h2.95m8.1 0h2.95m3 0h2.95m0 0h2.95m20.1 0h2.95m66 0h2.95m14.1 0h2.95m12.1 0h2.95m0 0h2.95m67 0h2.95m44 0h2.95m35 0h2.95m79 0h2.95M-459 81h2.95m20.1 0h2.95m31.1 0h2.95m93 0h2.95m66 0h2.95m46 0h2.95m83 0h2.95m47 0h2.95m8.1 0h2.95m11.1 0h2.95m5 0h2.95m4 0h2.95m2 0h2.95m0 0h2.95m1 0h2.95m-2 0h2.95m3 0h2.95m1 0h2.95m-1 0h2.95m3 0h2.95m2 0h2.95m4 0h2.95m17.1 0h2.95m87 0h2.95m52 0h2.95m2 0h2.95m21.1 0h2.95m27.1 0h2.95m30.1 0h2.95m31.1 0h2.95m9.1 0h2.95m28.1 0h2.95m67 0h2.95M-473 82h2.95m91 0h2.95m87 0h2.95m42 0h2.95m61 0h2.95m75 0h2.95m22.1 0h2.95m25.1 0h2.95m13.1 0h2.95m9.1 0h2.95m5 0h2.95m-2 0h2.95m2 0h2.95m0 0h2.95m-2 0h2.95m4 0h2.95m0 0h2.95m-1 0h2.95m1 0h2.95m-2 0h2.95m5 0h2.95m7 0h2.95m71 0h2.95m108 0h2.95m63 0h2.95m55 0h2.95m93 0h2.95M-473 83h2.95m15.1 0h2.95m34 0h2.95m0 0h2.95m133.1 0h2.95m24.1 0h2.95m30.1 0h2.95m1 0h2.95m88 0h2.95m29.1 0h2.95m18.1 0h2.95m8.1 0h2.95m21.1 0h2.95m13.1 0h2.95m3 0h2.95m4 0h2.95m2 0h2.95m-2 0h2.95m1 0h2.95m0 0h2.95m2 0h2.95m1 0h2.95m0 0h2.95m2 0h2.95m-2 0h2.95m7 0h2.95m6 0h2.95m54 0h2.95m44 0h2.95m48 0h2.95m56 0h2.95m32 0h2.95m34 0h2.95m13.1 0h2.95m4 0h2.95m89 0h2.95m40 0h2.95M-444 84h2.95m66 0h2.95m63 0h2.95m95 0h2.95m56 0h2.95m28.1 0h2.95m5 0h2.95m68 0h2.95m16.1 0h2.95m-2 0h2.95m5 0h2.95m0 0h2.95m5 0h2.95m-2 0h2.95m1 0h2.95m-1 0h2.95m0 0h2.95m-2 0h2.95m1 0h2.95m2 0h2.95m3 0h2.95m17.1 0h2.95m13.1 0h2.95m31.1 0h2.95m50 0h2.95m39 0h2.95m38 0h2.95m37 0h2.95m48 0h2.95m53 0h2.95m65 0h2.95m30.1 0h2.95M-448 85h2.95m61 0h2.95m74 0h2.95m86 0h2.95m56 0h2.95m103 0h2.95m18.1 0h2.95m1 0h2.95m8.1 0h2.95m2 0h2.95m-2 0h2.95m2 0h2.95m0 0h2.95m-2 0h2.95m0 0h2.95m-2 0h2.95m5 0h2.95m0 0h2.95m21.1 0h2.95m1 0h2.95m8.1 0h2.95m11.1 0h2.95m46 0h2.95m25.1 0h2.95m13.1 0h2.95m36 0h2.95m97 0h2.95m53 0h2.95m27.1 0h2.95m24.1 0h2.95M-474 86h2.95m86 0h2.95m56 0h2.95m28.1 0h2.95m28.1 0h2.95m60 0h2.95m61 0h2.95m46 0h2.95m31.1 0h2.95m8.1 0h2.95m12.1 0h2.95m4 0h2.95m1 0h2.95m-2 0h2.95m2 0h2.95m-2 0h2.95m5 0h2.95m1 0h2.95m4 0h2.95m3 0h2.95m13.1 0h2.95m6 0h2.95m66 0h2.95m44 0h2.95m69 0h2.95m-1 0h2.95m50 0h2.95m73 0h2.95m41 0h2.95m16.1 0h2.95m45 0h2.95M-457 87h2.95m103 0h2.95m45 0h2.95m61 0h2.95m21.1 0h2.95m40 0h2.95m59 0h2.95m41 0h2.95m23.1 0h2.95m20.1 0h2.95m8.1 0h2.95m-1 0h2.95m1 0h2.95m0 0h2.95m1 0h2.95m1 0h2.95m-1 0h2.95m4 0h2.95m11.1 0h2.95m21.1 0h2.95m57 0h2.95m34 0h2.95m106 0h2.95m18.1 0h2.95m76 0h2.95m10.1 0h2.95m48 0h2.95m29.1 0h2.95M-467 88h2.95m31.1 0h2.95m41 0h2.95m25.1 0h2.95m46 0h2.95m45 0h2.95m40 0h2.95m43 0h2.95m42 0h2.95m26.1 0h2.95m22.1 0h2.95m23.1 0h2.95m3 0h2.95m21.1 0h2.95m-2 0h2.95m6 0h2.95m-2 0h2.95m2 0h2.95m5 0h2.95m9.1 0h2.95m5 0h2.95m2 0h2.95m-1 0h2.95m5 0h2.95m-2 0h2.95m24.1 0h2.95m45 0h2.95m75 0h2.95m30.1 0h2.95m112 0h2.95m62 0h2.95m42 0h2.95m29.1 0h2.95M-480 89h2.95m24.1 0h2.95m27.1 0h2.95m58 0h2.95m23.1 0h2.95m45 0h2.95m49 0h2.95m69 0h2.95m62 0h2.95m35 0h2.95m8.1 0h2.95m11.1 0h2.95m4 0h2.95m13.1 0h2.95m2 0h2.95m1 0h2.95m2 0h2.95m0 0h2.95m2 0h2.95m6 0h2.95m-1 0h2.95m34 0h2.95m36 0h2.95m29.1 0h2.95m52 0h2.95m15.1 0h2.95m41 0h2.95m44 0h2.95m36 0h2.95m50 0h2.95m59 0h2.95m36 0h2.95M-474 90h2.95m52 0h2.95m44 0h2.95m41 0h2.95m41 0h2.95m23.1 0h2.95m42 0h2.95m24.1 0h2.95m18.1 0h2.95m28.1 0h2.95m70 0h2.95m26.1 0h2.95m11.1 0h2.95m4 0h2.95m3 0h2.95m4 0h2.95m2 0h2.95m6 0h2.95m5 0h2.95m3 0h2.95m12.1 0h2.95m16.1 0h2.95m27.1 0h2.95m39 0h2.95m16.1 0h2.95m19.1 0h2.95m31.1 0h2.95m21.1 0h2.95m-2 0h2.95m82 0h2.95m61 0h2.95m64 0h2.95m8.1 0h2.95m19.1 0h2.95M-414 91h2.95m39 0h2.95m35 0h2.95m51 0h2.95m28.1 0h2.95m21.1 0h2.95m94 0h2.95m12.1 0h2.95m68 0h2.95m11.1 0h2.95m12.1 0h2.95m5 0h2.95m7 0h2.95m1 0h2.95m-2 0h2.95m2 0h2.95m0 0h2.95m12.1 0h2.95m17.1 0h2.95m23.1 0h2.95m72 0h2.95m58 0h2.95m27.1 0h2.95m83 0h2.95m24.1 0h2.95m47 0h2.95m36 0h2.95m34 0h2.95M-483 92h2.95m42 0h2.95m36 0h2.95m17.1 0h2.95m33 0h2.95m53 0h2.95m45 0h2.95m33 0h2.95m72 0h2.95m35 0h2.95m32 0h2.95m19.1 0h2.95m9.1 0h2.95m4 0h2.95m1 0h2.95m0 0h2.95m2 0h2.95m5 0h2.95m6 0h2.95m5 0h2.95m-2 0h2.95m4 0h2.95m11.1 0h2.95m17.1 0h2.95m51 0h2.95m43 0h2.95m23.1 0h2.95m126 0h2.95m17.1 0h2.95m15.1 0h2.95m9.1 0h2.95m28.1 0h2.95m45 0h2.95m33 0h2.95M-472 93h2.95m9.1 0h2.95m18.1 0h2.95m24.1 0h2.95m0 0h2.95m21.1 0h2.95m30.1 0h2.95m55 0h2.95m54 0h2.95m31.1 0h2.95m26.1 0h2.95m49 0h2.95m31.1 0h2.95m34 0h2.95m12.1 0h2.95m2 0h2.95m10.1 0h2.95m2 0h2.95m-2 0h2.95m3 0h2.95m3 0h2.95m-2 0h2.95m2 0h2.95m-2 0h2.95m3 0h2.95m-2 0h2.95m0 0h2.95m-1 0h2.95m5 0h2.95m53 0h2.95m19.1 0h2.95m28.1 0h2.95m82 0h2.95m33 0h2.95m30.1 0h2.95m74 0h2.95m39 0h2.95m60 0h2.95M-435 94h2.95m46 0h2.95m31.1 0h2.95m35 0h2.95m33 0h2.95m31.1 0h2.95m57 0h2.95m12.1 0h2.95m28.1 0h2.95m6 0h2.95m21.1 0h2.95m29.1 0h2.95m27.1 0h2.95m11.1 0h2.95m2 0h2.95m2 0h2.95m5 0h2.95m-2 0h2.95m0 0h2.95m-1 0h2.95m7 0h2.95m4 0h2.95m2 0h2.95m32 0h2.95m20.1 0h2.95m36 0h2.95m13.1 0h2.95m44 0h2.95m26.1 0h2.95m37 0h2.95m50 0h2.95m19.1 0h2.95m86 0h2.95m37 0h2.95m32 0h2.95M-439 95h2.95m54 0h2.95m27.1 0h2.95m31.1 0h2.95m63 0h2.95m70 0h2.95m24.1 0h2.95m24.1 0h2.95m38 0h2.95m22.1 0h2.95m18.1 0h2.95m9.1 0h2.95m6 0h2.95m-1 0h2.95m2 0h2.95m2 0h2.95m2 0h2.95m0 0h2.95m2 0h2.95m-2 0h2.95m12.1 0h2.95m6 0h2.95m13.1 0h2.95m60 0h2.95m29.1 0h2.95m30.1 0h2.95m50 0h2.95m21.1 0h2.95m23.1 0h2.95m46 0h2.95m27.1 0h2.95m-1 0h2.95m53 0h2.95m56 0h2.95M-491 96h2.95m49 0h2.95m53 0h2.95m39 0h2.95m30.1 0h2.95m16.1 0h2.95m32 0h2.95m29.1 0h2.95m24.1 0h2.95m50 0h2.95m44 0h2.95m48 0h2.95m18.1 0h2.95m3 0h2.95m8.1 0h2.95m-2 0h2.95m2 0h2.95m-2 0h2.95m5 0h2.95m-2 0h2.95m9.1 0h2.95m4 0h2.95m11.1 0h2.95m15.1 0h2.95m23.1 0h2.95m88 0h2.95m13.1 0h2.95m46 0h2.95m55 0h2.95m48 0h2.95m1 0h2.95m29.1 0h2.95m49 0h2.95m9.1 0h2.95m38 0h2.95M-477 97h2.95m20.1 0h2.95m44 0h2.95m51 0h2.95m17.1 0h2.95m15.1 0h2.95m46 0h2.95m26.1 0h2.95m49 0h2.95m23.1 0h2.95m47 0h2.95m26.1 0h2.95m4 0h2.95m21.1 0h2.95m6 0h2.95m11.1 0h2.95m10.1 0h2.95m3 0h2.95m6 0h2.95m4 0h2.95m5 0h2.95m3 0h2.95m1 0h2.95m26.1 0h2.95m35 0h2.95m29.1 0h2.95m13.1 0h2.95m69 0h2.95m27.1 0h2.95m19.1 0h2.95m6 0h2.95m47 0h2.95m41 0h2.95m24.1 0h2.95m35 0h2.95M-483 98h2.95m61 0h2.95m43 0h2.95m59 0h2.95m78 0h2.95m23.1 0h2.95m48 0h2.95m26.1 0h2.95m21.1 0h2.95m29.1 0h2.95m24.1 0h2.95m21.1 0h2.95m5 0h2.95m5 0h2.95m4 0h2.95m4 0h2.95m5 0h2.95m2 0h2.95m9.1 0h2.95m11.1 0h2.95m21.1 0h2.95m31.1 0h2.95m105 0h2.95m27.1 0h2.95m41 0h2.95m15.1 0h2.95m30.1 0h2.95m90 0h2.95m54 0h2.95M-451 99h2.95m79 0h2.95m21.1 0h2.95m31.1 0h2.95m15.1 0h2.95m14.1 0h2.95m32 0h2.95m70 0h2.95m37 0h2.95m50 0h2.95m25.1 0h2.95m16.1 0h2.95m8.1 0h2.95m4 0h2.95m-2 0h2.95m3 0h2.95m0 0h2.95m-2 0h2.95m4 0h2.95m2 0h2.95m24.1 0h2.95m32 0h2.95m23.1 0h2.95m25.1 0h2.95m25.1 0h2.95m62 0h2.95m24.1 0h2.95m44 0h2.95m33 0h2.95m46 0h2.95m26.1 0h2.95m82 0h2.95M-416 100h2.95m65 0h2.95m37 0h2.95m33 0h2.95m100 0h2.95m23.1 0h2.95m36 0h2.95m11.1 0h2.95m4 0h2.95m29.1 0h2.95m15.1 0h2.95m10.1 0h2.95m0 0h2.95m-2 0h2.95m2 0h2.95m3 0h2.95m2 0h2.95m-2 0h2.95m2 0h2.95m0 0h2.95m2 0h2.95m-2 0h2.95m17.1 0h2.95m12.1 0h2.95m10.1 0h2.95m17.1 0h2.95m6 0h2.95m33 0h2.95m2 0h2.95m34 0h2.95m88 0h2.95m29.1 0h2.95m29.1 0h2.95m21.1 0h2.95m61 0h2.95m23.1 0h2.95m37 0h2.95M-461 101h2.95m26.1 0h2.95m18.1 0h2.95m27.1 0h2.95m42 0h2.95m36 0h2.95m63 0h2.95m32 0h2.95m76 0h2.95m75 0h2.95m6 0h2.95m-2 0h2.95m3 0h2.95m8.1 0h2.95m4 0h2.95m-2 0h2.95m1 0h2.95m3 0h2.95m2 0h2.95m5 0h2.95m0 0h2.95m18.1 0h2.95m20.1 0h2.95m56 0h2.95m41 0h2.95m55 0h2.95m25.1 0h2.95m5 0h2.95m26.1 0h2.95m30.1 0h2.95m32 0h2.95m51 0h2.95m22.1 0h2.95m51 0h2.95M-411 102h2.95m24.1 0h2.95m58 0h2.95m52 0h2.95m36 0h2.95m35 0h2.95m48 0h2.95m23.1 0h2.95m39 0h2.95m1 0h2.95m33 0h2.95m5 0h2.95m1 0h2.95m3 0h2.95m0 0h2.95m-1 0h2.95m3 0h2.95m-2 0h2.95m5 0h2.95m3 0h2.95m7 0h2.95m2 0h2.95m4 0h2.95m-1 0h2.95m8.1 0h2.95m58 0h2.95m42 0h2.95m26.1 0h2.95m44 0h2.95m57 0h2.95m21.1 0h2.95m40 0h2.95m39 0h2.95m23.1 0h2.95m40 0h2.95M-487 103h2.95m10.1 0h2.95m58 0h2.95m39 0h2.95m27.1 0h2.95m33 0h2.95m60 0h2.95m81 0h2.95m25.1 0h2.95m29.1 0h2.95m31.1 0h2.95m15.1 0h2.95m29.1 0h2.95m4 0h2.95m5 0h2.95m5 0h2.95m4 0h2.95m-2 0h2.95m1 0h2.95m-1 0h2.95m7 0h2.95m26.1 0h2.95m39 0h2.95m43 0h2.95m36 0h2.95m20.1 0h2.95m16.1 0h2.95m18.1 0h2.95m32 0h2.95m20.1 0h2.95m27.1 0h2.95m25.1 0h2.95m57 0h2.95M-476 104h2.95m70 0h2.95m61 0h2.95m47 0h2.95m29.1 0h2.95m70 0h2.95m15.1 0h2.95m55 0h2.95m23.1 0h2.95m16.1 0h2.95m19.1 0h2.95m6 0h2.95m10.1 0h2.95m-1 0h2.95m8.1 0h2.95m5 0h2.95m4 0h2.95m-1 0h2.95m0 0h2.95m1 0h2.95m12.1 0h2.95m12.1 0h2.95m11.1 0h2.95m45 0h2.95m44 0h2.95m40 0h2.95m78 0h2.95m25.1 0h2.95m53 0h2.95m47 0h2.95m22.1 0h2.95m17.1 0h2.95M-470 105h2.95m54 0h2.95m11.1 0h2.95m11.1 0h2.95m41 0h2.95m19.1 0h2.95m32 0h2.95m73 0h2.95m57 0h2.95m29.1 0h2.95m20.1 0h2.95m13.1 0h2.95m35 0h2.95m11.1 0h2.95m5 0h2.95m3 0h2.95m4 0h2.95m6 0h2.95m5 0h2.95m18.1 0h2.95m7 0h2.95m25.1 0h2.95m25.1 0h2.95m22.1 0h2.95m69 0h2.95m32 0h2.95m16.1 0h2.95m51 0h2.95m30.1 0h2.95m53 0h2.95m18.1 0h2.95m11.1 0h2.95m10.1 0h2.95m47 0h2.95M-392 106h2.95m44 0h2.95m57 0h2.95m34 0h2.95m89 0h2.95m55 0h2.95m15.1 0h2.95m12.1 0h2.95m28.1 0h2.95m23.1 0h2.95m3 0h2.95m0 0h2.95m1 0h2.95m4 0h2.95m-2 0h2.95m4 0h2.95m33 0h2.95m27.1 0h2.95m22.1 0h2.95m35 0h2.95m16.1 0h2.95m23.1 0h2.95m16.1 0h2.95m12.1 0h2.95m45 0h2.95m52 0h2.95m46 0h2.95m11.1 0h2.95m16.1 0h2.95m31.1 0h2.95m38 0h2.95M-433 107h2.95m20.1 0h2.95m2 0h2.95m22.1 0h2.95m59 0h2.95m39 0h2.95m41 0h2.95m33 0h2.95m49 0h2.95m26.1 0h2.95m30.1 0h2.95m29.1 0h2.95m7 0h2.95m7 0h2.95m0 0h2.95m12.1 0h2.95m7 0h2.95m5 0h2.95m2 0h2.95m-2 0h2.95m14.1 0h2.95m32 0h2.95m10.1 0h2.95m58 0h2.95m29.1 0h2.95m28.1 0h2.95m29.1 0h2.95m28.1 0h2.95m32 0h2.95m20.1 0h2.95m16.1 0h2.95m26.1 0h2.95m38 0h2.95m17.1 0h2.95m43 0h2.95M-482 108h2.95m23.1 0h2.95m72 0h2.95m26.1 0h2.95m28.1 0h2.95m11.1 0h2.95m2 0h2.95m4 0h2.95m9.1 0h2.95m59 0h2.95m25.1 0h2.95m60 0h2.95m21.1 0h2.95m26.1 0h2.95m12.1 0h2.95m14.1 0h2.95m16.1 0h2.95m10.1 0h2.95m2 0h2.95m4 0h2.95m1 0h2.95m0 0h2.95m1 0h2.95m4 0h2.95m10.1 0h2.95m38 0h2.95m23.1 0h2.95m27.1 0h2.95m94 0h2.95m74 0h2.95m42 0h2.95m21.1 0h2.95m49 0h2.95m21.1 0h2.95M-478 109h2.95m8.1 0h2.95m15.1 0h2.95m62 0h2.95m36 0h2.95m38 0h2.95m34 0h2.95m29.1 0h2.95m32 0h2.95m33 0h2.95m17.1 0h2.95m30.1 0h2.95m14.1 0h2.95m35 0h2.95m17.1 0h2.95m8.1 0h2.95m10.1 0h2.95m2 0h2.95m4 0h2.95m-2 0h2.95m8.1 0h2.95m1 0h2.95m7 0h2.95m1 0h2.95m32 0h2.95m27.1 0h2.95m9.1 0h2.95m10.1 0h2.95m54 0h2.95m66 0h2.95m56 0h2.95m72 0h2.95m58 0h2.95M-426 110h2.95m38 0h2.95m21.1 0h2.95m46 0h2.95m33 0h2.95m27.1 0h2.95m32 0h2.95m32 0h2.95m21.1 0h2.95m22.1 0h2.95m55 0h2.95m42 0h2.95m14.1 0h2.95m-2 0h2.95m5 0h2.95m6 0h2.95m0 0h2.95m34 0h2.95m32 0h2.95m23.1 0h2.95m20.1 0h2.95m70 0h2.95m68 0h2.95m40 0h2.95m72 0h2.95m28.1 0h2.95m32 0h2.95m29.1 0h2.95M-441 111h2.95m30.1 0h2.95m19.1 0h2.95m70 0h2.95m33 0h2.95m24.1 0h2.95m8.1 0h2.95m9.1 0h2.95m18.1 0h2.95m26.1 0h2.95m19.1 0h2.95m9.1 0h2.95m30.1 0h2.95m13.1 0h2.95m21.1 0h2.95m17.1 0h2.95m26.1 0h2.95m4 0h2.95m-1 0h2.95m6 0h2.95m2 0h2.95m5 0h2.95m7 0h2.95m48 0h2.95m42 0h2.95m55 0h2.95m29.1 0h2.95m22.1 0h2.95m43 0h2.95m18.1 0h2.95m-2 0h2.95m12.1 0h2.95m54 0h2.95m41 0h2.95m38 0h2.95M-493 112h2.95m77 0h2.95m32 0h2.95m45 0h2.95m60 0h2.95m54 0h2.95m44 0h2.95m25.1 0h2.95m79 0h2.95m17.1 0h2.95m16.1 0h2.95m2 0h2.95m6 0h2.95m5 0h2.95m2 0h2.95m15.1 0h2.95m8.1 0h2.95m26.1 0h2.95m33 0h2.95m51 0h2.95m14.1 0h2.95m30.1 0h2.95m89 0h2.95m31.1 0h2.95m36 0h2.95m32 0h2.95m77 0h2.95M-447 113h2.95m33 0h2.95m24.1 0h2.95m16.1 0h2.95m35 0h2.95m24.1 0h2.95m30.1 0h2.95m29.1 0h2.95m39 0h2.95m16.1 0h2.95m18.1 0h2.95m43 0h2.95m50 0h2.95m14.1 0h2.95m10.1 0h2.95m-1 0h2.95m7 0h2.95m-2 0h2.95m4 0h2.95m1 0h2.95m9.1 0h2.95m17.1 0h2.95m29.1 0h2.95m35 0h2.95m16.1 0h2.95m36 0h2.95m17.1 0h2.95m18.1 0h2.95m10.1 0h2.95m12.1 0h2.95m27.1 0h2.95m31.1 0h2.95m29.1 0h2.95m18.1 0h2.95m52 0h2.95m48 0h2.95M-487 114h2.95m49 0h2.95m44 0h2.95m37 0h2.95m22.1 0h2.95m46 0h2.95m45 0h2.95m82 0h2.95m49 0h2.95m65 0h2.95m12.1 0h2.95m2 0h2.95m9.1 0h2.95m4 0h2.95m-2 0h2.95m10.1 0h2.95m23.1 0h2.95m78 0h2.95m33 0h2.95m70 0h2.95m44 0h2.95m39 0h2.95m12.1 0h2.95m5 0h2.95m32 0h2.95m18.1 0h2.95m61 0h2.95M-487 115h2.95m18.1 0h2.95m97 0h2.95m24.1 0h2.95m45 0h2.95m25.1 0h2.95m27.1 0h2.95m9.1 0h2.95m21.1 0h2.95m47 0h2.95m37 0h2.95m6 0h2.95m46 0h2.95m12.1 0h2.95m13.1 0h2.95m6 0h2.95m3 0h2.95m-2 0h2.95m4 0h2.95m7 0h2.95m31.1 0h2.95m62 0h2.95m31.1 0h2.95m40 0h2.95m42 0h2.95m36 0h2.95m34 0h2.95m41 0h2.95m42 0h2.95m27.1 0h2.95m45 0h2.95M-450 116h2.95m30.1 0h2.95m47 0h2.95m20.1 0h2.95m15.1 0h2.95m40 0h2.95m14.1 0h2.95m26.1 0h2.95m41 0h2.95m40 0h2.95m19.1 0h2.95m33 0h2.95m44 0h2.95m11.1 0h2.95m12.1 0h2.95m5 0h2.95m13.1 0h2.95m8.1 0h2.95m13.1 0h2.95m17.1 0h2.95m13.1 0h2.95m9.1 0h2.95m54 0h2.95m30.1 0h2.95m23.1 0h2.95m20.1 0h2.95m23.1 0h2.95m7 0h2.95m18.1 0h2.95m58 0h2.95m26.1 0h2.95m27.1 0h2.95m20.1 0h2.95m21.1 0h2.95m27.1 0h2.95M-458 117h2.95m63 0h2.95m21.1 0h2.95m48 0h2.95m79 0h2.95m109 0h2.95m37 0h2.95m42 0h2.95m10.1 0h2.95m6 0h2.95m9.1 0h2.95m6 0h2.95m13.1 0h2.95m28.1 0h2.95m36 0h2.95m32 0h2.95m87 0h2.95m55 0h2.95m15.1 0h2.95m26.1 0h2.95m21.1 0h2.95m68 0h2.95m21.1 0h2.95M-482 118h2.95m62 0h2.95m54 0h2.95m39 0h2.95m47 0h2.95m22.1 0h2.95m43 0h2.95m12.1 0h2.95m25.1 0h2.95m20.1 0h2.95m28.1 0h2.95m19.1 0h2.95m18.1 0h2.95m12.1 0h2.95m3 0h2.95m10.1 0h2.95m8.1 0h2.95m5 0h2.95m6 0h2.95m4 0h2.95m4 0h2.95m13.1 0h2.95m30.1 0h2.95m29.1 0h2.95m8.1 0h2.95m22.1 0h2.95m27.1 0h2.95m56 0h2.95m16.1 0h2.95m30.1 0h2.95m37 0h2.95m25.1 0h2.95m26.1 0h2.95m23.1 0h2.95m16.1 0h2.95m17.1 0h2.95M-479 119h2.95m11.1 0h2.95m35 0h2.95m37 0h2.95m30.1 0h2.95m21.1 0h2.95m24.1 0h2.95m21.1 0h2.95m13.1 0h2.95m32 0h2.95m55 0h2.95m36 0h2.95m66 0h2.95m3 0h2.95m13.1 0h2.95m15.1 0h2.95m9.1 0h2.95m-2 0h2.95m4 0h2.95m3 0h2.95m7 0h2.95m16.1 0h2.95m24.1 0h2.95m15.1 0h2.95m35 0h2.95m46 0h2.95m21.1 0h2.95m21.1 0h2.95m16.1 0h2.95m44 0h2.95m21.1 0h2.95m21.1 0h2.95m46 0h2.95m44 0h2.95m35 0h2.95m28.1 0h2.95M-446 120h2.95m24.1 0h2.95m34 0h2.95m22.1 0h2.95m24.1 0h2.95m-2 0h2.95m32 0h2.95m27.1 0h2.95m21.1 0h2.95m50 0h2.95m38 0h2.95m64 0h2.95m24.1 0h2.95m14.1 0h2.95m18.1 0h2.95m6 0h2.95m5 0h2.95m7 0h2.95m4 0h2.95m11.1 0h2.95m20.1 0h2.95m65 0h2.95m35 0h2.95m107 0h2.95m51 0h2.95m61 0h2.95m18.1 0h2.95m31.1 0h2.95M-438 121h2.95m30.1 0h2.95m9.1 0h2.95m8.1 0h2.95m6 0h2.95m49 0h2.95m45 0h2.95m100 0h2.95m37 0h2.95m44 0h2.95m18.1 0h2.95m33 0h2.95m-1 0h2.95m11.1 0h2.95m6 0h2.95m2 0h2.95m12.1 0h2.95m17.1 0h2.95m-1 0h2.95m40 0h2.95m24.1 0h2.95m31.1 0h2.95m17.1 0h2.95m27.1 0h2.95m20.1 0h2.95m23.1 0h2.95m62 0h2.95m17.1 0h2.95m31.1 0h2.95m44 0h2.95m40 0h2.95m11.1 0h2.95M-472 122h2.95m29.1 0h2.95m22.1 0h2.95m18.1 0h2.95m40 0h2.95m25.1 0h2.95m25.1 0h2.95m6 0h2.95m46 0h2.95m56 0h2.95m38 0h2.95m35 0h2.95m46 0h2.95m11.1 0h2.95m20.1 0h2.95m6 0h2.95m16.1 0h2.95m4 0h2.95m19.1 0h2.95m25.1 0h2.95m14.1 0h2.95m10.1 0h2.95m45 0h2.95m76 0h2.95m19.1 0h2.95m96 0h2.95m17.1 0h2.95m11.1 0h2.95m29.1 0h2.95m62 0h2.95M-456 123h2.95m43 0h2.95m41 0h2.95m15.1 0h2.95m41 0h2.95m54 0h2.95m12.1 0h2.95m48 0h2.95m41 0h2.95m53 0h2.95m19.1 0h2.95m26.1 0h2.95m9.1 0h2.95m13.1 0h2.95m14.1 0h2.95m34 0h2.95m25.1 0h2.95m12.1 0h2.95m39 0h2.95m43 0h2.95m29.1 0h2.95m56 0h2.95m43 0h2.95m26.1 0h2.95m51 0h2.95m13.1 0h2.95m46 0h2.95M-491 124h2.95m22.1 0h2.95m14.1 0h2.95m27.1 0h2.95m32 0h2.95m57 0h2.95m75 0h2.95m44 0h2.95m52 0h2.95m39 0h2.95m42 0h2.95m10.1 0h2.95m13.1 0h2.95m15.1 0h2.95m7 0h2.95m8.1 0h2.95m14.1 0h2.95m37 0h2.95m9.1 0h2.95m42 0h2.95m11.1 0h2.95m5 0h2.95m11.1 0h2.95m11.1 0h2.95m-2 0h2.95m50 0h2.95m21.1 0h2.95m33 0h2.95m25.1 0h2.95m24.1 0h2.95m57 0h2.95m31.1 0h2.95m29.1 0h2.95M-461 125h2.95m27.1 0h2.95m43 0h2.95m47 0h2.95m40 0h2.95m56 0h2.95m44 0h2.95m40 0h2.95m61 0h2.95m5 0h2.95m50 0h2.95m10.1 0h2.95m13.1 0h2.95m1 0h2.95m1 0h2.95m29.1 0h2.95m36 0h2.95m29.1 0h2.95m28.1 0h2.95m38 0h2.95m31.1 0h2.95m23.1 0h2.95m27.1 0h2.95m18.1 0h2.95m75 0h2.95m51 0h2.95m34 0h2.95M-472 126h2.95m19.1 0h2.95m31.1 0h2.95m40 0h2.95m28.1 0h2.95m27.1 0h2.95m42 0h2.95m25.1 0h2.95m34 0h2.95m43 0h2.95m17.1 0h2.95m17.1 0h2.95m34 0h2.95m28.1 0h2.95m10.1 0h2.95m12.1 0h2.95m7 0h2.95m5 0h2.95m-1 0h2.95m6 0h2.95m2 0h2.95m21.1 0h2.95m73 0h2.95m65 0h2.95m45 0h2.95m15.1 0h2.95m43 0h2.95m81 0h2.95m55 0h2.95m17.1 0h2.95M-475 127h2.95m20.1 0h2.95m50 0h2.95m35 0h2.95m70 0h2.95m27.1 0h2.95m32 0h2.95m29.1 0h2.95m-1 0h2.95m38 0h2.95m10.1 0h2.95m42 0h2.95m23.1 0h2.95m33 0h2.95m16.1 0h2.95m3 0h2.95m-1 0h2.95m5 0h2.95m8.1 0h2.95m-2 0h2.95m11.1 0h2.95m6 0h2.95m20.1 0h2.95m47 0h2.95m78 0h2.95m68 0h2.95m76 0h2.95m32 0h2.95m44 0h2.95m11.1 0h2.95m41 0h2.95M-467 128h2.95m38 0h2.95m32 0h2.95m42 0h2.95m27.1 0h2.95m55 0h2.95m35 0h2.95m31.1 0h2.95m42 0h2.95m26.1 0h2.95m25.1 0h2.95m39 0h2.95m23.1 0h2.95m3 0h2.95m-1 0h2.95m4 0h2.95m6 0h2.95m11.1 0h2.95m68 0h2.95m44 0h2.95m12.1 0h2.95m50 0h2.95m24.1 0h2.95m44 0h2.95m19.1 0h2.95m39 0h2.95m52 0h2.95m22.1 0h2.95m51 0h2.95M-477 129h2.95m21.1 0h2.95m26.1 0h2.95m38 0h2.95m20.1 0h2.95m45 0h2.95m55 0h2.95m48 0h2.95m29.1 0h2.95m44 0h2.95m17.1 0h2.95m14.1 0h2.95m56 0h2.95m17.1 0h2.95m6 0h2.95m26.1 0h2.95m6 0h2.95m73 0h2.95m62 0h2.95m15.1 0h2.95m31.1 0h2.95m20.1 0h2.95m46 0h2.95m21.1 0h2.95m37 0h2.95m35 0h2.95m45 0h2.95m25.1 0h2.95m11.1 0h2.95M-433 130h2.95m15.1 0h2.95m19.1 0h2.95m17.1 0h2.95m38 0h2.95m48 0h2.95m56 0h2.95m44 0h2.95m40 0h2.95m29.1 0h2.95m69 0h2.95m15.1 0h2.95m16.1 0h2.95m9.1 0h2.95m28.1 0h2.95m44 0h2.95m14.1 0h2.95m36 0h2.95m53 0h2.95m28.1 0h2.95m48 0h2.95m75 0h2.95m52 0h2.95m44 0h2.95M-448 131h2.95m86 0h2.95m31.1 0h2.95m79 0h2.95m30.1 0h2.95m52 0h2.95m9.1 0h2.95m58 0h2.95m64 0h2.95m5 0h2.95m21.1 0h2.95m1 0h2.95m10.1 0h2.95m50 0h2.95m15.1 0h2.95m34 0h2.95m1 0h2.95m12.1 0h2.95m20.1 0h2.95m41 0h2.95m42 0h2.95m23.1 0h2.95m6 0h2.95m63 0h2.95m34 0h2.95m26.1 0h2.95M-472 132h2.95m28.1 0h2.95m40 0h2.95m38 0h2.95m50 0h2.95m81 0h2.95m61 0h2.95m11.1 0h2.95m0 0h2.95m46 0h2.95m49 0h2.95m9.1 0h2.95m5 0h2.95m23.1 0h2.95m13.1 0h2.95m72 0h2.95m49 0h2.95m53 0h2.95m60 0h2.95m43 0h2.95m30.1 0h2.95m45 0h2.95m30.1 0h2.95m44 0h2.95m9.1 0h2.95M-464 133h2.95m15.1 0h2.95m15.1 0h2.95m62 0h2.95m46 0h2.95m53 0h2.95m71 0h2.95m33 0h2.95m42 0h2.95m23.1 0h2.95m28.1 0h2.95m19.1 0h2.95m22.1 0h2.95m18.1 0h2.95m3 0h2.95m57 0h2.95m44 0h2.95m41 0h2.95m38 0h2.95m70 0h2.95m163.1 0h2.95M-468 134h2.95m20.1 0h2.95m10.1 0h2.95m73 0h2.95m84 0h2.95m0 0h2.95m27.1 0h2.95m74 0h2.95m66 0h2.95m49 0h2.95m18.1 0h2.95m6 0h2.95m-2 0h2.95m16.1 0h2.95m10.1 0h2.95m37 0h2.95m24.1 0h2.95m65 0h2.95m18.1 0h2.95m32 0h2.95m87 0h2.95m61 0h2.95m41 0h2.95m37 0h2.95m33 0h2.95M-476 135h2.95m49 0h2.95m20.1 0h2.95m34 0h2.95m53 0h2.95m31.1 0h2.95m57 0h2.95m30.1 0h2.95m14.1 0h2.95m45 0h2.95m51 0h2.95m38 0h2.95m20.1 0h2.95m32 0h2.95m28.1 0h2.95m81 0h2.95m21.1 0h2.95m48 0h2.95m38 0h2.95m20.1 0h2.95m57 0h2.95m31.1 0h2.95m66 0h2.95M-482 136h2.95m55 0h2.95m36 0h2.95m51 0h2.95m35 0h2.95m35 0h2.95m39 0h2.95m25.1 0h2.95m28.1 0h2.95m24.1 0h2.95m15.1 0h2.95m26.1 0h2.95m65 0h2.95m8.1 0h2.95m4 0h2.95m9.1 0h2.95m4 0h2.95m20.1 0h2.95m34 0h2.95m32 0h2.95m42 0h2.95m42 0h2.95m34 0h2.95m51 0h2.95m20.1 0h2.95m3 0h2.95m59 0h2.95m11.1 0h2.95m26.1 0h2.95m14.1 0h2.95m40 0h2.95M-423 137h2.95m107 0h2.95m110 0h2.95m72 0h2.95m38 0h2.95m41 0h2.95m28.1 0h2.95m1 0h2.95m31.1 0h2.95m23.1 0h2.95m14.1 0h2.95m7 0h2.95m51 0h2.95m97 0h2.95m57 0h2.95m49 0h2.95m32 0h2.95m58 0h2.95m47 0h2.95M-453 138h2.95m17.1 0h2.95m120 0h2.95m49 0h2.95m23.1 0h2.95m20.1 0h2.95m15.1 0h2.95m94 0h2.95m17.1 0h2.95m57 0h2.95m10.1 0h2.95m10.1 0h2.95m11.1 0h2.95m33 0h2.95m19.1 0h2.95m38 0h2.95m107 0h2.95m33 0h2.95m29.1 0h2.95m41 0h2.95m57 0h2.95m27.1 0h2.95m50 0h2.95M-436 139h2.95m95 0h2.95m73 0h2.95m25.1 0h2.95m58 0h2.95m108 0h2.95m17.1 0h2.95m17.1 0h2.95m16.1 0h2.95m5 0h2.95m27.1 0h2.95m38 0h2.95m63 0h2.95m77 0h2.95m44 0h2.95m63 0h2.95m46 0h2.95m44 0h2.95m57 0h2.95M-431 140h2.95m34 0h2.95m37 0h2.95m48 0h2.95m62 0h2.95m63 0h2.95m21.1 0h2.95m32 0h2.95m38 0h2.95m13.1 0h2.95m24.1 0h2.95m18.1 0h2.95m11.1 0h2.95m11.1 0h2.95m9.1 0h2.95m38 0h2.95m26.1 0h2.95m98 0h2.95m20.1 0h2.95m45 0h2.95m25.1 0h2.95m47 0h2.95m41 0h2.95m45 0h2.95m48 0h2.95M-392 141h2.95m49 0h2.95m39 0h2.95m94 0h2.95m99 0h2.95m15.1 0h2.95m55 0h2.95m14.1 0h2.95m9.1 0h2.95m18.1 0h2.95m120 0h2.95m84 0h2.95m37 0h2.95m50 0h2.95m57 0h2.95m1 0h2.95M-491 142h2.95m99 0h2.95m34 0h2.95m39 0h2.95m97 0h2.95m97 0h2.95m46 0h2.95m42 0h2.95m18.1 0h2.95m94 0h2.95m21.1 0h2.95m137.1 0h2.95m76 0h2.95m21.1 0h2.95m76 0h2.95m35 0h2.95M-402 143h2.95m22.1 0h2.95m4 0h2.95m13.1 0h2.95m39 0h2.95m80 0h2.95m48 0h2.95m53 0h2.95m54 0h2.95m27.1 0h2.95m35 0h2.95m30.1 0h2.95m54 0h2.95m85 0h2.95m89 0h2.95m46 0h2.95m51 0h2.95m42 0h2.95M-456 144h2.95m83 0h2.95m76 0h2.95m98 0h2.95m62 0h2.95m50 0h2.95m38 0h2.95m28.1 0h2.95m25.1 0h2.95m25.1 0h2.95m24.1 0h2.95m84 0h2.95m12.1 0h2.95m82 0h2.95m68 0h2.95m27.1 0h2.95m24.1 0h2.95m28.1 0h2.95m17.1 0h2.95m22.1 0h2.95m15.1 0h2.95M-418 145h2.95m64 0h2.95m76 0h2.95m87 0h2.95m96 0h2.95m41 0h2.95m23.1 0h2.95m19.1 0h2.95m17.1 0h2.95m24.1 0h2.95m85 0h2.95m45 0h2.95m89 0h2.95m83 0h2.95m58 0h2.95m41 0h2.95M-413 146h2.95m35 0h2.95m63 0h2.95m72 0h2.95m86 0h2.95m90 0h2.95m52 0h2.95m27.1 0h2.95m105 0h2.95m46 0h2.95m59 0h2.95m8.1 0h2.95m16.1 0h2.95m27.1 0h2.95m60 0h2.95m73 0h2.95M-486 147h2.95m77 0h2.95m43 0h2.95m39 0h2.95m63 0h2.95m54 0h2.95m64 0h2.95m87 0h2.95m23.1 0h2.95m7 0h2.95m1 0h2.95m35 0h2.95m31.1 0h2.95m55 0h2.95m89 0h2.95m39 0h2.95m184.1 0h2.95M-470 148h2.95m99 0h2.95m60 0h2.95m123 0h2.95m49 0h2.95m90 0h2.95m24.1 0h2.95m14.1 0h2.95m23.1 0h2.95m128.1 0h2.95m58 0h2.95m102 0h2.95m121 0h2.95M-428 149h2.95m7 0h2.95m6 0h2.95m83 0h2.95m58 0h2.95m158.1 0h2.95m42 0h2.95m42 0h2.95m116 0h2.95m48 0h2.95m63 0h2.95m24.1 0h2.95m117 0h2.95m104 0h2.95M-435 150h2.95m46 0h2.95m54 0h2.95m69 0h2.95m137.1 0h2.95m28.1 0h2.95m58 0h2.95m11.1 0h2.95m15.1 0h2.95m13.1 0h2.95m58 0h2.95m92 0h2.95m61 0h2.95m80 0h2.95m63 0h2.95M-481 151h2.95m71 0h2.95m70 0h2.95m59 0h2.95m67 0h2.95m67 0h2.95m71 0h2.95m43 0h2.95m23.1 0h2.95m75 0h2.95m73 0h2.95m29.1 0h2.95m77 0h2.95m133.1 0h2.95m46 0h2.95M-428 152h2.95m40 0h2.95m178.1 0h2.95m116 0h2.95m63 0h2.95m38 0h2.95m35 0h2.95m86 0h2.95m42 0h2.95m16.1 0h2.95m49 0h2.95m95 0h2.95m36 0h2.95m59 0h2.95M-483 153h2.95m45 0h2.95m150.1 0h2.95m108 0h2.95m90 0h2.95m63 0h2.95m71 0h2.95m80 0h2.95m59 0h2.95m102 0h2.95m14.1 0h2.95m38 0h2.95m82 0h2.95M-403 154h2.95m141.1 0h2.95m40 0h2.95m98 0h2.95m94 0h2.95m42 0h2.95m73 0h2.95m59 0h2.95m85 0h2.95m87 0h2.95M-491 155h2.95m94 0h2.95m70 0h2.95m58 0h2.95m81 0h2.95m57 0h2.95m73 0h2.95m42 0h2.95m14.1 0h2.95m8.1 0h2.95m144.1 0h2.95m60 0h2.95m34 0h2.95m84 0h2.95M-486 156h2.95m76 0h2.95m50 0h2.95m65 0h2.95m113 0h2.95m25.1 0h2.95m49 0h2.95m46 0h2.95m50 0h2.95m28.1 0h2.95m89 0h2.95m70 0h2.95m54 0h2.95m86 0h2.95m87 0h2.95M-401 157h2.95m147.1 0h2.95m166.1 0h2.95m95 0h2.95m50 0h2.95m96 0h2.95m128.1 0h2.95m18.1 0h2.95m114 0h2.95M-448 158h2.95m87 0h2.95m220.1 0h2.95m106 0h2.95m6 0h2.95m59 0h2.95m114 0h2.95m178.1 0h2.95M-465 159h2.95m166.1 0h2.95m53 0h2.95m119 0h2.95m132.1 0h2.95m123 0h2.95m294.1 0h2.95M-321 160h2.95m79 0h2.95m52 0h2.95m155.1 0h2.95m42 0h2.95m112 0h2.95m105 0h2.95m77 0h2.95m98 0h2.95M-464 161h2.95m55 0h2.95m86 0h2.95m111 0h2.95m98 0h2.95m54 0h2.95m30.1 0h2.95m110 0h2.95m63 0h2.95m222.1 0h2.95M-435 162h2.95m197.1 0h2.95m102 0h2.95m82 0h2.95m176.1 0h2.95m102 0h2.95m182.1 0h2.95M-471 163h2.95m60 0h2.95m282.1 0h2.95m169.1 0h2.95m123 0h2.95m69 0h2.95m170.1 0h2.95M-385 164h2.95m42 0h2.95m41 0h2.95m249.1 0h2.95m61 0h2.95m432.1 0h2.95M-356 165h2.95m76 0h2.95m78 0h2.95m170.1 0h2.95m46 0h2.95m239.1 0h2.95m169.1 0h2.95M-392 166h2.95m44 0h2.95m113 0h2.95m210.1 0h2.95m76 0h2.95m114 0h2.95m155.1 0h2.95M-460 167h2.95m400.1 0h2.95m420.1 0h2.95M-466 168h2.95m409.1 0h2.95m58 0h2.95m83 0h2.95m260.1 0h2.95M-440 169h2.95m249.1 0h2.95m179.1 0h2.95m180.1 0h2.95m266.1 0h2.95M-354 170h2.95m420.1 0h2.95m325.1 0h2.95M-473 171h2.95m367.1 0h2.95m112 0h2.95m455.1 0h2.95M-264 172h2.95m305.1 0h2.95m253.1 0h2.95M-459 173h2.95m324.1 0h2.95m264.1 0h2.95m79 0h2.95m252.1 0h2.95M-311 174h2.95m487.1 0h2.95m277.1 0h2.95M-314 175h2.95m222.1 0h2.95m95 0h2.95m179.1 0h2.95m249.1 0h2.95M-414 176h2.95m412.1 0h2.95m137.1 0h2.95M-305 177h2.95m433.1 0h2.95m102 0h2.95M-491 178h2.95m607 0h2.95m288.1 0h2.95M-130 179h2.95M-477 180h2.95m446.1 0h2.95M-251 181h2.95m268.1 0h2.95M-447 182h2.95m611 0h2.95M294 183h2.95M440 184h2.95M-99 186h2.95m282.1 0h2.95m129.1 0h2.95M-110 187h2.95m423.1 0h2.95M-310 188h2.95M226 189h2.95M-200 191h2.95M-16 192h2.95M291 193h2.95M263 194h2.95M253 195h2.95M-404 197h2.95M467 198h2.95M281 205h2.95"/>
<path d="M-66 0h2.95m48 0h2.95m2 0h2.95m-1 0h2.95m5 0h2.95m-2 0h2.95m4 0h2.95m-2 0h2.95m7 0h2.95m33 0h2.95M-121 1h2.95m99 0h2.95m3 0h2.95m-2 0h2.95m2 0h2.95m2 0h2.95m4 0h2.95m7 0h2.95m21.1 0h2.95m69 0h2.95M-345 2h2.95m304.1 0h2.95m17.1 0h2.95m-1 0h2.95m7 0h2.95m3 0h2.95m5 0h2.95m-1 0h2.95m5 0h2.95m5 0h2.95m174.1 0h2.95M-73 3h2.95m46 0h2.95m2 0h2.95m9.1 0h2.95m-2 0h2.95m6 0h2.95m2 0h2.95m-1 0h2.95m5 0h2.95m110 0h2.95M-99 4h2.95m67 0h2.95m11.1 0h2.95m3 0h2.95m6 0h2.95m2 0h2.95m5 0h2.95m7 0h2.95m15.1 0h2.95m117 0h2.95M-62 5h2.95m38 0h2.95m1 0h2.95m4 0h2.95m4 0h2.95m2 0h2.95m3 0h2.95m13.1 0h2.95m106 0h2.95m237.1 0h2.95M-57 6h2.95m21.1 0h2.95m13.1 0h2.95m10.1 0h2.95m8.1 0h2.95m4 0h2.95m8.1 0h2.95m28.1 0h2.95M-484 7h2.95m426.1 0h2.95m21.1 0h2.95m16.1 0h2.95m10.1 0h2.95m5 0h2.95m2 0h2.95m16.1 0h2.95m284.1 0h2.95M-63 8h2.95m24.1 0h2.95m22.1 0h2.95m0 0h2.95m-2 0h2.95m5 0h2.95m4 0h2.95m-2 0h2.95m2 0h2.95m1 0h2.95m14.1 0h2.95m56 0h2.95M-24 9h2.95m16.1 0h2.95m2 0h2.95m4 0h2.95m2 0h2.95m3 0h2.95m15.1 0h2.95m24.1 0h2.95m429.1 0h2.95M-31 10h2.95m10.1 0h2.95m3 0h2.95m-1 0h2.95m6 0h2.95m-1 0h2.95m1 0h2.95m2 0h2.95m0 0h2.95m10.1 0h2.95m5 0h2.95m339.1 0h2.95M-76 11h2.95m52 0h2.95m5 0h2.95m4 0h2.95m1 0h2.95m-2 0h2.95m4 0h2.95m-1 0h2.95m11.1 0h2.95m21.1 0h2.95m78 0h2.95M-352 12h2.95m279.1 0h2.95m25.1 0h2.95m21.1 0h2.95m4 0h2.95m5 0h2.95m3 0h2.95m2 0h2.95m3 0h2.95m1 0h2.95m-1 0h2.95m6 0h2.95m23.1 0h2.95M-431 13h2.95m310.1 0h2.95m93 0h2.95m7 0h2.95m6 0h2.95m-1 0h2.95m7 0h2.95m1 0h2.95m14.1 0h2.95m28.1 0h2.95m159.1 0h2.95M-482 14h2.95m330.1 0h2.95m95 0h2.95m21.1 0h2.95m0 0h2.95m7 0h2.95m3 0h2.95m1 0h2.95m-2 0h2.95m3 0h2.95m0 0h2.95m1 0h2.95m15.1 0h2.95m15.1 0h2.95m53 0h2.95m351.1 0h2.95M-69 15h2.95m25.1 0h2.95m15.1 0h2.95m2 0h2.95m2 0h2.95m-1 0h2.95m3 0h2.95m5 0h2.95m4 0h2.95m-1 0h2.95m8.1 0h2.95m35 0h2.95m289.1 0h2.95M-85 16h2.95m26.1 0h2.95m15.1 0h2.95m21.1 0h2.95m2 0h2.95m-2 0h2.95m9.1 0h2.95m3 0h2.95m7 0h2.95m65 0h2.95m237.1 0h2.95M-181 17h2.95m151.1 0h2.95m6 0h2.95m9.1 0h2.95m3 0h2.95m4 0h2.95m11.1 0h2.95m7 0h2.95m32 0h2.95M-455 18h2.95m392.1 0h2.95m21.1 0h2.95m9.1 0h2.95m1 0h2.95m6 0h2.95m-2 0h2.95m7 0h2.95m-2 0h2.95m1 0h2.95m-1 0h2.95m3 0h2.95m7 0h2.95m11.1 0h2.95m446.1 0h2.95M-44 19h2.95m12.1 0h2.95m8.1 0h2.95m2 0h2.95m-1 0h2.95m3 0h2.95m-2 0h2.95m4 0h2.95m1 0h2.95m-2 0h2.95m4 0h2.95m4 0h2.95m5 0h2.95m12.1 0h2.95m34 0h2.95m50 0h2.95M-431 20h2.95m369.1 0h2.95m22.1 0h2.95m10.1 0h2.95m4 0h2.95m4 0h2.95m1 0h2.95m3 0h2.95m2 0h2.95m-2 0h2.95m0 0h2.95m0 0h2.95m8.1 0h2.95m12.1 0h2.95m194.1 0h2.95m239.1 0h2.95M-387 21h2.95m319.1 0h2.95m13.1 0h2.95m12.1 0h2.95m9.1 0h2.95m-1 0h2.95m3 0h2.95m6 0h2.95m3 0h2.95m6 0h2.95m-2 0h2.95m4 0h2.95m14.1 0h2.95m33 0h2.95m354.1 0h2.95M-68 22h2.95m26.1 0h2.95m5 0h2.95m13.1 0h2.95m3 0h2.95m0 0h2.95m-2 0h2.95m7 0h2.95m4 0h2.95m1 0h2.95m-2 0h2.95m5 0h2.95m0 0h2.95m20.1 0h2.95M-488 23h2.95m440.1 0h2.95m17.1 0h2.95m6 0h2.95m3 0h2.95m0 0h2.95m-2 0h2.95m3 0h2.95m3 0h2.95m1 0h2.95m10.1 0h2.95m8.1 0h2.95M-350 24h2.95m246.1 0h2.95m64 0h2.95m-1 0h2.95m6 0h2.95m2 0h2.95m11.1 0h2.95m2 0h2.95m-2 0h2.95m2 0h2.95m1 0h2.95m-2 0h2.95m1 0h2.95m-2 0h2.95m22.1 0h2.95m112 0h2.95m176.1 0h2.95M-315 25h2.95m193.1 0h2.95m58 0h2.95m19.1 0h2.95m12.1 0h2.95m3 0h2.95m5 0h2.95m2 0h2.95m0 0h2.95m-2 0h2.95m5 0h2.95m14.1 0h2.95m20.1 0h2.95m141.1 0h2.95m162.1 0h2.95M-278 26h2.95m207.1 0h2.95m22.1 0h2.95m11.1 0h2.95m7 0h2.95m2 0h2.95m2 0h2.95m-2 0h2.95m3 0h2.95m-2 0h2.95m6 0h2.95m9.1 0h2.95m-2 0h2.95m15.1 0h2.95M-362 27h2.95m260.1 0h2.95m50 0h2.95m15.1 0h2.95m13.1 0h2.95m-2 0h2.95m3 0h2.95m-1 0h2.95m3 0h2.95m-1 0h2.95m3 0h2.95m0 0h2.95m-2 0h2.95m0 0h2.95m-1 0h2.95m11.1 0h2.95m25.1 0h2.95m25.1 0h2.95m272.1 0h2.95m103 0h2.95M-387 28h2.95m180.1 0h2.95m64 0h2.95m70 0h2.95m39 0h2.95m3 0h2.95m-2 0h2.95m4 0h2.95m3 0h2.95m1 0h2.95m-2 0h2.95m2 0h2.95m1 0h2.95m1 0h2.95m-2 0h2.95m8.1 0h2.95m6 0h2.95m21.1 0h2.95m203.1 0h2.95M-407 29h2.95m350.1 0h2.95m21.1 0h2.95m8.1 0h2.95m3 0h2.95m-2 0h2.95m6 0h2.95m2 0h2.95m4 0h2.95m0 0h2.95m-1 0h2.95m6 0h2.95m3 0h2.95m8.1 0h2.95m11.1 0h2.95m8.1 0h2.95m352.1 0h2.95M-252 30h2.95m202.1 0h2.95m19.1 0h2.95m4 0h2.95m-2 0h2.95m5 0h2.95m4 0h2.95m-1 0h2.95m1 0h2.95m-2 0h2.95m1 0h2.95m-1 0h2.95m3 0h2.95m6 0h2.95m2 0h2.95m13.1 0h2.95m69 0h2.95m116 0h2.95M-456 31h2.95m300.1 0h2.95m118 0h2.95m5 0h2.95m7 0h2.95m4 0h2.95m-2 0h2.95m2 0h2.95m3 0h2.95m2 0h2.95m-1 0h2.95m3 0h2.95m-1 0h2.95m15.1 0h2.95m237.1 0h2.95m184.1 0h2.95M-152 32h2.95m84 0h2.95m30.1 0h2.95m6 0h2.95m-2 0h2.95m12.1 0h2.95m0 0h2.95m-2 0h2.95m2 0h2.95m5 0h2.95m1 0h2.95m4 0h2.95m19.1 0h2.95m99 0h2.95m136.1 0h2.95m158.1 0h2.95M-371 33h2.95m289.1 0h2.95m42 0h2.95m16.1 0h2.95m1 0h2.95m-2 0h2.95m1 0h2.95m3 0h2.95m2 0h2.95m0 0h2.95m0 0h2.95m-2 0h2.95m0 0h2.95m-2 0h2.95m17.1 0h2.95m147.1 0h2.95m154.1 0h2.95M-242 34h2.95m160.1 0h2.95m6 0h2.95m22.1 0h2.95m9.1 0h2.95m11.1 0h2.95m3 0h2.95m4 0h2.95m3 0h2.95m2 0h2.95m-1 0h2.95m0 0h2.95m-2 0h2.95m4 0h2.95m2 0h2.95m13.1 0h2.95m129.1 0h2.95m162.1 0h2.95M-492 35h2.95m198.1 0h2.95m200.1 0h2.95m49 0h2.95m18.1 0h2.95m2 0h2.95m-1 0h2.95m2 0h2.95m0 0h2.95m-2 0h2.95m1 0h2.95m-2 0h2.95m0 0h2.95m-1 0h2.95m4 0h2.95m6 0h2.95m-2 0h2.95m9.1 0h2.95m28.1 0h2.95m216.1 0h2.95M-489 36h2.95m181.1 0h2.95m208.1 0h2.95m42 0h2.95m14.1 0h2.95m5 0h2.95m2 0h2.95m1 0h2.95m0 0h2.95m-2 0h2.95m3 0h2.95m-1 0h2.95m4 0h2.95m2 0h2.95m9.1 0h2.95m-2 0h2.95m7 0h2.95m8.1 0h2.95m16.1 0h2.95m33 0h2.95m235.1 0h2.95M-272 37h2.95m196.1 0h2.95m24.1 0h2.95m20.1 0h2.95m6 0h2.95m-1 0h2.95m2 0h2.95m-1 0h2.95m0 0h2.95m-1 0h2.95m13.1 0h2.95m4 0h2.95m1 0h2.95m1 0h2.95m11.1 0h2.95m148.1 0h2.95m113 0h2.95M-402 38h2.95m296.1 0h2.95m35 0h2.95m33 0h2.95m11.1 0h2.95m1 0h2.95m-1 0h2.95m4 0h2.95m-2 0h2.95m6 0h2.95m-2 0h2.95m2 0h2.95m4 0h2.95m27.1 0h2.95m26.1 0h2.95m229.1 0h2.95M-387 39h2.95m75 0h2.95m250.1 0h2.95m22.1 0h2.95m15.1 0h2.95m0 0h2.95m-1 0h2.95m0 0h2.95m-2 0h2.95m2 0h2.95m-2 0h2.95m1 0h2.95m-2 0h2.95m3 0h2.95m1 0h2.95m0 0h2.95m3 0h2.95m11.1 0h2.95m22.1 0h2.95m53 0h2.95m286.1 0h2.95M-490 40h2.95m197.1 0h2.95m209.1 0h2.95m45 0h2.95m4 0h2.95m2 0h2.95m0 0h2.95m-1 0h2.95m3 0h2.95m2 0h2.95m1 0h2.95m9.1 0h2.95m7 0h2.95m40 0h2.95m211.1 0h2.95m121 0h2.95M-418 41h2.95m136.1 0h2.95m158.1 0h2.95m54 0h2.95m38 0h2.95m1 0h2.95m-2 0h2.95m2 0h2.95m1 0h2.95m2 0h2.95m1 0h2.95m-2 0h2.95m1 0h2.95m5 0h2.95m3 0h2.95m-2 0h2.95m3 0h2.95m9.1 0h2.95m54 0h2.95m201.1 0h2.95m163.1 0h2.95M-383 42h2.95m141.1 0h2.95m169.1 0h2.95m36 0h2.95m6 0h2.95m5 0h2.95m-2 0h2.95m2 0h2.95m1 0h2.95m1 0h2.95m-2 0h2.95m8.1 0h2.95m6 0h2.95m-2 0h2.95m27.1 0h2.95m23.1 0h2.95m141.1 0h2.95m112 0h2.95m141.1 0h2.95M-407 43h2.95m80 0h2.95m124 0h2.95m56 0h2.95m37 0h2.95m21.1 0h2.95m22.1 0h2.95m14.1 0h2.95m7 0h2.95m4 0h2.95m1 0h2.95m1 0h2.95m-1 0h2.95m2 0h2.95m-2 0h2.95m1 0h2.95m-2 0h2.95m4 0h2.95m6 0h2.95m16.1 0h2.95m18.1 0h2.95m96 0h2.95m69 0h2.95m184.1 0h2.95M-467 44h2.95m131.1 0h2.95m208.1 0h2.95m12.1 0h2.95m61 0h2.95m3 0h2.95m8.1 0h2.95m7 0h2.95m5 0h2.95m2 0h2.95m-1 0h2.95m0 0h2.95m-2 0h2.95m9.1 0h2.95m3 0h2.95m-2 0h2.95m7 0h2.95m12.1 0h2.95m10.1 0h2.95m147.1 0h2.95m34 0h2.95M-345 45h2.95m175.1 0h2.95m108 0h2.95m16.1 0h2.95m13.1 0h2.95m6 0h2.95m3 0h2.95m0 0h2.95m-2 0h2.95m1 0h2.95m0 0h2.95m4 0h2.95m-2 0h2.95m1 0h2.95m0 0h2.95m8.1 0h2.95m40 0h2.95m52 0h2.95m145.1 0h2.95m99 0h2.95M-485 46h2.95m83 0h2.95m11.1 0h2.95m296.1 0h2.95m39 0h2.95m12.1 0h2.95m6 0h2.95m4 0h2.95m-1 0h2.95m5 0h2.95m0 0h2.95m-1 0h2.95m1 0h2.95m3 0h2.95m-2 0h2.95m2 0h2.95m5 0h2.95m14.1 0h2.95m106 0h2.95m143.1 0h2.95m136.1 0h2.95M-432 47h2.95m147.1 0h2.95m230.1 0h2.95m15.1 0h2.95m9.1 0h2.95m3 0h2.95m-2 0h2.95m4 0h2.95m2 0h2.95m-1 0h2.95m1 0h2.95m-2 0h2.95m5 0h2.95m-2 0h2.95m2 0h2.95m25.1 0h2.95m16.1 0h2.95m90 0h2.95m109 0h2.95m115 0h2.95m31.1 0h2.95M-385 48h2.95m168.1 0h2.95m164.1 0h2.95m22.1 0h2.95m5 0h2.95m1 0h2.95m2 0h2.95m-2 0h2.95m3 0h2.95m1 0h2.95m-1 0h2.95m2 0h2.95m-2 0h2.95m6 0h2.95m18.1 0h2.95m27.1 0h2.95m44 0h2.95m130.1 0h2.95m97 0h2.95M-483 49h2.95m65 0h2.95m170.1 0h2.95m134.1 0h2.95m71 0h2.95m4 0h2.95m-2 0h2.95m4 0h2.95m2 0h2.95m0 0h2.95m-2 0h2.95m0 0h2.95m-2 0h2.95m1 0h2.95m3 0h2.95m5 0h2.95m3 0h2.95m-1 0h2.95m14.1 0h2.95m22.1 0h2.95m230.1 0h2.95m60 0h2.95m71 0h2.95m-2 0h2.95M-368 50h2.95m196.1 0h2.95m45 0h2.95m49 0h2.95m13.1 0h2.95m15.1 0h2.95m13.1 0h2.95m5 0h2.95m0 0h2.95m-2 0h2.95m3 0h2.95m4 0h2.95m-2 0h2.95m4 0h2.95m-1 0h2.95m7 0h2.95m16.1 0h2.95m44 0h2.95m72 0h2.95m54 0h2.95m163.1 0h2.95M-298 51h2.95m49 0h2.95m100 0h2.95m60 0h2.95m40 0h2.95m-1 0h2.95m8.1 0h2.95m-2 0h2.95m4 0h2.95m5 0h2.95m-2 0h2.95m0 0h2.95m-1 0h2.95m2 0h2.95m-2 0h2.95m2 0h2.95m-2 0h2.95m6 0h2.95m5 0h2.95m5 0h2.95m33 0h2.95m86 0h2.95m129.1 0h2.95m167.1 0h2.95M-416 52h2.95m171.1 0h2.95m87 0h2.95m103 0h2.95m16.1 0h2.95m4 0h2.95m-1 0h2.95m3 0h2.95m1 0h2.95m-2 0h2.95m3 0h2.95m-2 0h2.95m5 0h2.95m-2 0h2.95m1 0h2.95m3 0h2.95m7 0h2.95m20.1 0h2.95m7 0h2.95m126 0h2.95m103 0h2.95m106 0h2.95m47 0h2.95M-317 53h2.95m102 0h2.95m44 0h2.95m67 0h2.95m48 0h2.95m8.1 0h2.95m8.1 0h2.95m-2 0h2.95m2 0h2.95m4 0h2.95m5 0h2.95m0 0h2.95m2 0h2.95m3 0h2.95m6 0h2.95m12.1 0h2.95m6 0h2.95m21.1 0h2.95m50 0h2.95m141.1 0h2.95m41 0h2.95m154.1 0h2.95M-364 54h2.95m159.1 0h2.95m71 0h2.95m68 0h2.95m9.1 0h2.95m15.1 0h2.95m2 0h2.95m2 0h2.95m-2 0h2.95m0 0h2.95m-2 0h2.95m1 0h2.95m-2 0h2.95m1 0h2.95m3 0h2.95m-2 0h2.95m4 0h2.95m4 0h2.95m6 0h2.95m12.1 0h2.95m16.1 0h2.95m117 0h2.95m70 0h2.95m138.1 0h2.95m83 0h2.95M-328 55h2.95m92 0h2.95m103 0h2.95m65 0h2.95m8.1 0h2.95m10.1 0h2.95m8.1 0h2.95m1 0h2.95m0 0h2.95m2 0h2.95m-2 0h2.95m2 0h2.95m2 0h2.95m1 0h2.95m-2 0h2.95m3 0h2.95m-2 0h2.95m4 0h2.95m1 0h2.95m2 0h2.95m14.1 0h2.95m62 0h2.95m84 0h2.95m44 0h2.95m108 0h2.95m67 0h2.95m63 0h2.95M-395 56h2.95m64 0h2.95m107 0h2.95m133.1 0h2.95m32 0h2.95m0 0h2.95m14.1 0h2.95m7 0h2.95m2 0h2.95m-1 0h2.95m2 0h2.95m2 0h2.95m1 0h2.95m4 0h2.95m2 0h2.95m0 0h2.95m1 0h2.95m2 0h2.95m1 0h2.95m-2 0h2.95m20.1 0h2.95m133.1 0h2.95m37 0h2.95m211.1 0h2.95M-220 57h2.95m92 0h2.95m53 0h2.95m23.1 0h2.95m19.1 0h2.95m3 0h2.95m1 0h2.95m2 0h2.95m-2 0h2.95m1 0h2.95m2 0h2.95m0 0h2.95m-2 0h2.95m2 0h2.95m3 0h2.95m-1 0h2.95m7 0h2.95m17.1 0h2.95m5 0h2.95m20.1 0h2.95m20.1 0h2.95m33 0h2.95m29.1 0h2.95m41 0h2.95m49 0h2.95m103 0h2.95M-480 58h2.95m68 0h2.95m46 0h2.95m104 0h2.95m43 0h2.95m32 0h2.95m111 0h2.95m11.1 0h2.95m9.1 0h2.95m6 0h2.95m1 0h2.95m-1 0h2.95m2 0h2.95m-1 0h2.95m0 0h2.95m0 0h2.95m0 0h2.95m-2 0h2.95m0 0h2.95m-1 0h2.95m1 0h2.95m-1 0h2.95m5 0h2.95m6 0h2.95m3 0h2.95m13.1 0h2.95m16.1 0h2.95m196.1 0h2.95m44 0h2.95m157.1 0h2.95M-433 59h2.95m33 0h2.95m106 0h2.95m97 0h2.95m102 0h2.95m21.1 0h2.95m22.1 0h2.95m10.1 0h2.95m4 0h2.95m-2 0h2.95m6 0h2.95m1 0h2.95m-2 0h2.95m0 0h2.95m-2 0h2.95m0 0h2.95m-2 0h2.95m4 0h2.95m2 0h2.95m7 0h2.95m41 0h2.95m151.1 0h2.95m97 0h2.95m100 0h2.95M-319 60h2.95m137.1 0h2.95m82 0h2.95m41 0h2.95m22.1 0h2.95m2 0h2.95m2 0h2.95m-1 0h2.95m0 0h2.95m-2 0h2.95m0 0h2.95m-2 0h2.95m0 0h2.95m-2 0h2.95m0 0h2.95m-1 0h2.95m2 0h2.95m1 0h2.95m0 0h2.95m6 0h2.95m40 0h2.95m114 0h2.95m69 0h2.95m92 0h2.95M-426 61h2.95m74 0h2.95m80 0h2.95m40 0h2.95m110 0h2.95m63 0h2.95m9.1 0h2.95m1 0h2.95m4 0h2.95m5 0h2.95m-1 0h2.95m1 0h2.95m1 0h2.95m1 0h2.95m-2 0h2.95m0 0h2.95m-2 0h2.95m0 0h2.95m-1 0h2.95m2 0h2.95m-2 0h2.95m5 0h2.95m10.1 0h2.95m20.1 0h2.95m52 0h2.95m55 0h2.95m53 0h2.95m98 0h2.95m84 0h2.95M-417 62h2.95m58 0h2.95m63 0h2.95m9.1 0h2.95m138.1 0h2.95m62 0h2.95m22.1 0h2.95m2 0h2.95m1 0h2.95m15.1 0h2.95m3 0h2.95m-2 0h2.95m4 0h2.95m2 0h2.95m-2 0h2.95m3 0h2.95m2 0h2.95m2 0h2.95m4 0h2.95m6 0h2.95m6 0h2.95m-2 0h2.95m22.1 0h2.95m93 0h2.95m113 0h2.95m125 0h2.95m26.1 0h2.95M-491 63h2.95m81 0h2.95m106 0h2.95m57 0h2.95m57 0h2.95m53 0h2.95m63 0h2.95m13.1 0h2.95m11.1 0h2.95m2 0h2.95m5 0h2.95m2 0h2.95m-2 0h2.95m2 0h2.95m-2 0h2.95m3 0h2.95m2 0h2.95m4 0h2.95m4 0h2.95m6 0h2.95m6 0h2.95m40 0h2.95m74 0h2.95m64 0h2.95m157.1 0h2.95m76 0h2.95M-369 64h2.95m102 0h2.95m70 0h2.95m111 0h2.95m17.1 0h2.95m20.1 0h2.95m7 0h2.95m5 0h2.95m7 0h2.95m2 0h2.95m2 0h2.95m8.1 0h2.95m7 0h2.95m29.1 0h2.95m53 0h2.95m62 0h2.95m163.1 0h2.95m147.1 0h2.95M-444 65h2.95m120 0h2.95m121 0h2.95m83 0h2.95m45 0h2.95m21.1 0h2.95m6 0h2.95m-2 0h2.95m6 0h2.95m8.1 0h2.95m2 0h2.95m3 0h2.95m4 0h2.95m6 0h2.95m16.1 0h2.95m80 0h2.95m52 0h2.95m126 0h2.95m47 0h2.95M-479 66h2.95m80 0h2.95m132.1 0h2.95m83 0h2.95m40 0h2.95m44 0h2.95m31.1 0h2.95m12.1 0h2.95m10.1 0h2.95m3 0h2.95m4 0h2.95m3 0h2.95m1 0h2.95m0 0h2.95m0 0h2.95m2 0h2.95m2 0h2.95m-2 0h2.95m5 0h2.95m15.1 0h2.95m45 0h2.95m22.1 0h2.95m124 0h2.95m57 0h2.95m60 0h2.95m105 0h2.95m14.1 0h2.95M-479 67h2.95m88 0h2.95m100 0h2.95m64 0h2.95m95 0h2.95m41 0h2.95m23.1 0h2.95m10.1 0h2.95m6 0h2.95m6 0h2.95m5 0h2.95m1 0h2.95m0 0h2.95m1 0h2.95m-2 0h2.95m1 0h2.95m2 0h2.95m2 0h2.95m2 0h2.95m6 0h2.95m37 0h2.95m30.1 0h2.95m89 0h2.95m190.1 0h2.95m27.1 0h2.95M-494 68h2.95m55 0h2.95m45 0h2.95m38 0h2.95m76 0h2.95m127 0h2.95m35 0h2.95m61 0h2.95m7 0h2.95m6 0h2.95m0 0h2.95m-2 0h2.95m3 0h2.95m3 0h2.95m0 0h2.95m3 0h2.95m4 0h2.95m1 0h2.95m0 0h2.95m1 0h2.95m2 0h2.95m82 0h2.95m88 0h2.95m177.1 0h2.95m90 0h2.95M-427 69h2.95m112 0h2.95m90 0h2.95m95 0h2.95m83 0h2.95m6 0h2.95m10.1 0h2.95m1 0h2.95m1 0h2.95m0 0h2.95m-1 0h2.95m2 0h2.95m-2 0h2.95m2 0h2.95m0 0h2.95m2 0h2.95m8.1 0h2.95m0 0h2.95m11.1 0h2.95m22.1 0h2.95m49 0h2.95m57 0h2.95m19.1 0h2.95m67 0h2.95m126 0h2.95m79 0h2.95M-426 70h2.95m53 0h2.95m68 0h2.95m25.1 0h2.95m81 0h2.95m116 0h2.95m17.1 0h2.95m-1 0h2.95m20.1 0h2.95m3 0h2.95m-2 0h2.95m4 0h2.95m2 0h2.95m1 0h2.95m3 0h2.95m2 0h2.95m-2 0h2.95m2 0h2.95m2 0h2.95m6 0h2.95m20.1 0h2.95m12.1 0h2.95m136.1 0h2.95m122 0h2.95m77 0h2.95m33 0h2.95M-472 71h2.95m38 0h2.95m106 0h2.95m12.1 0h2.95m85 0h2.95m59 0h2.95m26.1 0h2.95m56 0h2.95m23.1 0h2.95m10.1 0h2.95m9.1 0h2.95m1 0h2.95m-2 0h2.95m2 0h2.95m2 0h2.95m1 0h2.95m-1 0h2.95m1 0h2.95m0 0h2.95m-2 0h2.95m3 0h2.95m1 0h2.95m4 0h2.95m1 0h2.95m6 0h2.95m155.1 0h2.95m56 0h2.95m151.1 0h2.95m6 0h2.95m36 0h2.95M-394 72h2.95m66 0h2.95m60 0h2.95m104 0h2.95m84 0h2.95m16.1 0h2.95m13.1 0h2.95m4 0h2.95m4 0h2.95m-1 0h2.95m3 0h2.95m-2 0h2.95m1 0h2.95m-1 0h2.95m1 0h2.95m2 0h2.95m5 0h2.95m10.1 0h2.95m20.1 0h2.95m16.1 0h2.95m26.1 0h2.95m58 0h2.95m78 0h2.95m65 0h2.95m66 0h2.95m102 0h2.95M-467 73h2.95m116 0h2.95m62 0h2.95m46 0h2.95m27.1 0h2.95m60 0h2.95m50 0h2.95m37 0h2.95m22.1 0h2.95m5 0h2.95m3 0h2.95m0 0h2.95m2 0h2.95m-2 0h2.95m3 0h2.95m3 0h2.95m-2 0h2.95m4 0h2.95m-2 0h2.95m6 0h2.95m0 0h2.95m31.1 0h2.95m22.1 0h2.95m50 0h2.95m54 0h2.95m44 0h2.95m101 0h2.95m31.1 0h2.95m73 0h2.95M-461 74h2.95m80 0h2.95m41 0h2.95m67 0h2.95m87 0h2.95m58 0h2.95m36 0h2.95m38 0h2.95m6 0h2.95m1 0h2.95m1 0h2.95m-1 0h2.95m3 0h2.95m2 0h2.95m3 0h2.95m5 0h2.95m1 0h2.95m-1 0h2.95m13.1 0h2.95m6 0h2.95m36 0h2.95m15.1 0h2.95m62 0h2.95m66 0h2.95m11.1 0h2.95m189.1 0h2.95m19.1 0h2.95M-409 75h2.95m20.1 0h2.95m77 0h2.95m91 0h2.95m67 0h2.95m67 0h2.95m40 0h2.95m1 0h2.95m5 0h2.95m5 0h2.95m3 0h2.95m2 0h2.95m-2 0h2.95m2 0h2.95m4 0h2.95m4 0h2.95m8.1 0h2.95m39 0h2.95m86 0h2.95m31.1 0h2.95m56 0h2.95m71 0h2.95m86 0h2.95m70 0h2.95M-385 76h2.95m53 0h2.95m64 0h2.95m63 0h2.95m37 0h2.95m76 0h2.95m26.1 0h2.95m20.1 0h2.95m9.1 0h2.95m2 0h2.95m-2 0h2.95m1 0h2.95m0 0h2.95m-1 0h2.95m4 0h2.95m-2 0h2.95m2 0h2.95m-2 0h2.95m4 0h2.95m19.1 0h2.95m19.1 0h2.95m70 0h2.95m102 0h2.95m91 0h2.95m25.1 0h2.95m61 0h2.95m36 0h2.95M-437 77h2.95m56 0h2.95m82 0h2.95m77 0h2.95m40 0h2.95m64 0h2.95m26.1 0h2.95m17.1 0h2.95m29.1 0h2.95m1 0h2.95m1 0h2.95m1 0h2.95m1 0h2.95m0 0h2.95m-1 0h2.95m1 0h2.95m-1 0h2.95m2 0h2.95m-2 0h2.95m3 0h2.95m4 0h2.95m3 0h2.95m10.1 0h2.95m12.1 0h2.95m40 0h2.95m67 0h2.95m85 0h2.95m78 0h2.95m72 0h2.95M-433 78h2.95m54 0h2.95m32 0h2.95m89 0h2.95m118 0h2.95m89 0h2.95m8.1 0h2.95m4 0h2.95m4 0h2.95m3 0h2.95m3 0h2.95m-2 0h2.95m1 0h2.95m-2 0h2.95m1 0h2.95m1 0h2.95m-2 0h2.95m4 0h2.95m3 0h2.95m22.1 0h2.95m89 0h2.95m98 0h2.95m45 0h2.95m98 0h2.95M-465 79h2.95m26.1 0h2.95m98 0h2.95m40 0h2.95m151.1 0h2.95m38 0h2.95m39 0h2.95m21.1 0h2.95m12.1 0h2.95m3 0h2.95m1 0h2.95m2 0h2.95m2 0h2.95m-2 0h2.95m3 0h2.95m5 0h2.95m10.1 0h2.95m18.1 0h2.95m20.1 0h2.95m45 0h2.95m88 0h2.95m39 0h2.95m64 0h2.95m67 0h2.95m25.1 0h2.95M-458 80h2.95m108 0h2.95m51 0h2.95m70 0h2.95m50 0h2.95m72 0h2.95m48 0h2.95m14.1 0h2.95m5 0h2.95m4 0h2.95m5 0h2.95m-1 0h2.95m1 0h2.95m1 0h2.95m2 0h2.95m-1 0h2.95m2 0h2.95m0 0h2.95m6 0h2.95m10.1 0h2.95m34 0h2.95m71 0h2.95m24.1 0h2.95m77 0h2.95m21.1 0h2.95m44 0h2.95m73 0h2.95M-452 81h2.95m14.1 0h2.95m37 0h2.95m100 0h2.95m67 0h2.95m45 0h2.95m77 0h2.95m42 0h2.95m11.1 0h2.95m7 0h2.95m4 0h2.95m3 0h2.95m-1 0h2.95m3 0h2.95m-1 0h2.95m0 0h2.95m-2 0h2.95m3 0h2.95m2 0h2.95m-2 0h2.95m8.1 0h2.95m10.1 0h2.95m16.1 0h2.95m128.1 0h2.95m19.1 0h2.95m19.1 0h2.95m23.1 0h2.95m28.1 0h2.95m37 0h2.95m8.1 0h2.95m35 0h2.95m56 0h2.95M-466 82h2.95m98 0h2.95m83 0h2.95m33 0h2.95m61 0h2.95m79 0h2.95m25.1 0h2.95m24.1 0h2.95m8.1 0h2.95m7 0h2.95m-2 0h2.95m6 0h2.95m1 0h2.95m-2 0h2.95m2 0h2.95m2 0h2.95m-2 0h2.95m1 0h2.95m-2 0h2.95m2 0h2.95m6 0h2.95m5 0h2.95m23.1 0h2.95m85 0h2.95m95 0h2.95m56 0h2.95m74 0h2.95m87 0h2.95M-472 83h2.95m25.1 0h2.95m52 0h2.95m113 0h2.95m20.1 0h2.95m42 0h2.95m88 0h2.95m20.1 0h2.95m18.1 0h2.95m20.1 0h2.95m9.1 0h2.95m14.1 0h2.95m3 0h2.95m2 0h2.95m-2 0h2.95m4 0h2.95m3 0h2.95m2 0h2.95m5 0h2.95m5 0h2.95m4 0h2.95m6 0h2.95m58 0h2.95m43 0h2.95m80 0h2.95m22.1 0h2.95m46 0h2.95m27.1 0h2.95m14.1 0h2.95m87 0h2.95M-480 84h2.95m49 0h2.95m83 0h2.95m74 0h2.95m57 0h2.95m52 0h2.95m27.1 0h2.95m4 0h2.95m8.1 0h2.95m63 0h2.95m14.1 0h2.95m5 0h2.95m3 0h2.95m1 0h2.95m3 0h2.95m1 0h2.95m2 0h2.95m1 0h2.95m5 0h2.95m18.1 0h2.95m12.1 0h2.95m47 0h2.95m60 0h2.95m12.1 0h2.95m36 0h2.95m6 0h2.95m50 0h2.95m36 0h2.95m53 0h2.95m60 0h2.95m25.1 0h2.95m3 0h2.95M-446 85h2.95m78 0h2.95m56 0h2.95m98 0h2.95m66 0h2.95m95 0h2.95m8.1 0h2.95m9.1 0h2.95m1 0h2.95m-1 0h2.95m0 0h2.95m-2 0h2.95m1 0h2.95m0 0h2.95m2 0h2.95m7 0h2.95m18.1 0h2.95m1 0h2.95m34 0h2.95m43 0h2.95m19.1 0h2.95m22.1 0h2.95m72 0h2.95m91 0h2.95m45 0h2.95m28.1 0h2.95M-465 86h2.95m82 0h2.95m52 0h2.95m48 0h2.95m21.1 0h2.95m51 0h2.95m60 0h2.95m46 0h2.95m31.1 0h2.95m10.1 0h2.95m9.1 0h2.95m3 0h2.95m1 0h2.95m2 0h2.95m-2 0h2.95m5 0h2.95m0 0h2.95m-2 0h2.95m3 0h2.95m-1 0h2.95m4 0h2.95m12.1 0h2.95m5 0h2.95m77 0h2.95m49 0h2.95m67 0h2.95m68 0h2.95m47 0h2.95m44 0h2.95m20.1 0h2.95m40 0h2.95M-423 87h2.95m78 0h2.95m45 0h2.95m57 0h2.95m26.1 0h2.95m30.1 0h2.95m16.1 0h2.95m62 0h2.95m29.1 0h2.95m16.1 0h2.95m25.1 0h2.95m3 0h2.95m0 0h2.95m-2 0h2.95m4 0h2.95m2 0h2.95m-1 0h2.95m2 0h2.95m5 0h2.95m6 0h2.95m29.1 0h2.95m46 0h2.95m0 0h2.95m43 0h2.95m94 0h2.95m2 0h2.95m50 0h2.95m69 0h2.95m32 0h2.95m34 0h2.95M-466 88h2.95m38 0h2.95m45 0h2.95m25.1 0h2.95m69 0h2.95m15.1 0h2.95m53 0h2.95m37 0h2.95m32 0h2.95m39 0h2.95m23.1 0h2.95m14.1 0h2.95m26.1 0h2.95m4 0h2.95m0 0h2.95m-1 0h2.95m3 0h2.95m0 0h2.95m6 0h2.95m0 0h2.95m4 0h2.95m4 0h2.95m9.1 0h2.95m29.1 0h2.95m49 0h2.95m80 0h2.95m34 0h2.95m97 0h2.95m66 0h2.95m45 0h2.95m15.1 0h2.95M-472 89h2.95m23.1 0h2.95m23.1 0h2.95m59 0h2.95m38 0h2.95m35 0h2.95m86 0h2.95m33 0h2.95m63 0h2.95m26.1 0h2.95m10.1 0h2.95m10.1 0h2.95m1 0h2.95m0 0h2.95m12.1 0h2.95m5 0h2.95m2 0h2.95m4 0h2.95m-2 0h2.95m19.1 0h2.95m26.1 0h2.95m38 0h2.95m29.1 0h2.95m49 0h2.95m18.1 0h2.95m37 0h2.95m48 0h2.95m50 0h2.95m35 0h2.95m59 0h2.95m37 0h2.95M-453 90h2.95m35 0h2.95m60 0h2.95m22.1 0h2.95m60 0h2.95m5 0h2.95m45 0h2.95m21.1 0h2.95m18.1 0h2.95m54 0h2.95m49 0h2.95m22.1 0h2.95m9.1 0h2.95m3 0h2.95m-1 0h2.95m2 0h2.95m5 0h2.95m1 0h2.95m5 0h2.95m-2 0h2.95m5 0h2.95m21.1 0h2.95m12.1 0h2.95m15.1 0h2.95m23.1 0h2.95m26.1 0h2.95m24.1 0h2.95m11.1 0h2.95m35 0h2.95m68 0h2.95m49 0h2.95m45 0h2.95m76 0h2.95m25.1 0h2.95M-402 91h2.95m39 0h2.95m34 0h2.95m53 0h2.95m18.1 0h2.95m28.1 0h2.95m89 0h2.95m15.1 0h2.95m62 0h2.95m15.1 0h2.95m6 0h2.95m-1 0h2.95m4 0h2.95m7 0h2.95m2 0h2.95m5 0h2.95m12.1 0h2.95m28.1 0h2.95m16.1 0h2.95m74 0h2.95m57 0h2.95m54 0h2.95m57 0h2.95m25.1 0h2.95m40 0h2.95m46 0h2.95m23.1 0h2.95m0 0h2.95M-455 92h2.95m16.1 0h2.95m43 0h2.95m32 0h2.95m26.1 0h2.95m42 0h2.95m50 0h2.95m33 0h2.95m69 0h2.95m34 0h2.95m28.1 0h2.95m19.1 0h2.95m8.1 0h2.95m3 0h2.95m1 0h2.95m4 0h2.95m-1 0h2.95m3 0h2.95m-1 0h2.95m7 0h2.95m5 0h2.95m4 0h2.95m14.1 0h2.95m48 0h2.95m20.1 0h2.95m41 0h2.95m42 0h2.95m107 0h2.95m17.1 0h2.95m14.1 0h2.95m10.1 0h2.95m26.1 0h2.95m48 0h2.95m35 0h2.95M-470 93h2.95m17.1 0h2.95m12.1 0h2.95m37 0h2.95m11.1 0h2.95m37 0h2.95m92 0h2.95m8.1 0h2.95m37 0h2.95m37 0h2.95m52 0h2.95m15.1 0h2.95m33 0h2.95m8.1 0h2.95m7 0h2.95m4 0h2.95m-2 0h2.95m4 0h2.95m1 0h2.95m-2 0h2.95m3 0h2.95m-1 0h2.95m1 0h2.95m-2 0h2.95m4 0h2.95m2 0h2.95m16.1 0h2.95m45 0h2.95m16.1 0h2.95m55 0h2.95m76 0h2.95m19.1 0h2.95m34 0h2.95m97 0h2.95m25.1 0h2.95m59 0h2.95M-431 94h2.95m50 0h2.95m30.1 0h2.95m34 0h2.95m29.1 0h2.95m34 0h2.95m54 0h2.95m11.1 0h2.95m31.1 0h2.95m10.1 0h2.95m36 0h2.95m26.1 0h2.95m7 0h2.95m0 0h2.95m10.1 0h2.95m0 0h2.95m-2 0h2.95m1 0h2.95m2 0h2.95m1 0h2.95m-2 0h2.95m4 0h2.95m4 0h2.95m-2 0h2.95m4 0h2.95m1 0h2.95m0 0h2.95m33 0h2.95m24.1 0h2.95m30.1 0h2.95m12.1 0h2.95m47 0h2.95m24.1 0h2.95m36 0h2.95m55 0h2.95m19.1 0h2.95m86 0h2.95m40 0h2.95M-484 95h2.95m46 0h2.95m62 0h2.95m19.1 0h2.95m27.1 0h2.95m19.1 0h2.95m43 0h2.95m69 0h2.95m23.1 0h2.95m0 0h2.95m25.1 0h2.95m35 0h2.95m24.1 0h2.95m17.1 0h2.95m12.1 0h2.95m5 0h2.95m2 0h2.95m1 0h2.95m4 0h2.95m-2 0h2.95m7 0h2.95m9.1 0h2.95m9.1 0h2.95m11.1 0h2.95m64 0h2.95m35 0h2.95m27.1 0h2.95m43 0h2.95m33 0h2.95m14.1 0h2.95m50 0h2.95m41 0h2.95m49 0h2.95m39 0h2.95M-484 96h2.95m44 0h2.95m52 0h2.95m40 0h2.95m35 0h2.95m15.1 0h2.95m30.1 0h2.95m26.1 0h2.95m44 0h2.95m60 0h2.95m32 0h2.95m35 0h2.95m13.1 0h2.95m5 0h2.95m9.1 0h2.95m3 0h2.95m3 0h2.95m3 0h2.95m17.1 0h2.95m5 0h2.95m17.1 0h2.95m37 0h2.95m100 0h2.95m47 0h2.95m48 0h2.95m54 0h2.95m22.1 0h2.95m48 0h2.95m28.1 0h2.95m19.1 0h2.95M-469 97h2.95m13.1 0h2.95m55 0h2.95m42 0h2.95m65 0h2.95m14.1 0h2.95m47 0h2.95m28.1 0h2.95m45 0h2.95m43 0h2.95m20.1 0h2.95m19.1 0h2.95m5 0h2.95m8.1 0h2.95m-2 0h2.95m11.1 0h2.95m4 0h2.95m3 0h2.95m0 0h2.95m3 0h2.95m4 0h2.95m18.1 0h2.95m23.1 0h2.95m31.1 0h2.95m29.1 0h2.95m11.1 0h2.95m80 0h2.95m18.1 0h2.95m32 0h2.95m41 0h2.95m40 0h2.95m27.1 0h2.95m50 0h2.95M-468 98h2.95m68 0h2.95m27.1 0h2.95m64 0h2.95m73 0h2.95m19.1 0h2.95m49 0h2.95m31.1 0h2.95m20.1 0h2.95m35 0h2.95m11.1 0h2.95m6 0h2.95m12.1 0h2.95m1 0h2.95m3 0h2.95m3 0h2.95m-2 0h2.95m3 0h2.95m-1 0h2.95m4 0h2.95m4 0h2.95m2 0h2.95m11.1 0h2.95m8.1 0h2.95m1 0h2.95m28.1 0h2.95m59 0h2.95m73 0h2.95m26.1 0h2.95m36 0h2.95m22.1 0h2.95m24.1 0h2.95m100 0h2.95M-490 99h2.95m37 0h2.95m86 0h2.95m14.1 0h2.95m33 0h2.95m47 0h2.95m15.1 0h2.95m71 0h2.95m44 0h2.95m57 0h2.95m19.1 0h2.95m7 0h2.95m8.1 0h2.95m6 0h2.95m1 0h2.95m-2 0h2.95m0 0h2.95m-1 0h2.95m3 0h2.95m1 0h2.95m0 0h2.95m47 0h2.95m16.1 0h2.95m17.1 0h2.95m24.1 0h2.95m26.1 0h2.95m65 0h2.95m26.1 0h2.95m36 0h2.95m52 0h2.95m30.1 0h2.95m34 0h2.95M-445 100h2.95m36 0h2.95m63 0h2.95m36 0h2.95m81 0h2.95m47 0h2.95m52 0h2.95m20.1 0h2.95m14.1 0h2.95m29.1 0h2.95m11.1 0h2.95m4 0h2.95m0 0h2.95m-2 0h2.95m4 0h2.95m1 0h2.95m5 0h2.95m3 0h2.95m4 0h2.95m15.1 0h2.95m-2 0h2.95m13.1 0h2.95m18.1 0h2.95m37 0h2.95m20.1 0h2.95m35 0h2.95m107 0h2.95m23.1 0h2.95m21.1 0h2.95m20.1 0h2.95m59 0h2.95m25.1 0h2.95m39 0h2.95M-452 101h2.95m48 0h2.95m23.1 0h2.95m43 0h2.95m46 0h2.95m71 0h2.95m18.1 0h2.95m71 0h2.95m69 0h2.95m-1 0h2.95m6 0h2.95m5 0h2.95m6 0h2.95m5 0h2.95m0 0h2.95m-2 0h2.95m3 0h2.95m2 0h2.95m18.1 0h2.95m12.1 0h2.95m15.1 0h2.95m10.1 0h2.95m65 0h2.95m30.1 0h2.95m48 0h2.95m35 0h2.95m25.1 0h2.95m26.1 0h2.95m61 0h2.95m28.1 0h2.95m47 0h2.95M-480 102h2.95m80 0h2.95m17.1 0h2.95m75 0h2.95m28.1 0h2.95m3 0h2.95m30.1 0h2.95m3 0h2.95m40 0h2.95m42 0h2.95m38 0h2.95m29.1 0h2.95m28.1 0h2.95m9.1 0h2.95m2 0h2.95m-2 0h2.95m3 0h2.95m3 0h2.95m4 0h2.95m-1 0h2.95m2 0h2.95m16.1 0h2.95m2 0h2.95m31.1 0h2.95m47 0h2.95m38 0h2.95m45 0h2.95m20.1 0h2.95m57 0h2.95m29.1 0h2.95m39 0h2.95m34 0h2.95m20.1 0h2.95m44 0h2.95M-484 103h2.95m8.1 0h2.95m76 0h2.95m29.1 0h2.95m28.1 0h2.95m25.1 0h2.95m97 0h2.95m45 0h2.95m24.1 0h2.95m39 0h2.95m21.1 0h2.95m23.1 0h2.95m21.1 0h2.95m2 0h2.95m0 0h2.95m5 0h2.95m2 0h2.95m-2 0h2.95m5 0h2.95m2 0h2.95m-2 0h2.95m12.1 0h2.95m25.1 0h2.95m38 0h2.95m39 0h2.95m18.1 0h2.95m25.1 0h2.95m10.1 0h2.95m4 0h2.95m12.1 0h2.95m31.1 0h2.95m16.1 0h2.95m-1 0h2.95m30.1 0h2.95m30.1 0h2.95m43 0h2.95m42 0h2.95M-456 104h2.95m54 0h2.95m64 0h2.95m43 0h2.95m62 0h2.95m37 0h2.95m14.1 0h2.95m62 0h2.95m19.1 0h2.95m13.1 0h2.95m20.1 0h2.95m7 0h2.95m8.1 0h2.95m-2 0h2.95m8.1 0h2.95m6 0h2.95m5 0h2.95m10.1 0h2.95m5 0h2.95m6 0h2.95m3 0h2.95m-1 0h2.95m12.1 0h2.95m54 0h2.95m37 0h2.95m64 0h2.95m56 0h2.95m18.1 0h2.95m23.1 0h2.95m36 0h2.95m59 0h2.95M-487 105h2.95m17.1 0h2.95m58 0h2.95m7 0h2.95m12.1 0h2.95m50 0h2.95m12.1 0h2.95m26.1 0h2.95m34 0h2.95m38 0h2.95m65 0h2.95m20.1 0h2.95m20.1 0h2.95m12.1 0h2.95m9.1 0h2.95m23.1 0h2.95m0 0h2.95m12.1 0h2.95m1 0h2.95m-1 0h2.95m2 0h2.95m4 0h2.95m7 0h2.95m15.1 0h2.95m10.1 0h2.95m4 0h2.95m28.1 0h2.95m27.1 0h2.95m19.1 0h2.95m70 0h2.95m32 0h2.95m27.1 0h2.95m54 0h2.95m21.1 0h2.95m45 0h2.95m20.1 0h2.95m21.1 0h2.95m5 0h2.95M-481 106h2.95m104 0h2.95m59 0h2.95m25.1 0h2.95m47 0h2.95m95 0h2.95m38 0h2.95m21.1 0h2.95m39 0h2.95m19.1 0h2.95m5 0h2.95m-2 0h2.95m1 0h2.95m4 0h2.95m-2 0h2.95m10.1 0h2.95m40 0h2.95m17.1 0h2.95m20.1 0h2.95m38 0h2.95m13.1 0h2.95m25.1 0h2.95m15.1 0h2.95m13.1 0h2.95m48 0h2.95m55 0h2.95m57 0h2.95m10.1 0h2.95m37 0h2.95M-465 107h2.95m36 0h2.95m26.1 0h2.95m14.1 0h2.95m5 0h2.95m62 0h2.95m32 0h2.95m52 0h2.95m31.1 0h2.95m74 0h2.95m32 0h2.95m20.1 0h2.95m8.1 0h2.95m7 0h2.95m-2 0h2.95m13.1 0h2.95m9.1 0h2.95m2 0h2.95m3 0h2.95m19.1 0h2.95m30.1 0h2.95m31.1 0h2.95m44 0h2.95m28.1 0h2.95m33 0h2.95m24.1 0h2.95m22.1 0h2.95m36 0h2.95m21.1 0h2.95m24.1 0h2.95m22.1 0h2.95m31.1 0h2.95m37 0h2.95m30.1 0h2.95M-472 108h2.95m43 0h2.95m45 0h2.95m34 0h2.95m20.1 0h2.95m14.1 0h2.95m17.1 0h2.95m62 0h2.95m31.1 0h2.95m61 0h2.95m14.1 0h2.95m22.1 0h2.95m18.1 0h2.95m12.1 0h2.95m18.1 0h2.95m4 0h2.95m3 0h2.95m4 0h2.95m3 0h2.95m0 0h2.95m-2 0h2.95m7 0h2.95m14.1 0h2.95m31.1 0h2.95m27.1 0h2.95m40 0h2.95m110 0h2.95m59 0h2.95m33 0h2.95m27.1 0h2.95m33 0h2.95m1 0h2.95m21.1 0h2.95M-477 109h2.95m15.1 0h2.95m11.1 0h2.95m68 0h2.95m39 0h2.95m44 0h2.95m32 0h2.95m14.1 0h2.95m44 0h2.95m22.1 0h2.95m37 0h2.95m10.1 0h2.95m43 0h2.95m5 0h2.95m32 0h2.95m5 0h2.95m4 0h2.95m5 0h2.95m6 0h2.95m1 0h2.95m20.1 0h2.95m30.1 0h2.95m21.1 0h2.95m23.1 0h2.95m73 0h2.95m49 0h2.95m62 0h2.95m63 0h2.95m72 0h2.95M-414 110h2.95m31.1 0h2.95m23.1 0h2.95m41 0h2.95m38 0h2.95m43 0h2.95m32 0h2.95m14.1 0h2.95m24.1 0h2.95m39 0h2.95m42 0h2.95m36 0h2.95m12.1 0h2.95m2 0h2.95m-1 0h2.95m7 0h2.95m4 0h2.95m32 0h2.95m33 0h2.95m24.1 0h2.95m20.1 0h2.95m68 0h2.95m70 0h2.95m44 0h2.95m71 0h2.95m35 0h2.95m20.1 0h2.95m25.1 0h2.95M-438 111h2.95m34 0h2.95m62 0h2.95m27.1 0h2.95m34 0h2.95m21.1 0h2.95m27.1 0h2.95m11.1 0h2.95m23.1 0h2.95m18.1 0h2.95m17.1 0h2.95m43 0h2.95m20.1 0h2.95m16.1 0h2.95m23.1 0h2.95m5 0h2.95m-2 0h2.95m5 0h2.95m-2 0h2.95m2 0h2.95m4 0h2.95m-1 0h2.95m8.1 0h2.95m56 0h2.95m36 0h2.95m53 0h2.95m41 0h2.95m10.1 0h2.95m42 0h2.95m17.1 0h2.95m-2 0h2.95m23.1 0h2.95m61 0h2.95m30.1 0h2.95m30.1 0h2.95m3 0h2.95M-468 112h2.95m56 0h2.95m32 0h2.95m52 0h2.95m51 0h2.95m75 0h2.95m22.1 0h2.95m24.1 0h2.95m1 0h2.95m81 0h2.95m11.1 0h2.95m9.1 0h2.95m5 0h2.95m4 0h2.95m4 0h2.95m6 0h2.95m4 0h2.95m16.1 0h2.95m3 0h2.95m-1 0h2.95m28.1 0h2.95m33 0h2.95m53 0h2.95m20.1 0h2.95m50 0h2.95m58 0h2.95m30.1 0h2.95m7 0h2.95m29.1 0h2.95m42 0h2.95m64 0h2.95M-490 113h2.95m50 0h2.95m23.1 0h2.95m5 0h2.95m23.1 0h2.95m12.1 0h2.95m38 0h2.95m53 0h2.95m30.1 0h2.95m38 0h2.95m24.1 0h2.95m38 0h2.95m15.1 0h2.95m52 0h2.95m11.1 0h2.95m13.1 0h2.95m9.1 0h2.95m5 0h2.95m-2 0h2.95m11.1 0h2.95m20.1 0h2.95m45 0h2.95m15.1 0h2.95m16.1 0h2.95m35 0h2.95m30.1 0h2.95m9.1 0h2.95m6 0h2.95m18.1 0h2.95m21.1 0h2.95m41 0h2.95m20.1 0h2.95m17.1 0h2.95m54 0h2.95m51 0h2.95M-476 114h2.95m45 0h2.95m46 0h2.95m29.1 0h2.95m37 0h2.95m59 0h2.95m41 0h2.95m57 0h2.95m1 0h2.95m70 0h2.95m44 0h2.95m10.1 0h2.95m3 0h2.95m7 0h2.95m7 0h2.95m9.1 0h2.95m67 0h2.95m33 0h2.95m66 0h2.95m50 0h2.95m47 0h2.95m23.1 0h2.95m35 0h2.95m18.1 0h2.95m22.1 0h2.95m57 0h2.95M-477 115h2.95m16.1 0h2.95m96 0h2.95m20.1 0h2.95m52 0h2.95m30.1 0h2.95m25.1 0h2.95m23.1 0h2.95m46 0h2.95m40 0h2.95m33 0h2.95m23.1 0h2.95m6 0h2.95m12.1 0h2.95m4 0h2.95m0 0h2.95m2 0h2.95m3 0h2.95m-1 0h2.95m8.1 0h2.95m41 0h2.95m65 0h2.95m24.1 0h2.95m33 0h2.95m66 0h2.95m22.1 0h2.95m30.1 0h2.95m62 0h2.95m19.1 0h2.95m39 0h2.95M-467 116h2.95m17.1 0h2.95m30.1 0h2.95m50 0h2.95m18.1 0h2.95m11.1 0h2.95m17.1 0h2.95m23.1 0h2.95m26.1 0h2.95m12.1 0h2.95m61 0h2.95m53 0h2.95m44 0h2.95m22.1 0h2.95m20.1 0h2.95m6 0h2.95m1 0h2.95m-2 0h2.95m14.1 0h2.95m11.1 0h2.95m8.1 0h2.95m-1 0h2.95m20.1 0h2.95m16.1 0h2.95m5 0h2.95m52 0h2.95m29.1 0h2.95m25.1 0h2.95m25.1 0h2.95m28.1 0h2.95m44 0h2.95m35 0h2.95m23.1 0h2.95m32 0h2.95m19.1 0h2.95m19.1 0h2.95m22.1 0h2.95M-492 117h2.95m40 0h2.95m63 0h2.95m35 0h2.95m35 0h2.95m92 0h2.95m96 0h2.95m30.1 0h2.95m48 0h2.95m2 0h2.95m8.1 0h2.95m12.1 0h2.95m5 0h2.95m9.1 0h2.95m36 0h2.95m42 0h2.95m81 0h2.95m29.1 0h2.95m62 0h2.95m8.1 0h2.95m27.1 0h2.95m21.1 0h2.95m62 0h2.95m25.1 0h2.95M-471 118h2.95m75 0h2.95m46 0h2.95m31.1 0h2.95m39 0h2.95m11.1 0h2.95m15.1 0h2.95m38 0h2.95m17.1 0h2.95m24.1 0h2.95m18.1 0h2.95m25.1 0h2.95m22.1 0h2.95m15.1 0h2.95m12.1 0h2.95m19.1 0h2.95m7 0h2.95m4 0h2.95m4 0h2.95m-2 0h2.95m10.1 0h2.95m0 0h2.95m11.1 0h2.95m36 0h2.95m28.1 0h2.95m3 0h2.95m28.1 0h2.95m20.1 0h2.95m8.1 0h2.95m49 0h2.95m34 0h2.95m24.1 0h2.95m29.1 0h2.95m24.1 0h2.95m48 0h2.95m21.1 0h2.95m32 0h2.95M-470 119h2.95m9.1 0h2.95m44 0h2.95m29.1 0h2.95m23.1 0h2.95m25.1 0h2.95m29.1 0h2.95m16.1 0h2.95m17.1 0h2.95m29.1 0h2.95m63 0h2.95m36 0h2.95m55 0h2.95m18.1 0h2.95m13.1 0h2.95m1 0h2.95m7 0h2.95m4 0h2.95m2 0h2.95m1 0h2.95m3 0h2.95m-1 0h2.95m17.1 0h2.95m24.1 0h2.95m20.1 0h2.95m28.1 0h2.95m53 0h2.95m14.1 0h2.95m20.1 0h2.95m0 0h2.95m18.1 0h2.95m43 0h2.95m18.1 0h2.95m42 0h2.95m26.1 0h2.95m64 0h2.95m18.1 0h2.95M-479 120h2.95m46 0h2.95m10.1 0h2.95m42 0h2.95m22.1 0h2.95m16.1 0h2.95m35 0h2.95m24.1 0h2.95m30.1 0h2.95m51 0h2.95m28.1 0h2.95m65 0h2.95m27.1 0h2.95m19.1 0h2.95m8.1 0h2.95m0 0h2.95m5 0h2.95m3 0h2.95m-1 0h2.95m7 0h2.95m7 0h2.95m11.1 0h2.95m26.1 0h2.95m68 0h2.95m38 0h2.95m111 0h2.95m52 0h2.95m42 0h2.95m22.1 0h2.95m27.1 0h2.95M-421 121h2.95m21.1 0h2.95m7 0h2.95m43 0h2.95m38 0h2.95m26.1 0h2.95m100 0h2.95m43 0h2.95m38 0h2.95m23.1 0h2.95m28.1 0h2.95m-2 0h2.95m16.1 0h2.95m5 0h2.95m-2 0h2.95m16.1 0h2.95m22.1 0h2.95m34 0h2.95m34 0h2.95m30.1 0h2.95m9.1 0h2.95m28.1 0h2.95m24.1 0h2.95m52 0h2.95m31.1 0h2.95m12.1 0h2.95m32 0h2.95m44 0h2.95m38 0h2.95m3 0h2.95m27.1 0h2.95M-470 122h2.95m27.1 0h2.95m-2 0h2.95m28.1 0h2.95m26.1 0h2.95m34 0h2.95m21.1 0h2.95m21.1 0h2.95m35 0h2.95m36 0h2.95m60 0h2.95m14.1 0h2.95m-1 0h2.95m34 0h2.95m53 0h2.95m11.1 0h2.95m22.1 0h2.95m17.1 0h2.95m5 0h2.95m22.1 0h2.95m22.1 0h2.95m11.1 0h2.95m2 0h2.95m27.1 0h2.95m83 0h2.95m17.1 0h2.95m27.1 0h2.95m89 0h2.95m16.1 0h2.95m13.1 0h2.95m51 0h2.95m43 0h2.95M-440 123h2.95m35 0h2.95m39 0h2.95m22.1 0h2.95m55 0h2.95m28.1 0h2.95m12.1 0h2.95m62 0h2.95m40 0h2.95m50 0h2.95m24.1 0h2.95m15.1 0h2.95m5 0h2.95m16.1 0h2.95m21.1 0h2.95m33 0h2.95m18.1 0h2.95m15.1 0h2.95m33 0h2.95m1 0h2.95m43 0h2.95m27.1 0h2.95m54 0h2.95m21.1 0h2.95m38 0h2.95m23.1 0h2.95m37 0h2.95m33 0h2.95m25.1 0h2.95M-490 124h2.95m24.1 0h2.95m28.1 0h2.95m14.1 0h2.95m30.1 0h2.95m55 0h2.95m30.1 0h2.95m46 0h2.95m55 0h2.95m62 0h2.95m30.1 0h2.95m28.1 0h2.95m15.1 0h2.95m14.1 0h2.95m7 0h2.95m0 0h2.95m8.1 0h2.95m5 0h2.95m15.1 0h2.95m40 0h2.95m17.1 0h2.95m30.1 0h2.95m12.1 0h2.95m7 0h2.95m13.1 0h2.95m13.1 0h2.95m44 0h2.95m24.1 0h2.95m29.1 0h2.95m2 0h2.95m28.1 0h2.95m30.1 0h2.95m47 0h2.95m36 0h2.95m32 0h2.95M-458 125h2.95m39 0h2.95m54 0h2.95m37 0h2.95m48 0h2.95m50 0h2.95m52 0h2.95m41 0h2.95m35 0h2.95m13.1 0h2.95m44 0h2.95m8.1 0h2.95m13.1 0h2.95m13.1 0h2.95m28.1 0h2.95m29.1 0h2.95m28.1 0h2.95m-2 0h2.95m43 0h2.95m31.1 0h2.95m38 0h2.95m12.1 0h2.95m33 0h2.95m48 0h2.95m44 0h2.95m60 0h2.95m33 0h2.95M-459 126h2.95m6 0h2.95m-1 0h2.95m38 0h2.95m40 0h2.95m19.1 0h2.95m-2 0h2.95m29.1 0h2.95m52 0h2.95m25.1 0h2.95m32 0h2.95m32 0h2.95m1 0h2.95m18.1 0h2.95m24.1 0h2.95m35 0h2.95m20.1 0h2.95m9.1 0h2.95m12.1 0h2.95m3 0h2.95m0 0h2.95m4 0h2.95m0 0h2.95m5 0h2.95m8.1 0h2.95m14.1 0h2.95m75 0h2.95m63 0h2.95m45 0h2.95m33 0h2.95m51 0h2.95m66 0h2.95m51 0h2.95m24.1 0h2.95M-467 127h2.95m12.1 0h2.95m8.1 0h2.95m42 0h2.95m50 0h2.95m66 0h2.95m43 0h2.95m5 0h2.95m28.1 0h2.95m14.1 0h2.95m39 0h2.95m39 0h2.95m29.1 0h2.95m32 0h2.95m11.1 0h2.95m4 0h2.95m11.1 0h2.95m6 0h2.95m9.1 0h2.95m11.1 0h2.95m18.1 0h2.95m42 0h2.95m9.1 0h2.95m70 0h2.95m75 0h2.95m73 0h2.95m33 0h2.95m37 0h2.95m32 0h2.95m25.1 0h2.95M-455 128h2.95m37 0h2.95m31.1 0h2.95m47 0h2.95m18.1 0h2.95m64 0h2.95m34 0h2.95m21.1 0h2.95m42 0h2.95m25.1 0h2.95m33 0h2.95m33 0h2.95m22.1 0h2.95m5 0h2.95m1 0h2.95m6 0h2.95m38 0h2.95m40 0h2.95m15.1 0h2.95m29.1 0h2.95m10.1 0h2.95m52 0h2.95m21.1 0h2.95m8.1 0h2.95m36 0h2.95m28.1 0h2.95m34 0h2.95m52 0h2.95m17.1 0h2.95m64 0h2.95M-468 129h2.95m27.1 0h2.95m12.1 0h2.95m53 0h2.95m10.1 0h2.95m45 0h2.95m57 0h2.95m44 0h2.95m35 0h2.95m40 0h2.95m15.1 0h2.95m27.1 0h2.95m53 0h2.95m3 0h2.95m-1 0h2.95m12.1 0h2.95m19.1 0h2.95m16.1 0h2.95m70 0h2.95m56 0h2.95m16.1 0h2.95m29.1 0h2.95m28.1 0h2.95m42 0h2.95m18.1 0h2.95m37 0h2.95m43 0h2.95m37 0h2.95m24.1 0h2.95M-487 130h2.95m62 0h2.95m29.1 0h2.95m32 0h2.95m44 0h2.95m46 0h2.95m36 0h2.95m43 0h2.95m40 0h2.95m36 0h2.95m62 0h2.95m14.1 0h2.95m-1 0h2.95m15.1 0h2.95m22.1 0h2.95m22.1 0h2.95m50 0h2.95m6 0h2.95m43 0h2.95m57 0h2.95m34 0h2.95m31.1 0h2.95m90 0h2.95m31.1 0h2.95m3 0h2.95m52 0h2.95M-435 131h2.95m73 0h2.95m4 0h2.95m30.1 0h2.95m77 0h2.95m59 0h2.95m21.1 0h2.95m19.1 0h2.95m48 0h2.95m63 0h2.95m9.1 0h2.95m17.1 0h2.95m2 0h2.95m38 0h2.95m29.1 0h2.95m13.1 0h2.95m33 0h2.95m12.1 0h2.95m29.1 0h2.95m41 0h2.95m38 0h2.95m18.1 0h2.95m16.1 0h2.95m51 0h2.95m11.1 0h2.95m22.1 0h2.95m53 0h2.95M-463 132h2.95m29.1 0h2.95m62 0h2.95m6 0h2.95m37 0h2.95m50 0h2.95m41 0h2.95m8.1 0h2.95m55 0h2.95m9.1 0h2.95m23.1 0h2.95m36 0h2.95m34 0h2.95m24.1 0h2.95m18.1 0h2.95m23.1 0h2.95m63 0h2.95m58 0h2.95m66 0h2.95m43 0h2.95m39 0h2.95m26.1 0h2.95m50 0h2.95m26.1 0h2.95m57 0h2.95M-461 133h2.95m15.1 0h2.95m16.1 0h2.95m75 0h2.95m35 0h2.95m83 0h2.95m38 0h2.95m39 0h2.95m39 0h2.95m39 0h2.95m13.1 0h2.95m14.1 0h2.95m20.1 0h2.95m-2 0h2.95m20.1 0h2.95m4 0h2.95m64 0h2.95m36 0h2.95m53 0h2.95m32 0h2.95m93 0h2.95m152.1 0h2.95M-462 134h2.95m16.1 0h2.95m13.1 0h2.95m77 0h2.95m97 0h2.95m48 0h2.95m49 0h2.95m54 0h2.95m48 0h2.95m19.1 0h2.95m15.1 0h2.95m10.1 0h2.95m9.1 0h2.95m39 0h2.95m48 0h2.95m45 0h2.95m30.1 0h2.95m12.1 0h2.95m87 0h2.95m64 0h2.95m64 0h2.95m34 0h2.95m9.1 0h2.95M-436 135h2.95m10.1 0h2.95m43 0h2.95m16.1 0h2.95m59 0h2.95m36 0h2.95m47 0h2.95m24.1 0h2.95m28.1 0h2.95m33 0h2.95m48 0h2.95m22.1 0h2.95m18.1 0h2.95m18.1 0h2.95m44 0h2.95m13.1 0h2.95m7 0h2.95m84 0h2.95m8.1 0h2.95m1 0h2.95m71 0h2.95m12.1 0h2.95m46 0h2.95m38 0h2.95m37 0h2.95m66 0h2.95M-464 136h2.95m47 0h2.95m42 0h2.95m36 0h2.95m53 0h2.95m25.1 0h2.95m30.1 0h2.95m4 0h2.95m26.1 0h2.95m33 0h2.95m15.1 0h2.95m16.1 0h2.95m55 0h2.95m38 0h2.95m8.1 0h2.95m-2 0h2.95m15.1 0h2.95m-1 0h2.95m29.1 0h2.95m28.1 0h2.95m44 0h2.95m46 0h2.95m30.1 0h2.95m27.1 0h2.95m59 0h2.95m30.1 0h2.95m60 0h2.95m31.1 0h2.95m10.1 0h2.95M-460 137h2.95m54 0h2.95m99 0h2.95m98 0h2.95m24.1 0h2.95m61 0h2.95m52 0h2.95m33 0h2.95m20.1 0h2.95m34 0h2.95m19.1 0h2.95m9.1 0h2.95m22.1 0h2.95m83 0h2.95m48 0h2.95m69 0h2.95m41 0h2.95m36 0h2.95m67 0h2.95M-491 138h2.95m39 0h2.95m31.1 0h2.95m110 0h2.95m42 0h2.95m33 0h2.95m21.1 0h2.95m14.1 0h2.95m93 0h2.95m13.1 0h2.95m55 0h2.95m7 0h2.95m11.1 0h2.95m15.1 0h2.95m32 0h2.95m22.1 0h2.95m42 0h2.95m113 0h2.95m28.1 0h2.95m17.1 0h2.95m61 0h2.95m61 0h2.95m9.1 0h2.95M-463 139h2.95m35 0h2.95m117 0h2.95m43 0h2.95m37 0h2.95m65 0h2.95m90 0h2.95m13.1 0h2.95m0 0h2.95m18.1 0h2.95m12.1 0h2.95m-2 0h2.95m14.1 0h2.95m18.1 0h2.95m57 0h2.95m43 0h2.95m0 0h2.95m81 0h2.95m37 0h2.95m7 0h2.95m61 0h2.95m41 0h2.95m47 0h2.95M-467 140h2.95m43 0h2.95m79 0h2.95m52 0h2.95m57 0h2.95m50 0h2.95m21.1 0h2.95m55 0h2.95m31.1 0h2.95m29.1 0h2.95m15.1 0h2.95m10.1 0h2.95m11.1 0h2.95m14.1 0h2.95m38 0h2.95m22.1 0h2.95m98 0h2.95m25.1 0h2.95m46 0h2.95m23.1 0h2.95m43 0h2.95m38 0h2.95m10.1 0h2.95m47 0h2.95m34 0h2.95M-385 141h2.95m59 0h2.95m35 0h2.95m97 0h2.95m83 0h2.95m0 0h2.95m18.1 0h2.95m55 0h2.95m9.1 0h2.95m8.1 0h2.95m2 0h2.95m70 0h2.95m103 0h2.95m61 0h2.95m26.1 0h2.95m57 0h2.95m94 0h2.95M-461 142h2.95m83 0h2.95m31.1 0h2.95m44 0h2.95m113 0h2.95m66 0h2.95m50 0h2.95m42 0h2.95m19.1 0h2.95m89 0h2.95m36 0h2.95m125 0h2.95m74 0h2.95m56 0h2.95m39 0h2.95m7 0h2.95M-481 143h2.95m79 0h2.95m26.1 0h2.95m2 0h2.95m9.1 0h2.95m73 0h2.95m48 0h2.95m56 0h2.95m46 0h2.95m56 0h2.95m43 0h2.95m20.1 0h2.95m28.1 0h2.95m85 0h2.95m54 0h2.95m116 0h2.95m22.1 0h2.95m69 0h2.95m41 0h2.95M-448 144h2.95m121 0h2.95m44 0h2.95m89 0h2.95m61 0h2.95m51 0h2.95m41 0h2.95m26.1 0h2.95m19.1 0h2.95m-1 0h2.95m28.1 0h2.95m63 0h2.95m65 0h2.95m97 0h2.95m60 0h2.95m23.1 0h2.95m33 0h2.95m20.1 0h2.95m5 0h2.95m21.1 0h2.95M-440 145h2.95m33 0h2.95m64 0h2.95m110 0h2.95m117 0h2.95m35 0h2.95m28.1 0h2.95m24.1 0h2.95m15.1 0h2.95m20.1 0h2.95m24.1 0h2.95m98 0h2.95m32 0h2.95m119 0h2.95m57 0h2.95m65 0h2.95m42 0h2.95M-412 146h2.95m71 0h2.95m80 0h2.95m32 0h2.95m82 0h2.95m99 0h2.95m39 0h2.95m28.1 0h2.95m104 0h2.95m58 0h2.95m57 0h2.95m60 0h2.95m52 0h2.95m88 0h2.95M-469 147h2.95m70 0h2.95m36 0h2.95m57 0h2.95m46 0h2.95m61 0h2.95m84 0h2.95m58 0h2.95m21.1 0h2.95m4 0h2.95m9.1 0h2.95m34 0h2.95m32 0h2.95m82 0h2.95m69 0h2.95m129.1 0h2.95m103 0h2.95M-465 148h2.95m125 0h2.95m38 0h2.95m129.1 0h2.95m72 0h2.95m69 0h2.95m12.1 0h2.95m14.1 0h2.95m70 0h2.95m84 0h2.95m108 0h2.95m63 0h2.95M-470 149h2.95m50 0h2.95m47 0h2.95m48 0h2.95m63 0h2.95m156.1 0h2.95m42 0h2.95m43 0h2.95m109 0h2.95m64 0h2.95m50 0h2.95m52 0h2.95m115 0h2.95m76 0h2.95M-422 150h2.95m36 0h2.95m65 0h2.95m175.1 0h2.95m28.1 0h2.95m25.1 0h2.95m52 0h2.95m16.1 0h2.95m9.1 0h2.95m30.1 0h2.95m48 0h2.95m89 0h2.95m92 0h2.95m44 0h2.95m-1 0h2.95m100 0h2.95M-479 151h2.95m70 0h2.95m90 0h2.95m56 0h2.95m59 0h2.95m114 0h2.95m15.1 0h2.95m50 0h2.95m26.1 0h2.95m108 0h2.95m39 0h2.95m40 0h2.95m106 0h2.95m101 0h2.95m41 0h2.95M-419 152h2.95m62 0h2.95m166.1 0h2.95m114 0h2.95m48 0h2.95m37 0h2.95m70 0h2.95m56 0h2.95m39 0h2.95m20.1 0h2.95m94 0h2.95m46 0h2.95m62 0h2.95m38 0h2.95M-480 153h2.95m105 0h2.95m89 0h2.95m126 0h2.95m83 0h2.95m83 0h2.95m48 0h2.95m101 0h2.95m83 0h2.95m64 0h2.95m7 0h2.95m47 0h2.95m71 0h2.95M-401 154h2.95m140.1 0h2.95m58 0h2.95m142.1 0h2.95m34 0h2.95m62 0h2.95m59 0h2.95m70 0h2.95m79 0h2.95m111 0h2.95M-465 155h2.95m106 0h2.95m58 0h2.95m81 0h2.95m57 0h2.95m68 0h2.95m59 0h2.95m20.1 0h2.95m2 0h2.95m22.1 0h2.95m149.1 0h2.95m66 0h2.95m56 0h2.95m69 0h2.95M-469 156h2.95m61 0h2.95m82 0h2.95m37 0h2.95m113 0h2.95m19.1 0h2.95m7 0h2.95m59 0h2.95m43 0h2.95m35 0h2.95m27.1 0h2.95m110 0h2.95m72 0h2.95m88 0h2.95m49 0h2.95m70 0h2.95M-397 157h2.95m194.1 0h2.95m156.1 0h2.95m79 0h2.95m33 0h2.95m105 0h2.95m115 0h2.95m44 0h2.95m118 0h2.95M-436 158h2.95m206.1 0h2.95m120 0h2.95m77 0h2.95m12.1 0h2.95m63 0h2.95m217.1 0h2.95m197.1 0h2.95M-399 159h2.95m109 0h2.95m45 0h2.95m138.1 0h2.95m160.1 0h2.95m201.1 0h2.95m183.1 0h2.95M-308 160h2.95m71 0h2.95m50 0h2.95m172.1 0h2.95m31.1 0h2.95m150.1 0h2.95m101 0h2.95m48 0h2.95M-459 161h2.95m87 0h2.95m52 0h2.95m175.1 0h2.95m45 0h2.95m49 0h2.95m49 0h2.95m104 0h2.95m89 0h2.95m191.1 0h2.95M-397 162h2.95m160.1 0h2.95m103 0h2.95m81 0h2.95m195.1 0h2.95m110 0h2.95m159.1 0h2.95M-467 163h2.95m60 0h2.95m296.1 0h2.95m186.1 0h2.95m104 0h2.95m121 0h2.95M-480 164h2.95m101 0h2.95m41 0h2.95m55 0h2.95m265.1 0h2.95m154.1 0h2.95m307.1 0h2.95M-348 165h2.95m92 0h2.95m82 0h2.95m143.1 0h2.95m70 0h2.95m262.1 0h2.95m152.1 0h2.95M-391 166h2.95m94 0h2.95m178.1 0h2.95m115 0h2.95m68 0h2.95m126 0h2.95m139.1 0h2.95M-383 167h2.95m441.1 0h2.95m336.1 0h2.95M-179 168h2.95m138.1 0h2.95m46 0h2.95m145.1 0h2.95m286.1 0h2.95M-303 169h2.95m238.1 0h2.95m132.1 0h2.95m184.1 0h2.95m186.1 0h2.95M-274 170h2.95m385.1 0h2.95m281.1 0h2.95M-166 171h2.95m94 0h2.95m236.1 0h2.95M-446 172h2.95m189.1 0h2.95m326.1 0h2.95m226.1 0h2.95M-442 173h2.95m505.1 0h2.95m92 0h2.95m62 0h2.95m247.1 0h2.95M-271 174h2.95m522 0h2.95m206.1 0h2.95M-294 175h2.95m226.1 0h2.95m117 0h2.95m180.1 0h2.95m221.1 0h2.95M-269 176h2.95m286.1 0h2.95m146.1 0h2.95M-299 177h2.95m513 0h2.95m24.1 0h2.95M-444 178h2.95m578 0h2.95M-462 179h2.95m503.1 0h2.95M-250 180h2.95m412.1 0h2.95M-224 181h2.95m298.1 0h2.95M-305 182h2.95m730 0h2.95M-476 184h2.95M-316 185h2.95M-66 186h2.95m269.1 0h2.95m192.1 0h2.95M11 187h2.95m431.1 0h2.95M-261 189h2.95m749 0h2.95M149 191h2.95M124 192h2.95M317 193h2.95M-143 195h2.95m477.1 0h2.95M-370 197h2.95M-70 202h2.95M345 208h2.95"/>
</g>
<path d="M59.76 394.69H592.24" stroke="#CD2626" stroke-width="2.25" stroke-dasharray="9 9" stroke-linecap="round" fill="none"/>
<path d="M289.14 580.24V47.8" stroke="#006400" stroke-width="2.25" stroke-dasharray="9 9" stroke-linecap="round" fill="none"/>
<path d="M361.86 580.24V47.8" stroke="#006400" stroke-width="2.25" stroke-dasharray="9 9" stroke-linecap="round" fill="none"/>
<rect x="59.76" y="47.8" width="532.48" height="532.44" fill="none" stroke="#000" stroke-width="0.75"/>
<path d="M126.29 580.24H524.71M126.29 580.24v6.4M225.9 580.24v6.4M325.5 580.24v6.4M425.1 580.24v6.4M524.71 580.24v6.4" fill="none" stroke="#000" stroke-width="0.75"/>
<text x="125.49" y="602" font-size="10.9" text-anchor="middle">-400</text>
<text x="225.1" y="602" font-size="10.9" text-anchor="middle">-200</text>
<text x="324.7" y="602" font-size="10.9" text-anchor="middle">0</text>
<text x="424.3" y="602" font-size="10.9" text-anchor="middle">200</text>
<text x="523.91" y="602" font-size="10.9" text-anchor="middle">400</text>
<path d="M59.76 528.44V67.24M59.76 528.44h-6.4M59.76 413.14h-6.4M59.76 297.84h-6.4M59.76 182.54h-6.4M59.76 67.24h-6.4" fill="none" stroke="#000" stroke-width="0.75"/>
<text transform="translate(45,528.44) rotate(-90)" font-size="10.9" text-anchor="middle">80</text>
<text transform="translate(45,413.14) rotate(-90)" font-size="10.9" text-anchor="middle">85</text>
<text transform="translate(45,297.84) rotate(-90)" font-size="10.9" text-anchor="middle">90</text>
<text transform="translate(45,182.54) rotate(-90)" font-size="10.9" text-anchor="middle">95</text>
<text transform="translate(45,67.24) rotate(-90)" font-size="10.9" text-anchor="middle">100</text>
<text x="323.4" y="32.1" font-size="21.55" font-weight="bold" text-anchor="middle">Top hit for each peak</text>
<text x="326" y="625.7" font-size="15.94" text-anchor="middle">Distance to peak summit</text>
<text transform="translate(21.6,314) rotate(-90)" font-size="15.94" text-anchor="middle">Motif score</text>
<defs>
<filter id="cm" x="0" y="0" width="100%" height="100%" color-interpolation-filters="sRGB"><feComponentTransfer><feFuncR type="table" tableValues="1 0 1"/><feFuncG type="table" tableValues="0 0 1"/><feFuncB type="table" tableValues="0 1 1"/></feComponentTransfer></filter>
<clipPath id="hc"><rect x="699.76" y="47.8" width="532.48" height="532.44"/></clipPath>
<linearGradient id="gb" gradientUnits="userSpaceOnUse" x1="0" y1="47.8" x2="0" y2="580.24">
<stop offset="0.0004" stop-color="#000" stop-opacity="0.007"/>
<stop offset="0.0980" stop-color="#000" stop-opacity="0.018"/>
<stop offset="0.1544" stop-color="#000" stop-opacity="0.028"/>
<stop offset="0.1919" stop-color="#000" stop-opacity="0.039"/>
<stop offset="0.2295" stop-color="#000" stop-opacity="0.053"/>
<stop offset="0.2671" stop-color="#000" stop-opacity="0.068"/>
<stop offset="0.3046" stop-color="#000" stop-opacity="0.082"/>
<stop offset="0.3798" stop-color="#000" stop-opacity="0.099"/>
<stop offset="0.4549" stop-color="#000" stop-opacity="0.113"/>
<stop offset="0.5112" stop-color="#000" stop-opacity="0.122"/>
<stop offset="0.5582" stop-color="#000" stop-opacity="0.117"/>
<stop offset="0.5957" stop-color="#000" stop-opacity="0.104"/>
<stop offset="0.6333" stop-color="#000" stop-opacity="0.080"/>
<stop offset="0.6803" stop-color="#000" stop-opacity="0.053"/>
<stop offset="0.7366" stop-color="#000" stop-opacity="0.034"/>
<stop offset="0.7930" stop-color="#000" stop-opacity="0.021"/>
<stop offset="0.8493" stop-color="#000" stop-opacity="0.012"/>
<stop offset="0.9244" stop-color="#000" stop-opacity="0.005"/>
<stop offset="0.9995" stop-color="#000" stop-opacity="0.002"/>
</linearGradient>
<linearGradient id="gh" gradientUnits="userSpaceOnUse" x1="0" y1="47.8" x2="0" y2="580.24">
<stop offset="0.0004" stop-color="#fff" stop-opacity="0.265"/>
<stop offset="0.0192" stop-color="#fff" stop-opacity="0.374"/>
<stop offset="0.0417" stop-color="#fff" stop-opacity="0.494"/>
<stop offset="0.0699" stop-color="#fff" stop-opacity="0.624"/>
<stop offset="0.0999" stop-color="#fff" stop-opacity="0.745"/>
<stop offset="0.1450" stop-color="#fff" stop-opacity="0.856"/>
<stop offset="0.1919" stop-color="#fff" stop-opacity="0.927"/>
<stop offset="0.2389" stop-color="#fff" stop-opacity="0.973"/>
<stop offset="0.2896" stop-color="#fff" stop-opacity="1.000"/>
<stop offset="0.3328" stop-color="#fff" stop-opacity="0.973"/>
<stop offset="0.3798" stop-color="#fff" stop-opacity="0.911"/>
<stop offset="0.4267" stop-color="#fff" stop-opacity="0.821"/>
<stop offset="0.4662" stop-color="#fff" stop-opacity="0.729"/>
<stop offset="0.5018" stop-color="#fff" stop-opacity="0.636"/>
<stop offset="0.5394" stop-color="#fff" stop-opacity="0.546"/>
<stop offset="0.5864" stop-color="#fff" stop-opacity="0.440"/>
<stop offset="0.6145" stop-color="#fff" stop-opacity="0.350"/>
<stop offset="0.6389" stop-color="#fff" stop-opacity="0.285"/>
<stop offset="0.6615" stop-color="#fff" stop-opacity="0.231"/>
<stop offset="0.6990" stop-color="#fff" stop-opacity="0.150"/>
<stop offset="0.7554" stop-color="#fff" stop-opacity="0.072"/>
<stop offset="0.8117" stop-color="#fff" stop-opacity="0.022"/>
<stop offset="0.8869" stop-color="#fff" stop-opacity="0.000"/>
<stop offset="0.9620" stop-color="#fff" stop-opacity="0.000"/>
<stop offset="0.9995" stop-color="#fff" stop-opacity="0.000"/>
</linearGradient>
<linearGradient id="gx" gradientUnits="userSpaceOnUse" x1="890.47" y1="0" x2="1040.47" y2="0">
<stop offset="0.0000" stop-color="#000" stop-opacity="0.000"/>
<stop offset="0.1000" stop-color="#000" stop-opacity="0.006"/>
<stop offset="0.1667" stop-color="#000" stop-opacity="0.017"/>
<stop offset="0.2200" stop-color="#000" stop-opacity="0.035"/>
<stop offset="0.2600" stop-color="#000" stop-opacity="0.062"/>
<stop offset="0.2867" stop-color="#000" stop-opacity="0.098"/>
<stop offset="0.3133" stop-color="#000" stop-opacity="0.165"/>
<stop offset="0.3333" stop-color="#000" stop-opacity="0.255"/>
<stop offset="0.3533" stop-color="#000" stop-opacity="0.385"/>
<stop offset="0.3680" stop-color="#000" stop-opacity="0.496"/>
<stop offset="0.3933" stop-color="#000" stop-opacity="0.610"/>
<stop offset="0.4133" stop-color="#000" stop-opacity="0.720"/>
<stop offset="0.4333" stop-color="#000" stop-opacity="0.830"/>
<stop offset="0.4533" stop-color="#000" stop-opacity="0.920"/>
<stop offset="0.4733" stop-color="#000" stop-opacity="0.970"/>
<stop offset="0.4867" stop-color="#000" stop-opacity="0.992"/>
<stop offset="0.5000" stop-color="#000" stop-opacity="1.000"/>
<stop offset="0.5133" stop-color="#000" stop-opacity="0.992"/>
<stop offset="0.5267" stop-color="#000" stop-opacity="0.970"/>
<stop offset="0.5467" stop-color="#000" stop-opacity="0.920"/>
<stop offset="0.5667" stop-color="#000" stop-opacity="0.830"/>
<stop offset="0.5867" stop-color="#000" stop-opacity="0.720"/>
<stop offset="0.6067" stop-color="#000" stop-opacity="0.610"/>
<stop offset="0.6320" stop-color="#000" stop-opacity="0.496"/>
<stop offset="0.6467" stop-color="#000" stop-opacity="0.385"/>
<stop offset="0.6667" stop-color="#000" stop-opacity="0.255"/>
<stop offset="0.6867" stop-color="#000" stop-opacity="0.165"/>
<stop offset="0.7133" stop-color="#000" stop-opacity="0.098"/>
<stop offset="0.7400" stop-color="#000" stop-opacity="0.062"/>
<stop offset="0.7800" stop-color="#000" stop-opacity="0.035"/>
<stop offset="0.8333" stop-color="#000" stop-opacity="0.017"/>
<stop offset="0.9000" stop-color="#000" stop-opacity="0.006"/>
<stop offset="1.0000" stop-color="#000" stop-opacity="0.000"/>
</linearGradient>
<mask id="mh" style="mask-type:alpha" maskUnits="userSpaceOnUse" x="699.76" y="47.8" width="532.48" height="532.44"><rect x="699.76" y="47.8" width="532.48" height="532.44" fill="url(#gh)"/></mask>
<linearGradient id="ge" gradientUnits="userSpaceOnUse" x1="699.76" y1="0" x2="1232.24" y2="0"><stop offset="0" stop-color="#fff" stop-opacity=".6"/><stop offset=".012" stop-color="#fff" stop-opacity=".36"/><stop offset=".026" stop-color="#fff" stop-opacity=".18"/><stop offset=".042" stop-color="#fff" stop-opacity=".06"/><stop offset=".06" stop-color="#fff" stop-opacity="0"/><stop offset=".94" stop-color="#fff" stop-opacity="0"/><stop offset=".958" stop-color="#fff" stop-opacity=".06"/><stop offset=".974" stop-color="#fff" stop-opacity=".18"/><stop offset=".988" stop-color="#fff" stop-opacity=".36"/><stop offset="1" stop-color="#fff" stop-opacity=".6"/></linearGradient>
<filter id="bl" x="-50%" y="-50%" width="200%" height="200%"><feGaussianBlur stdDeviation="14"/></filter>
</defs>
<g clip-path="url(#hc)"><g filter="url(#cm)">
<rect x="698.76" y="46.8" width="534.48" height="534.44" fill="#fff"/>
<rect x="699.76" y="47.8" width="532.48" height="532.44" fill="url(#gb)"/>
<g opacity=".1"><g filter="url(#bl)"><ellipse cx="785" cy="320" rx="35" ry="28" fill="#000" fill-opacity="0.6"/><ellipse cx="738" cy="338" rx="25" ry="20" fill="#000" fill-opacity="0.3"/><ellipse cx="842" cy="242" rx="20" ry="30" fill="#000" fill-opacity="0.3"/><ellipse cx="1185" cy="281" rx="22" ry="25" fill="#000" fill-opacity="0.55"/><ellipse cx="1056" cy="358" rx="18" ry="22" fill="#000" fill-opacity="0.35"/><ellipse cx="1146" cy="349" rx="20" ry="22" fill="#000" fill-opacity="0.35"/><ellipse cx="1103" cy="306" rx="25" ry="20" fill="#000" fill-opacity="0.3"/><ellipse cx="1077" cy="268" rx="20" ry="20" fill="#000" fill-opacity="0.25"/><ellipse cx="880" cy="352" rx="20" ry="20" fill="#000" fill-opacity="0.3"/><ellipse cx="760" cy="250" rx="25" ry="25" fill="#000" fill-opacity="0.2"/><ellipse cx="1210" cy="340" rx="15" ry="25" fill="#000" fill-opacity="0.3"/><ellipse cx="905" cy="270" rx="12" ry="40" fill="#000" fill-opacity="0.3"/><ellipse cx="1030" cy="300" rx="12" ry="40" fill="#000" fill-opacity="0.3"/><ellipse cx="850" cy="445" rx="30" ry="12" fill="#000" fill-opacity="0.2"/><ellipse cx="1180" cy="450" rx="30" ry="12" fill="#000" fill-opacity="0.2"/><ellipse cx="730" cy="290" rx="14" ry="30" fill="#000" fill-opacity="0.25"/><ellipse cx="1230" cy="300" rx="10" ry="40" fill="#000" fill-opacity="0.25"/><ellipse cx="990" cy="420" rx="14" ry="20" fill="#000" fill-opacity="0.15"/><ellipse cx="940" cy="430" rx="14" ry="20" fill="#000" fill-opacity="0.15"/><ellipse cx="709" cy="457" rx="12" ry="34" fill="#000" fill-opacity="0.22"/><ellipse cx="715" cy="166" rx="14" ry="22" fill="#000" fill-opacity="0.1"/><ellipse cx="713" cy="369" rx="16" ry="23" fill="#000" fill-opacity="0.1"/><ellipse cx="742" cy="491" rx="12" ry="37" fill="#000" fill-opacity="0.22"/><ellipse cx="755" cy="143" rx="14" ry="24" fill="#000" fill-opacity="0.16"/><ellipse cx="749" cy="379" rx="16" ry="19" fill="#000" fill-opacity="0.1"/><ellipse cx="780" cy="493" rx="12" ry="25" fill="#000" fill-opacity="0.2"/><ellipse cx="786" cy="181" rx="14" ry="36" fill="#000" fill-opacity="0.15"/><ellipse cx="793" cy="377" rx="16" ry="17" fill="#000" fill-opacity="0.16"/><ellipse cx="812" cy="495" rx="12" ry="29" fill="#000" fill-opacity="0.18"/><ellipse cx="824" cy="158" rx="14" ry="34" fill="#000" fill-opacity="0.18"/><ellipse cx="811" cy="363" rx="16" ry="28" fill="#000" fill-opacity="0.1"/><ellipse cx="856" cy="475" rx="12" ry="32" fill="#000" fill-opacity="0.13"/><ellipse cx="847" cy="183" rx="14" ry="38" fill="#000" fill-opacity="0.13"/><ellipse cx="846" cy="252" rx="16" ry="28" fill="#000" fill-opacity="0.11"/><ellipse cx="888" cy="481" rx="12" ry="36" fill="#000" fill-opacity="0.15"/><ellipse cx="887" cy="122" rx="14" ry="25" fill="#000" fill-opacity="0.12"/><ellipse cx="879" cy="339" rx="16" ry="22" fill="#000" fill-opacity="0.21"/><ellipse cx="921" cy="488" rx="12" ry="33" fill="#000" fill-opacity="0.12"/><ellipse cx="916" cy="139" rx="14" ry="24" fill="#000" fill-opacity="0.2"/><ellipse cx="910" cy="298" rx="16" ry="27" fill="#000" fill-opacity="0.09"/><ellipse cx="1024" cy="477" rx="12" ry="22" fill="#000" fill-opacity="0.26"/><ellipse cx="1014" cy="158" rx="14" ry="22" fill="#000" fill-opacity="0.12"/><ellipse cx="1017" cy="276" rx="16" ry="17" fill="#000" fill-opacity="0.1"/><ellipse cx="1055" cy="451" rx="12" ry="22" fill="#000" fill-opacity="0.19"/><ellipse cx="1061" cy="147" rx="14" ry="24" fill="#000" fill-opacity="0.17"/><ellipse cx="1065" cy="259" rx="16" ry="28" fill="#000" fill-opacity="0.16"/><ellipse cx="1082" cy="497" rx="12" ry="36" fill="#000" fill-opacity="0.12"/><ellipse cx="1088" cy="172" rx="14" ry="31" fill="#000" fill-opacity="0.09"/><ellipse cx="1082" cy="334" rx="16" ry="16" fill="#000" fill-opacity="0.12"/><ellipse cx="1130" cy="489" rx="12" ry="32" fill="#000" fill-opacity="0.26"/><ellipse cx="1123" cy="181" rx="14" ry="25" fill="#000" fill-opacity="0.12"/><ellipse cx="1123" cy="268" rx="16" ry="21" fill="#000" fill-opacity="0.21"/><ellipse cx="1165" cy="477" rx="12" ry="27" fill="#000" fill-opacity="0.19"/><ellipse cx="1162" cy="140" rx="14" ry="39" fill="#000" fill-opacity="0.08"/><ellipse cx="1162" cy="246" rx="16" ry="16" fill="#000" fill-opacity="0.14"/><ellipse cx="1199" cy="463" rx="12" ry="24" fill="#000" fill-opacity="0.24"/><ellipse cx="1197" cy="138" rx="14" ry="31" fill="#000" fill-opacity="0.16"/><ellipse cx="1200" cy="333" rx="16" ry="28" fill="#000" fill-opacity="0.21"/></g></g>
<g opacity=".5"><g filter="url(#bl)"><ellipse cx="1140" cy="185" rx="95" ry="22" fill="#fff" fill-opacity="0.7"/><ellipse cx="820" cy="130" rx="60" ry="30" fill="#fff" fill-opacity="0.4"/><ellipse cx="760" cy="420" rx="30" ry="14" fill="#fff" fill-opacity="0.4"/><ellipse cx="1100" cy="425" rx="40" ry="14" fill="#fff" fill-opacity="0.4"/><ellipse cx="1000" cy="150" rx="25" ry="40" fill="#fff" fill-opacity="0.3"/><ellipse cx="930" cy="160" rx="20" ry="40" fill="#fff" fill-opacity="0.25"/></g></g>
<rect x="699.76" y="47.8" width="532.48" height="532.44" fill="url(#ge)"/>
<rect x="890.47" y="47.8" width="150" height="532.44" fill="url(#gx)" mask="url(#mh)"/>
</g></g>
<rect x="851" y="47.8" width="1" height="532.44" fill="#fff"/>
<rect x="1048" y="47.8" width="1" height="532.44" fill="#fff"/>
<path d="M926.2 580.24V47.8" stroke="#006400" stroke-width="1.5" stroke-dasharray="6 6" stroke-linecap="round" fill="none"/>
<path d="M1004.74 580.24V47.8" stroke="#006400" stroke-width="1.5" stroke-dasharray="6 6" stroke-linecap="round" fill="none"/>
<path d="M699.76 400.97H1232.24" stroke="#CD3340" stroke-width="1.5" stroke-dasharray="6 6" stroke-linecap="round" fill="none"/>
<rect x="699.76" y="47.8" width="532.48" height="532.44" fill="none" stroke="#000" stroke-width="0.75"/>
<path d="M750.31 580.24H1180.63M750.31 580.24v6.4M857.89 580.24v6.4M965.47 580.24v6.4M1073.05 580.24v6.4M1180.63 580.24v6.4" fill="none" stroke="#000" stroke-width="0.75"/>
<text x="750.01" y="602" font-size="10.9" text-anchor="middle">-400</text>
<text x="857.59" y="602" font-size="10.9" text-anchor="middle">-200</text>
<text x="965.17" y="602" font-size="10.9" text-anchor="middle">0</text>
<text x="1072.75" y="602" font-size="10.9" text-anchor="middle">200</text>
<text x="1180.33" y="602" font-size="10.9" text-anchor="middle">400</text>
<path d="M699.76 544.8V47.8M699.76 544.8h-6.4M699.76 420.55h-6.4M699.76 296.3h-6.4M699.76 172.05h-6.4M699.76 47.8h-6.4" fill="none" stroke="#000" stroke-width="0.75"/>
<text transform="translate(685,544.8) rotate(-90)" font-size="10.9" text-anchor="middle">80</text>
<text transform="translate(685,420.55) rotate(-90)" font-size="10.9" text-anchor="middle">85</text>
<text transform="translate(685,296.3) rotate(-90)" font-size="10.9" text-anchor="middle">90</text>
<text transform="translate(685,172.05) rotate(-90)" font-size="10.9" text-anchor="middle">95</text>
<text transform="translate(685,47.8) rotate(-90)" font-size="10.9" text-anchor="middle">100</text>
<text x="966" y="32.1" font-size="21.55" font-weight="bold" text-anchor="middle">Density heat map for the top hits</text>
<text x="966" y="625.7" font-size="15.94" text-anchor="middle">Distance to peak summit</text>
<text transform="translate(661.6,314) rotate(-90)" font-size="15.94" text-anchor="middle">Motif score</text>
<path d="M79.2 1200.5C80.97 1200.46 86.23 1200.39 89.8 1200.28C93.37 1200.16 96.84 1200.07 100.62 1199.83C104.41 1199.58 108.44 1199.3 112.5 1198.81C116.56 1198.32 120.83 1197.73 125 1196.88C129.17 1196.02 133.44 1194.91 137.5 1193.66C141.56 1192.41 145.73 1190.9 149.38 1189.39C153.02 1187.87 156.41 1186.3 159.38 1184.58C162.34 1182.85 164.79 1181.13 167.19 1179.01C169.58 1176.9 171.56 1174.63 173.75 1171.88C175.94 1169.12 178.02 1165.92 180.31 1162.49C182.6 1159.05 185.1 1155.1 187.5 1151.25C189.9 1147.4 192.45 1143.37 194.69 1139.39C196.93 1135.4 199.04 1131.47 200.94 1127.35C202.84 1123.23 204.47 1119.09 206.09 1114.69C207.7 1110.29 209.13 1105.73 210.61 1100.94C212.1 1096.15 213.54 1091.04 215 1085.94C216.46 1080.83 217.8 1075.9 219.39 1070.31C220.98 1064.73 222.61 1059.12 224.54 1052.42C226.46 1045.73 228.78 1037.86 230.94 1030.16C233.1 1022.47 235.36 1014.27 237.5 1006.25C239.64 998.23 241.67 990.49 243.75 982.02C245.83 973.56 247.92 964.78 250 955.48C252.08 946.17 254.17 935.95 256.25 926.19C258.33 916.42 260.43 905.99 262.5 896.88C264.57 887.76 266.59 879.69 268.68 871.47C270.76 863.26 272.88 855.74 275.01 847.58C277.15 839.41 279.42 830.43 281.5 822.5C283.58 814.57 285.59 806.98 287.5 800C289.41 793.02 291.21 786.77 292.95 780.62C294.69 774.48 296.36 768.59 297.95 763.12C299.54 757.66 301.01 752.6 302.5 747.81C303.99 743.02 305.45 738.44 306.89 734.38C308.32 730.31 309.75 726.56 311.1 723.44C312.45 720.31 313.73 717.75 315 715.62C316.27 713.5 317.5 711.93 318.75 710.69C320 709.45 321.25 708.7 322.5 708.19C323.75 707.67 324.95 707.57 326.25 707.59C327.55 707.61 328.85 707.97 330.31 708.3C331.77 708.63 333.39 709.19 335 709.55C336.61 709.91 338.39 710.22 340 710.49C341.61 710.76 343.23 710.84 344.69 711.17C346.15 711.51 347.45 711.84 348.75 712.49C350.05 713.14 351.25 713.97 352.5 715.09C353.75 716.2 355 717.61 356.25 719.16C357.5 720.71 358.75 722.63 360 724.39C361.25 726.14 362.5 728.13 363.75 729.7C365 731.27 366.25 732.78 367.5 733.83C368.75 734.88 370 735.6 371.25 736C372.5 736.4 373.75 736.37 375 736.24C376.25 736.11 377.53 735.57 378.75 735.21C379.97 734.85 381.19 734.27 382.34 734.06C383.48 733.85 384.52 733.66 385.61 733.94C386.71 734.21 387.75 734.71 388.9 735.73C390.05 736.74 391.27 738.18 392.5 740.01C393.73 741.85 394.95 744.01 396.25 746.73C397.55 749.44 398.85 752.67 400.31 756.31C401.77 759.95 403.39 764.45 405 768.56C406.61 772.68 408.33 776.98 410 781C411.67 785.02 413.33 788.69 415 792.66C416.67 796.64 418.33 800.58 420 804.85C421.67 809.12 423.33 813.77 425 818.27C426.67 822.78 428.33 827.6 430 831.88C431.67 836.15 433.33 840.17 435 843.93C436.67 847.68 438.33 850.94 440 854.4C441.67 857.86 443.33 861.11 445 864.7C446.67 868.29 448.33 872.05 450 875.92C451.67 879.8 453.33 883.99 455 887.95C456.67 891.91 458.3 895.8 460 899.67C461.7 903.55 463.33 907.21 465.23 911.2C467.12 915.19 469.17 919.42 471.39 923.6C473.61 927.78 476.18 932.09 478.55 936.28C480.92 940.46 483.38 944.45 485.59 948.7C487.8 952.95 489.87 957.29 491.82 961.77C493.78 966.26 495.6 970.97 497.3 975.62C499 980.28 500.55 984.93 502 989.69C503.45 994.44 504.75 999.2 506.03 1004.15C507.3 1009.1 508.45 1014.18 509.65 1019.39C510.85 1024.6 512 1029.93 513.23 1035.4C514.45 1040.87 515.69 1046.47 517 1052.2C518.31 1057.93 519.67 1063.87 521.1 1069.78C522.53 1075.68 524.1 1081.86 525.58 1087.65C527.05 1093.44 528.58 1099.13 529.98 1104.53C531.37 1109.92 532.64 1114.92 533.92 1120C535.21 1125.08 536.45 1130.08 537.68 1135C538.9 1139.92 540.15 1144.97 541.3 1149.55C542.45 1154.13 543.54 1158.56 544.58 1162.47C545.61 1166.39 546.54 1169.86 547.5 1173.03C548.46 1176.19 549.34 1178.91 550.33 1181.45C551.31 1183.99 552.3 1186.22 553.4 1188.25C554.5 1190.28 555.71 1192.13 556.92 1193.65C558.14 1195.17 559.39 1196.42 560.68 1197.38C561.96 1198.33 563.29 1198.88 564.65 1199.35C566.01 1199.82 567.5 1199.98 568.86 1200.17C570.23 1200.37 572.19 1200.45 572.85 1200.5Z" fill="#F5DEB3" stroke="#000" stroke-width="1.1" stroke-linejoin="round"/>
<path d="M256 1220.24V687.8" stroke="#CD3333" stroke-width="1.5" stroke-dasharray="6 6" stroke-linecap="round" fill="none"/>
<rect x="59.76" y="687.8" width="532.48" height="532.44" fill="none" stroke="#000" stroke-width="0.75"/>
<path d="M140 1220.24H540M140 1220.24v6.4M240 1220.24v6.4M340 1220.24v6.4M440 1220.24v6.4M540 1220.24v6.4" fill="none" stroke="#000" stroke-width="0.75"/>
<text x="140.2" y="1242" font-size="10.9" text-anchor="middle">80</text>
<text x="240.2" y="1242" font-size="10.9" text-anchor="middle">85</text>
<text x="340.2" y="1242" font-size="10.9" text-anchor="middle">90</text>
<text x="440.2" y="1242" font-size="10.9" text-anchor="middle">95</text>
<text x="540.2" y="1242" font-size="10.9" text-anchor="middle">100</text>
<path d="M59.76 1200.3V749.3M59.76 1200.3h-6.4M59.76 1087.55h-6.4M59.76 974.8h-6.4M59.76 862.05h-6.4M59.76 749.3h-6.4" fill="none" stroke="#000" stroke-width="0.75"/>
<text transform="translate(45,1200.3) rotate(-90)" font-size="10.9" text-anchor="middle">0.00</text>
<text transform="translate(45,1087.55) rotate(-90)" font-size="10.9" text-anchor="middle">0.02</text>
<text transform="translate(45,974.8) rotate(-90)" font-size="10.9" text-anchor="middle">0.04</text>
<text transform="translate(45,862.05) rotate(-90)" font-size="10.9" text-anchor="middle">0.06</text>
<text transform="translate(45,749.3) rotate(-90)" font-size="10.9" text-anchor="middle">0.08</text>
<text x="326" y="672.1" font-size="21.55" font-weight="bold" text-anchor="middle">Motif score threshold: 85.800</text>
<text x="326" y="1265.7" font-size="15.94" text-anchor="middle">Motif score</text>
<text transform="translate(21.6,954) rotate(-90)" font-size="15.94" text-anchor="middle">Density</text>
<path d="M719.3 1200.5C720.47 1200.4 724.05 1200.83 726.3 1199.9C728.55 1198.97 730.62 1197.75 732.8 1194.9C734.98 1192.05 737.22 1187.37 739.4 1182.8C741.58 1178.23 743.72 1172.05 745.9 1167.5C748.08 1162.95 750.48 1158.12 752.5 1155.5C754.52 1152.88 755.82 1152.5 758 1151.8C760.18 1151.1 762.32 1151.63 765.6 1151.3C768.88 1150.97 773.68 1149.98 777.7 1149.8C781.72 1149.62 786.25 1150.6 789.7 1150.2C793.15 1149.8 795.48 1148.08 798.4 1147.4C801.32 1146.72 804.28 1145.95 807.2 1146.1C810.12 1146.25 812.98 1147.43 815.9 1148.3C818.82 1149.17 822.13 1150.68 824.7 1151.3C827.27 1151.92 828.75 1152.22 831.3 1152C833.85 1151.78 836.73 1150.77 840 1150C843.27 1149.23 847.62 1147.68 850.9 1147.4C854.18 1147.12 856.42 1147.75 859.7 1148.3C862.98 1148.85 866.95 1150.05 870.6 1150.7C874.25 1151.35 877.95 1152.02 881.6 1152.2C885.25 1152.38 889.43 1151.8 892.5 1151.8C895.57 1151.8 897.75 1152.18 900 1152.2C902.25 1152.22 903.96 1152.48 906 1151.9C908.04 1151.33 910.17 1150.32 912.25 1148.75C914.33 1147.18 916.42 1145.21 918.5 1142.5C920.58 1139.79 922.98 1135.83 924.75 1132.5C926.52 1129.17 927.81 1126.04 929.1 1122.5C930.39 1118.96 931.45 1115.42 932.5 1111.25C933.55 1107.08 934.44 1102.71 935.4 1097.5C936.36 1092.29 937.36 1086.25 938.25 1080C939.14 1073.75 939.98 1066.67 940.75 1060C941.52 1053.33 942.27 1046.67 942.9 1040C943.52 1033.33 944.02 1025.83 944.5 1020C944.98 1014.17 945.25 1011.67 945.75 1005C946.25 998.33 946.92 989.17 947.5 980C948.08 970.83 948.71 960 949.25 950C949.79 940 950.29 930 950.75 920C951.21 910 951.58 900 952 890C952.42 880 952.92 867.92 953.25 860C953.58 852.08 953.73 848.33 954 842.5C954.27 836.67 954.61 830.83 954.9 825C955.19 819.17 955.44 813.33 955.75 807.5C956.06 801.67 956.39 795.83 956.75 790C957.11 784.17 957.51 778.33 957.9 772.5C958.29 766.67 958.68 760.42 959.1 755C959.52 749.58 959.93 745 960.4 740C960.87 735 961.38 729.58 961.9 725C962.42 720.42 963.07 715.23 963.5 712.5C963.93 709.77 964.17 709.47 964.5 708.6C964.83 707.73 965.17 707.3 965.5 707.3C965.83 707.3 966.17 707.73 966.5 708.6C966.83 709.47 967.07 709.77 967.5 712.5C967.93 715.23 968.58 720.42 969.1 725C969.62 729.58 970.13 735 970.6 740C971.07 745 971.48 749.58 971.9 755C972.32 760.42 972.71 766.67 973.1 772.5C973.49 778.33 973.89 784.17 974.25 790C974.61 795.83 974.94 801.67 975.25 807.5C975.56 813.33 975.81 819.17 976.1 825C976.39 830.83 976.73 836.67 977 842.5C977.27 848.33 977.46 852.08 977.75 860C978.04 867.92 978.36 880 978.75 890C979.14 900 979.62 910 980.1 920C980.58 930 981.03 940 981.6 950C982.17 960 982.87 970.83 983.5 980C984.13 989.17 984.88 998.33 985.4 1005C985.92 1011.67 986.12 1014.17 986.6 1020C987.08 1025.83 987.62 1033.33 988.25 1040C988.88 1046.67 989.62 1053.33 990.4 1060C991.17 1066.67 992.01 1073.75 992.9 1080C993.79 1086.25 994.77 1092.29 995.75 1097.5C996.73 1102.71 997.67 1107.08 998.75 1111.25C999.83 1115.42 1001.04 1119.17 1002.25 1122.5C1003.46 1125.83 1004.54 1128.33 1006 1131.25C1007.46 1134.17 1009.33 1137.71 1011 1140C1012.67 1142.29 1014.33 1143.85 1016 1145C1017.67 1146.15 1019.23 1146.73 1021 1146.9C1022.77 1147.07 1024.4 1146.5 1026.6 1146C1028.8 1145.5 1031.65 1143.78 1034.2 1143.9C1036.75 1144.02 1039.53 1145.68 1041.9 1146.7C1044.27 1147.72 1046.4 1149.33 1048.4 1150C1050.4 1150.67 1051.7 1150.98 1053.9 1150.7C1056.1 1150.42 1059.05 1148.93 1061.6 1148.3C1064.15 1147.67 1066.28 1146.9 1069.2 1146.9C1072.12 1146.9 1075.63 1147.72 1079.1 1148.3C1082.57 1148.88 1086.53 1149.87 1090 1150.4C1093.47 1150.93 1096.98 1151.57 1099.9 1151.5C1102.82 1151.43 1104.95 1150.8 1107.5 1150C1110.05 1149.2 1112.83 1147.43 1115.2 1146.7C1117.57 1145.97 1119.52 1145.42 1121.7 1145.6C1123.88 1145.78 1125.92 1147 1128.3 1147.8C1130.68 1148.6 1133.45 1150.1 1136 1150.4C1138.55 1150.7 1140.87 1150 1143.6 1149.6C1146.33 1149.2 1149.67 1148 1152.4 1148C1155.13 1148 1157.63 1149.08 1160 1149.6C1162.37 1150.12 1164.42 1150.6 1166.6 1151.1C1168.78 1151.6 1171.1 1151.68 1173.1 1152.6C1175.1 1153.52 1176.77 1154.48 1178.6 1156.6C1180.43 1158.72 1182.27 1161.67 1184.1 1165.3C1185.93 1168.93 1187.78 1174.2 1189.6 1178.4C1191.42 1182.6 1193.18 1187.28 1195 1190.5C1196.82 1193.72 1198.67 1196.1 1200.5 1197.7C1202.33 1199.3 1204 1199.63 1206 1200.1C1208 1200.57 1211.42 1200.43 1212.5 1200.5Z" fill="#F5DEB3" stroke="#000" stroke-width="1.1" stroke-linejoin="round"/>
<path d="M932.48 1220.24V687.8" stroke="#006400" stroke-width="1.5" stroke-dasharray="6 6" stroke-linecap="round" fill="none"/>
<path d="M998.62 1220.24V687.8" stroke="#006400" stroke-width="1.5" stroke-dasharray="6 6" stroke-linecap="round" fill="none"/>
<rect x="699.76" y="687.8" width="532.48" height="532.44" fill="none" stroke="#000" stroke-width="0.75"/>
<path d="M784.35 1220.24H1146.75M784.35 1220.24v6.4M874.95 1220.24v6.4M965.55 1220.24v6.4M1056.15 1220.24v6.4M1146.75 1220.24v6.4" fill="none" stroke="#000" stroke-width="0.75"/>
<text x="784.35" y="1242" font-size="10.9" text-anchor="middle">-400</text>
<text x="874.95" y="1242" font-size="10.9" text-anchor="middle">-200</text>
<text x="965.55" y="1242" font-size="10.9" text-anchor="middle">0</text>
<text x="1056.15" y="1242" font-size="10.9" text-anchor="middle">200</text>
<text x="1146.75" y="1242" font-size="10.9" text-anchor="middle">400</text>
<path d="M699.76 1200.3V697.8M699.76 1200.3h-6.4M699.76 1116.55h-6.4M699.76 1032.8h-6.4M699.76 949.05h-6.4M699.76 865.3h-6.4M699.76 781.55h-6.4M699.76 697.8h-6.4" fill="none" stroke="#000" stroke-width="0.75"/>
<text transform="translate(685,1200.3) rotate(-90)" font-size="10.9" text-anchor="middle">0.000</text>
<text transform="translate(685,1116.55) rotate(-90)" font-size="10.9" text-anchor="middle">0.001</text>
<text transform="translate(685,1032.8) rotate(-90)" font-size="10.9" text-anchor="middle">0.002</text>
<text transform="translate(685,949.05) rotate(-90)" font-size="10.9" text-anchor="middle">0.003</text>
<text transform="translate(685,865.3) rotate(-90)" font-size="10.9" text-anchor="middle">0.004</text>
<text transform="translate(685,781.55) rotate(-90)" font-size="10.9" text-anchor="middle">0.005</text>
<text transform="translate(685,697.8) rotate(-90)" font-size="10.9" text-anchor="middle">0.006</text>
<text x="966" y="672.1" font-size="21.55" font-weight="bold" text-anchor="middle">Enrichment zone: 73.00</text>
<text x="966" y="1265.7" font-size="15.94" text-anchor="middle">Distance to peak summit</text>
<text transform="translate(661.6,954) rotate(-90)" font-size="15.94" text-anchor="middle">Density</text>
<path d="M1017.5 703.4H1041.5" stroke="#006400" stroke-width="1.125" stroke-dasharray="1.125 3.375" stroke-linecap="round" fill="none"/>
<path d="M1017.5 718.9H1041.5" stroke="#CD3333" stroke-width="1.125" stroke-dasharray="1.125 3.375" stroke-linecap="round" fill="none"/>
<circle cx="1029" cy="734.5" r="2.8" fill="#0000ff"/>
<text x="1051.8" y="707.2" font-size="12.88">enrichment zone = 73</text>
<text x="1051.8" y="723.5" font-size="12.88">motif score threshold = 85.800</text>
<text x="1051.8" y="739.1" font-size="12.88">centrality p-val = -23.2428</text>
</svg></body></html>
